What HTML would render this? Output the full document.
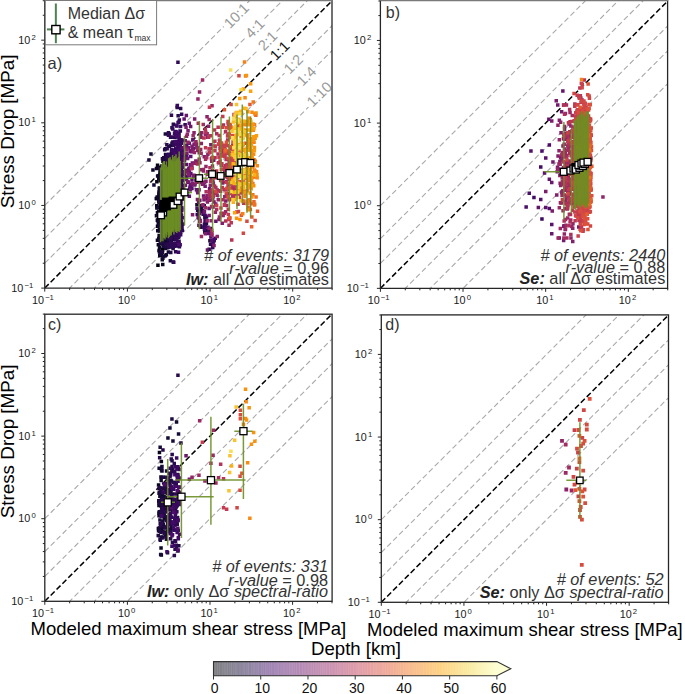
<!DOCTYPE html><html><head><meta charset="utf-8"><title>Stress drop vs modeled shear stress</title><style>html,body{margin:0;padding:0;background:#fff;overflow:hidden}svg{display:block}text{font-family:"Liberation Sans",sans-serif}</style></head><body>
<svg width="685" height="694" viewBox="0 0 685 694">
<rect width="685" height="694" fill="#fff"/>
<defs>
<clipPath id="clipa"><rect x="44.76" y="0.6" width="287.24" height="287.5"/></clipPath>
<clipPath id="clipb"><rect x="380.4" y="0.9" width="287.2" height="287.45"/></clipPath>
<clipPath id="clipc"><rect x="44.8" y="314.2" width="287.3" height="287.1"/></clipPath>
<clipPath id="clipd"><rect x="381.3" y="314.9" width="287.2" height="287.4"/></clipPath>
</defs>
<g clip-path="url(#clipa)">
<line x1="44.76" y1="205.45" x2="414.78" y2="-164.56" stroke="#a9a9a9" stroke-width="1.1" stroke-dasharray="5.4 3"/>
<line x1="44.76" y1="238.34" x2="414.78" y2="-131.67" stroke="#a9a9a9" stroke-width="1.1" stroke-dasharray="5.4 3"/>
<line x1="44.76" y1="263.22" x2="414.78" y2="-106.79" stroke="#a9a9a9" stroke-width="1.1" stroke-dasharray="5.4 3"/>
<line x1="44.76" y1="288.1" x2="414.78" y2="-81.92" stroke="#000" stroke-width="1.5" stroke-dasharray="5.6 2.7"/>
<line x1="44.76" y1="312.98" x2="414.78" y2="-57.04" stroke="#a9a9a9" stroke-width="1.1" stroke-dasharray="5.4 3"/>
<line x1="44.76" y1="337.86" x2="414.78" y2="-32.16" stroke="#a9a9a9" stroke-width="1.1" stroke-dasharray="5.4 3"/>
<line x1="44.76" y1="370.75" x2="414.78" y2="0.73" stroke="#a9a9a9" stroke-width="1.1" stroke-dasharray="5.4 3"/>
<path fill="#000004" d="M160.7 247.4h3.5v3.5h-3.5z"/>
<path fill="#04020f" d="M156.2 263.5h3.5v3.5h-3.5zM155.8 224.5h3.5v3.5h-3.5zM154.6 196.8h3.5v3.5h-3.5zM159.2 222.8h3.5v3.5h-3.5zM157.7 186.7h3.5v3.5h-3.5z"/>
<path fill="#090419" d="M158.5 251.2h3.5v3.5h-3.5zM158.0 254.1h3.5v3.5h-3.5zM157.1 200.2h3.5v3.5h-3.5zM163.0 223.0h3.5v3.5h-3.5zM161.4 232.7h3.5v3.5h-3.5zM158.8 215.8h3.5v3.5h-3.5zM160.3 239.5h3.5v3.5h-3.5zM155.8 163.4h3.5v3.5h-3.5zM160.0 224.5h3.5v3.5h-3.5zM160.8 169.4h3.5v3.5h-3.5zM159.4 174.8h3.5v3.5h-3.5zM159.9 240.0h3.5v3.5h-3.5zM155.0 204.0h3.5v3.5h-3.5zM171.4 205.9h3.5v3.5h-3.5zM161.1 228.4h3.5v3.5h-3.5zM159.0 218.7h3.5v3.5h-3.5zM165.5 185.2h3.5v3.5h-3.5zM159.4 198.5h3.5v3.5h-3.5zM156.9 218.2h3.5v3.5h-3.5zM157.9 214.0h3.5v3.5h-3.5zM155.1 180.0h3.5v3.5h-3.5zM156.3 218.0h3.5v3.5h-3.5zM154.9 196.8h3.5v3.5h-3.5zM159.0 201.0h3.5v3.5h-3.5zM156.6 243.0h3.5v3.5h-3.5zM163.7 230.7h3.5v3.5h-3.5zM159.4 241.1h3.5v3.5h-3.5zM162.4 222.8h3.5v3.5h-3.5zM160.2 216.1h3.5v3.5h-3.5zM208.2 239.0h3.5v3.5h-3.5z"/>
<path fill="#0d0724" d="M165.3 206.7h3.5v3.5h-3.5zM155.7 238.6h3.5v3.5h-3.5zM164.1 198.0h3.5v3.5h-3.5zM157.4 165.4h3.5v3.5h-3.5zM164.1 177.2h3.5v3.5h-3.5zM162.0 189.5h3.5v3.5h-3.5zM167.0 231.2h3.5v3.5h-3.5zM159.6 253.5h3.5v3.5h-3.5zM158.3 196.9h3.5v3.5h-3.5zM158.2 171.1h3.5v3.5h-3.5zM163.6 199.6h3.5v3.5h-3.5zM167.9 217.1h3.5v3.5h-3.5zM162.3 201.9h3.5v3.5h-3.5zM164.6 239.6h3.5v3.5h-3.5zM160.7 186.0h3.5v3.5h-3.5zM156.8 211.5h3.5v3.5h-3.5zM157.3 193.1h3.5v3.5h-3.5zM162.8 230.3h3.5v3.5h-3.5zM158.5 220.4h3.5v3.5h-3.5zM164.9 211.7h3.5v3.5h-3.5zM160.5 258.1h3.5v3.5h-3.5zM160.9 233.7h3.5v3.5h-3.5zM160.7 178.0h3.5v3.5h-3.5zM159.0 169.2h3.5v3.5h-3.5zM166.6 211.5h3.5v3.5h-3.5zM158.0 199.9h3.5v3.5h-3.5zM159.2 241.6h3.5v3.5h-3.5zM167.4 210.9h3.5v3.5h-3.5zM158.4 179.1h3.5v3.5h-3.5zM159.3 198.4h3.5v3.5h-3.5zM160.4 223.7h3.5v3.5h-3.5zM164.5 173.6h3.5v3.5h-3.5zM161.2 208.1h3.5v3.5h-3.5zM163.6 254.0h3.5v3.5h-3.5zM165.0 199.8h3.5v3.5h-3.5zM163.2 196.2h3.5v3.5h-3.5zM165.5 184.1h3.5v3.5h-3.5zM159.2 235.8h3.5v3.5h-3.5zM163.9 177.8h3.5v3.5h-3.5zM162.4 208.0h3.5v3.5h-3.5zM167.5 208.0h3.5v3.5h-3.5zM160.7 250.8h3.5v3.5h-3.5zM167.8 212.2h3.5v3.5h-3.5zM157.5 213.3h3.5v3.5h-3.5zM161.6 223.1h3.5v3.5h-3.5zM160.4 181.6h3.5v3.5h-3.5zM161.3 219.0h3.5v3.5h-3.5zM159.9 200.9h3.5v3.5h-3.5zM166.5 195.5h3.5v3.5h-3.5zM168.1 188.1h3.5v3.5h-3.5zM165.2 174.9h3.5v3.5h-3.5zM164.4 214.7h3.5v3.5h-3.5zM166.7 212.0h3.5v3.5h-3.5zM163.7 193.1h3.5v3.5h-3.5zM160.1 195.2h3.5v3.5h-3.5zM157.6 191.7h3.5v3.5h-3.5zM157.7 229.3h3.5v3.5h-3.5zM157.3 248.8h3.5v3.5h-3.5zM161.6 211.0h3.5v3.5h-3.5zM161.2 213.4h3.5v3.5h-3.5zM161.0 262.7h3.5v3.5h-3.5zM154.7 166.8h3.5v3.5h-3.5zM157.8 245.4h3.5v3.5h-3.5zM164.6 155.9h3.5v3.5h-3.5zM155.6 218.5h3.5v3.5h-3.5zM164.4 227.2h3.5v3.5h-3.5zM165.5 222.8h3.5v3.5h-3.5zM165.2 223.3h3.5v3.5h-3.5zM159.9 199.0h3.5v3.5h-3.5zM165.7 175.6h3.5v3.5h-3.5zM167.6 207.2h3.5v3.5h-3.5zM163.5 241.4h3.5v3.5h-3.5zM161.2 207.8h3.5v3.5h-3.5zM167.3 192.3h3.5v3.5h-3.5zM155.1 206.3h3.5v3.5h-3.5zM163.0 174.4h3.5v3.5h-3.5zM165.9 214.7h3.5v3.5h-3.5z"/>
<path fill="#12092e" d="M161.7 229.0h3.5v3.5h-3.5zM165.7 211.3h3.5v3.5h-3.5zM161.1 256.5h3.5v3.5h-3.5zM160.4 190.4h3.5v3.5h-3.5zM164.8 164.1h3.5v3.5h-3.5zM166.9 198.5h3.5v3.5h-3.5zM161.3 213.5h3.5v3.5h-3.5zM158.4 194.4h3.5v3.5h-3.5zM163.3 190.3h3.5v3.5h-3.5zM167.5 228.2h3.5v3.5h-3.5zM160.8 221.4h3.5v3.5h-3.5zM168.3 208.1h3.5v3.5h-3.5zM162.2 212.8h3.5v3.5h-3.5zM161.7 202.4h3.5v3.5h-3.5zM162.4 205.7h3.5v3.5h-3.5zM160.9 166.2h3.5v3.5h-3.5zM160.8 208.2h3.5v3.5h-3.5zM157.7 211.3h3.5v3.5h-3.5zM166.5 201.8h3.5v3.5h-3.5zM166.9 183.8h3.5v3.5h-3.5zM159.4 217.7h3.5v3.5h-3.5zM167.0 226.2h3.5v3.5h-3.5zM159.7 234.5h3.5v3.5h-3.5zM163.8 152.7h3.5v3.5h-3.5zM162.9 186.9h3.5v3.5h-3.5zM159.6 240.7h3.5v3.5h-3.5zM163.4 222.4h3.5v3.5h-3.5zM165.9 245.9h3.5v3.5h-3.5zM163.4 194.0h3.5v3.5h-3.5zM165.8 233.2h3.5v3.5h-3.5zM163.7 237.9h3.5v3.5h-3.5zM162.3 210.5h3.5v3.5h-3.5zM169.1 143.7h3.5v3.5h-3.5zM169.0 206.4h3.5v3.5h-3.5zM161.5 214.1h3.5v3.5h-3.5zM163.0 214.4h3.5v3.5h-3.5zM161.5 196.0h3.5v3.5h-3.5zM157.6 227.4h3.5v3.5h-3.5zM163.2 194.8h3.5v3.5h-3.5zM165.0 213.4h3.5v3.5h-3.5zM167.4 230.9h3.5v3.5h-3.5zM159.1 214.0h3.5v3.5h-3.5zM162.3 211.1h3.5v3.5h-3.5zM170.8 157.4h3.5v3.5h-3.5zM161.2 159.5h3.5v3.5h-3.5zM160.3 201.9h3.5v3.5h-3.5zM160.7 212.6h3.5v3.5h-3.5zM168.3 206.9h3.5v3.5h-3.5zM165.3 219.2h3.5v3.5h-3.5zM165.8 198.2h3.5v3.5h-3.5zM163.8 202.5h3.5v3.5h-3.5zM170.3 223.5h3.5v3.5h-3.5zM160.7 201.6h3.5v3.5h-3.5zM161.7 212.3h3.5v3.5h-3.5zM157.3 217.4h3.5v3.5h-3.5zM158.2 199.2h3.5v3.5h-3.5zM161.9 230.9h3.5v3.5h-3.5zM163.0 188.5h3.5v3.5h-3.5zM163.6 157.6h3.5v3.5h-3.5zM167.0 245.1h3.5v3.5h-3.5zM159.4 174.3h3.5v3.5h-3.5zM167.9 216.9h3.5v3.5h-3.5zM162.5 225.3h3.5v3.5h-3.5zM164.1 159.9h3.5v3.5h-3.5zM158.9 192.2h3.5v3.5h-3.5zM166.3 196.7h3.5v3.5h-3.5zM159.4 212.8h3.5v3.5h-3.5zM168.6 208.2h3.5v3.5h-3.5zM159.5 213.1h3.5v3.5h-3.5zM162.2 156.3h3.5v3.5h-3.5zM161.8 196.0h3.5v3.5h-3.5zM163.8 219.4h3.5v3.5h-3.5zM168.5 171.7h3.5v3.5h-3.5zM155.7 211.1h3.5v3.5h-3.5zM166.2 188.8h3.5v3.5h-3.5zM162.8 190.6h3.5v3.5h-3.5zM167.6 178.1h3.5v3.5h-3.5zM163.8 184.2h3.5v3.5h-3.5zM165.6 181.6h3.5v3.5h-3.5zM159.0 173.2h3.5v3.5h-3.5zM165.0 225.0h3.5v3.5h-3.5zM166.7 225.7h3.5v3.5h-3.5zM164.5 224.8h3.5v3.5h-3.5zM157.1 198.4h3.5v3.5h-3.5zM164.1 201.0h3.5v3.5h-3.5zM171.4 207.1h3.5v3.5h-3.5zM168.2 215.9h3.5v3.5h-3.5zM161.9 212.2h3.5v3.5h-3.5zM164.2 181.7h3.5v3.5h-3.5zM155.5 195.3h3.5v3.5h-3.5zM163.6 188.5h3.5v3.5h-3.5zM156.6 221.6h3.5v3.5h-3.5zM167.4 233.9h3.5v3.5h-3.5zM166.0 209.7h3.5v3.5h-3.5zM162.3 197.4h3.5v3.5h-3.5zM171.9 227.7h3.5v3.5h-3.5zM156.0 229.1h3.5v3.5h-3.5zM168.1 200.2h3.5v3.5h-3.5zM161.4 243.0h3.5v3.5h-3.5zM164.0 232.8h3.5v3.5h-3.5zM163.5 219.6h3.5v3.5h-3.5zM164.0 233.7h3.5v3.5h-3.5zM161.2 180.4h3.5v3.5h-3.5zM160.9 220.3h3.5v3.5h-3.5zM163.7 197.7h3.5v3.5h-3.5zM170.9 198.0h3.5v3.5h-3.5zM171.9 218.9h3.5v3.5h-3.5zM168.5 194.8h3.5v3.5h-3.5zM162.4 209.3h3.5v3.5h-3.5zM167.3 165.6h3.5v3.5h-3.5zM170.3 168.5h3.5v3.5h-3.5zM165.6 218.6h3.5v3.5h-3.5zM162.8 215.3h3.5v3.5h-3.5zM161.4 197.5h3.5v3.5h-3.5zM169.0 200.3h3.5v3.5h-3.5zM165.9 241.3h3.5v3.5h-3.5zM155.9 174.2h3.5v3.5h-3.5zM162.6 180.4h3.5v3.5h-3.5zM169.6 204.2h3.5v3.5h-3.5zM175.0 220.1h3.5v3.5h-3.5zM157.8 199.8h3.5v3.5h-3.5zM164.4 189.7h3.5v3.5h-3.5zM169.0 242.9h3.5v3.5h-3.5zM159.7 241.3h3.5v3.5h-3.5zM165.0 222.3h3.5v3.5h-3.5zM168.4 171.5h3.5v3.5h-3.5zM157.0 236.8h3.5v3.5h-3.5zM157.1 205.7h3.5v3.5h-3.5zM176.8 170.2h3.5v3.5h-3.5zM169.7 215.2h3.5v3.5h-3.5zM163.2 243.5h3.5v3.5h-3.5zM159.1 211.5h3.5v3.5h-3.5zM161.5 179.3h3.5v3.5h-3.5zM162.9 202.0h3.5v3.5h-3.5zM167.2 195.5h3.5v3.5h-3.5zM172.7 206.9h3.5v3.5h-3.5zM161.7 209.5h3.5v3.5h-3.5zM159.0 194.6h3.5v3.5h-3.5zM157.0 176.4h3.5v3.5h-3.5zM170.0 221.8h3.5v3.5h-3.5zM167.9 238.4h3.5v3.5h-3.5zM170.2 212.0h3.5v3.5h-3.5zM162.0 209.7h3.5v3.5h-3.5zM157.4 233.8h3.5v3.5h-3.5zM158.8 205.0h3.5v3.5h-3.5zM162.5 220.3h3.5v3.5h-3.5zM171.3 184.1h3.5v3.5h-3.5zM171.7 187.1h3.5v3.5h-3.5zM163.8 246.6h3.5v3.5h-3.5zM159.5 234.5h3.5v3.5h-3.5zM159.2 206.5h3.5v3.5h-3.5zM166.3 238.1h3.5v3.5h-3.5zM154.7 214.1h3.5v3.5h-3.5zM166.6 250.3h3.5v3.5h-3.5zM160.4 204.3h3.5v3.5h-3.5zM157.7 189.9h3.5v3.5h-3.5zM163.6 147.1h3.5v3.5h-3.5zM156.8 209.7h3.5v3.5h-3.5zM160.4 218.8h3.5v3.5h-3.5zM157.1 194.2h3.5v3.5h-3.5zM168.0 211.8h3.5v3.5h-3.5zM161.6 178.0h3.5v3.5h-3.5zM163.3 183.2h3.5v3.5h-3.5zM162.8 198.4h3.5v3.5h-3.5zM165.1 223.3h3.5v3.5h-3.5zM167.7 239.6h3.5v3.5h-3.5zM166.4 230.8h3.5v3.5h-3.5zM158.4 191.8h3.5v3.5h-3.5zM164.6 252.9h3.5v3.5h-3.5zM165.5 197.5h3.5v3.5h-3.5zM169.7 170.2h3.5v3.5h-3.5zM160.3 208.9h3.5v3.5h-3.5zM157.7 250.3h3.5v3.5h-3.5zM160.2 202.6h3.5v3.5h-3.5zM165.3 181.3h3.5v3.5h-3.5zM163.4 179.0h3.5v3.5h-3.5zM156.1 219.1h3.5v3.5h-3.5zM162.8 204.8h3.5v3.5h-3.5zM159.1 212.7h3.5v3.5h-3.5zM161.7 221.3h3.5v3.5h-3.5zM195.2 202.9h3.5v3.5h-3.5zM151.2 168.2h3.5v3.5h-3.5z"/>
<path fill="#160b39" d="M168.6 259.1h3.5v3.5h-3.5zM172.0 182.4h3.5v3.5h-3.5zM164.9 174.4h3.5v3.5h-3.5zM161.9 177.7h3.5v3.5h-3.5zM166.4 205.3h3.5v3.5h-3.5zM160.7 189.7h3.5v3.5h-3.5zM172.3 180.8h3.5v3.5h-3.5zM168.8 227.8h3.5v3.5h-3.5zM164.2 198.5h3.5v3.5h-3.5zM165.8 201.6h3.5v3.5h-3.5zM157.2 224.3h3.5v3.5h-3.5zM169.8 170.6h3.5v3.5h-3.5zM169.3 185.1h3.5v3.5h-3.5zM166.1 217.4h3.5v3.5h-3.5zM161.9 208.9h3.5v3.5h-3.5zM160.8 220.4h3.5v3.5h-3.5zM172.0 208.1h3.5v3.5h-3.5zM172.6 202.4h3.5v3.5h-3.5zM162.2 169.1h3.5v3.5h-3.5zM165.9 204.5h3.5v3.5h-3.5zM173.8 199.9h3.5v3.5h-3.5zM167.1 219.9h3.5v3.5h-3.5zM171.0 199.5h3.5v3.5h-3.5zM166.9 215.4h3.5v3.5h-3.5zM168.9 179.7h3.5v3.5h-3.5zM166.0 200.7h3.5v3.5h-3.5zM162.0 190.0h3.5v3.5h-3.5zM168.8 226.9h3.5v3.5h-3.5zM161.7 178.3h3.5v3.5h-3.5zM160.1 198.0h3.5v3.5h-3.5zM169.8 173.8h3.5v3.5h-3.5zM169.3 208.5h3.5v3.5h-3.5zM161.5 178.5h3.5v3.5h-3.5zM166.3 192.6h3.5v3.5h-3.5zM169.7 231.4h3.5v3.5h-3.5zM162.6 208.7h3.5v3.5h-3.5zM170.3 232.0h3.5v3.5h-3.5zM168.5 215.7h3.5v3.5h-3.5zM170.1 196.6h3.5v3.5h-3.5zM165.5 189.3h3.5v3.5h-3.5zM164.2 205.1h3.5v3.5h-3.5zM168.9 174.5h3.5v3.5h-3.5zM170.7 192.4h3.5v3.5h-3.5zM167.9 169.9h3.5v3.5h-3.5zM170.4 226.2h3.5v3.5h-3.5zM164.8 210.9h3.5v3.5h-3.5zM166.9 191.3h3.5v3.5h-3.5zM163.7 203.5h3.5v3.5h-3.5zM177.5 200.3h3.5v3.5h-3.5zM160.4 180.7h3.5v3.5h-3.5zM169.1 192.5h3.5v3.5h-3.5zM165.1 195.8h3.5v3.5h-3.5zM168.1 206.7h3.5v3.5h-3.5zM174.0 207.2h3.5v3.5h-3.5zM173.9 202.5h3.5v3.5h-3.5zM169.8 181.2h3.5v3.5h-3.5zM160.9 237.2h3.5v3.5h-3.5zM158.5 223.5h3.5v3.5h-3.5zM167.8 179.3h3.5v3.5h-3.5zM172.6 196.0h3.5v3.5h-3.5zM168.8 165.4h3.5v3.5h-3.5zM172.9 237.4h3.5v3.5h-3.5zM165.3 203.1h3.5v3.5h-3.5zM167.6 214.2h3.5v3.5h-3.5zM171.0 179.7h3.5v3.5h-3.5zM164.9 205.8h3.5v3.5h-3.5zM159.2 215.0h3.5v3.5h-3.5zM170.2 203.7h3.5v3.5h-3.5zM166.8 231.5h3.5v3.5h-3.5zM168.5 204.4h3.5v3.5h-3.5zM161.4 179.6h3.5v3.5h-3.5zM172.2 214.0h3.5v3.5h-3.5zM166.0 194.0h3.5v3.5h-3.5zM163.0 177.0h3.5v3.5h-3.5zM166.4 209.4h3.5v3.5h-3.5zM167.3 190.9h3.5v3.5h-3.5zM161.7 244.6h3.5v3.5h-3.5zM172.4 192.2h3.5v3.5h-3.5zM168.0 226.9h3.5v3.5h-3.5zM162.6 233.5h3.5v3.5h-3.5zM165.3 167.4h3.5v3.5h-3.5zM169.8 161.9h3.5v3.5h-3.5zM168.3 197.6h3.5v3.5h-3.5zM169.1 161.9h3.5v3.5h-3.5zM167.6 184.6h3.5v3.5h-3.5zM168.8 217.0h3.5v3.5h-3.5zM164.2 180.3h3.5v3.5h-3.5zM166.3 216.6h3.5v3.5h-3.5zM167.1 212.1h3.5v3.5h-3.5zM166.3 183.3h3.5v3.5h-3.5zM158.1 222.4h3.5v3.5h-3.5zM167.9 213.7h3.5v3.5h-3.5zM173.1 184.6h3.5v3.5h-3.5zM169.3 178.3h3.5v3.5h-3.5zM172.5 217.0h3.5v3.5h-3.5zM163.7 203.7h3.5v3.5h-3.5zM165.0 217.6h3.5v3.5h-3.5zM164.1 175.6h3.5v3.5h-3.5zM164.7 206.2h3.5v3.5h-3.5zM171.5 152.9h3.5v3.5h-3.5zM171.9 149.6h3.5v3.5h-3.5zM165.8 207.8h3.5v3.5h-3.5zM167.2 190.1h3.5v3.5h-3.5zM162.6 231.0h3.5v3.5h-3.5zM176.3 214.1h3.5v3.5h-3.5zM164.7 161.8h3.5v3.5h-3.5zM172.6 203.2h3.5v3.5h-3.5zM163.6 132.3h3.5v3.5h-3.5zM162.9 233.2h3.5v3.5h-3.5zM165.0 184.9h3.5v3.5h-3.5zM160.1 164.3h3.5v3.5h-3.5zM170.2 235.4h3.5v3.5h-3.5zM164.1 204.4h3.5v3.5h-3.5zM170.3 214.6h3.5v3.5h-3.5zM166.8 216.9h3.5v3.5h-3.5zM157.5 189.9h3.5v3.5h-3.5zM169.5 211.7h3.5v3.5h-3.5zM172.1 213.1h3.5v3.5h-3.5zM172.3 215.8h3.5v3.5h-3.5zM159.7 174.2h3.5v3.5h-3.5zM165.1 179.8h3.5v3.5h-3.5zM164.3 220.8h3.5v3.5h-3.5zM159.2 214.0h3.5v3.5h-3.5zM164.6 188.1h3.5v3.5h-3.5zM173.5 232.2h3.5v3.5h-3.5zM162.0 192.6h3.5v3.5h-3.5zM166.9 241.4h3.5v3.5h-3.5zM162.0 254.8h3.5v3.5h-3.5zM172.5 243.6h3.5v3.5h-3.5zM168.7 216.4h3.5v3.5h-3.5zM163.2 209.7h3.5v3.5h-3.5zM172.5 228.7h3.5v3.5h-3.5zM168.2 206.0h3.5v3.5h-3.5zM169.4 205.8h3.5v3.5h-3.5zM166.5 229.4h3.5v3.5h-3.5zM157.7 186.2h3.5v3.5h-3.5zM165.2 174.4h3.5v3.5h-3.5zM162.7 181.3h3.5v3.5h-3.5zM175.5 206.3h3.5v3.5h-3.5zM159.3 198.7h3.5v3.5h-3.5zM168.6 202.4h3.5v3.5h-3.5zM172.6 209.1h3.5v3.5h-3.5zM169.7 149.3h3.5v3.5h-3.5zM158.6 198.3h3.5v3.5h-3.5zM165.2 210.7h3.5v3.5h-3.5zM163.3 167.1h3.5v3.5h-3.5zM167.4 199.8h3.5v3.5h-3.5zM168.5 169.3h3.5v3.5h-3.5zM168.9 227.2h3.5v3.5h-3.5zM172.9 179.7h3.5v3.5h-3.5zM156.1 205.4h3.5v3.5h-3.5zM174.8 172.2h3.5v3.5h-3.5zM161.9 160.2h3.5v3.5h-3.5zM166.5 214.8h3.5v3.5h-3.5zM161.5 210.4h3.5v3.5h-3.5zM165.9 194.7h3.5v3.5h-3.5zM159.2 252.6h3.5v3.5h-3.5zM170.1 184.7h3.5v3.5h-3.5zM163.7 205.8h3.5v3.5h-3.5zM173.0 185.6h3.5v3.5h-3.5zM173.7 184.2h3.5v3.5h-3.5zM170.4 197.4h3.5v3.5h-3.5zM166.5 212.9h3.5v3.5h-3.5zM174.0 200.3h3.5v3.5h-3.5zM166.7 176.6h3.5v3.5h-3.5zM161.9 242.0h3.5v3.5h-3.5zM168.6 204.0h3.5v3.5h-3.5zM171.3 197.7h3.5v3.5h-3.5zM163.0 223.0h3.5v3.5h-3.5zM162.9 212.1h3.5v3.5h-3.5zM164.8 226.6h3.5v3.5h-3.5zM173.9 201.8h3.5v3.5h-3.5zM168.1 193.4h3.5v3.5h-3.5zM165.9 213.2h3.5v3.5h-3.5zM164.5 187.3h3.5v3.5h-3.5zM173.5 170.2h3.5v3.5h-3.5zM164.3 199.3h3.5v3.5h-3.5zM164.5 158.3h3.5v3.5h-3.5zM163.4 212.5h3.5v3.5h-3.5zM167.6 214.5h3.5v3.5h-3.5zM167.6 202.2h3.5v3.5h-3.5zM175.2 221.6h3.5v3.5h-3.5zM163.9 234.6h3.5v3.5h-3.5zM161.1 238.4h3.5v3.5h-3.5zM168.1 179.9h3.5v3.5h-3.5zM173.4 195.6h3.5v3.5h-3.5zM165.0 226.7h3.5v3.5h-3.5zM167.2 209.0h3.5v3.5h-3.5zM158.4 202.4h3.5v3.5h-3.5zM170.1 213.0h3.5v3.5h-3.5zM165.9 160.0h3.5v3.5h-3.5zM169.3 177.7h3.5v3.5h-3.5zM170.8 233.2h3.5v3.5h-3.5zM165.6 188.6h3.5v3.5h-3.5zM165.4 221.3h3.5v3.5h-3.5zM165.8 209.7h3.5v3.5h-3.5zM168.8 232.5h3.5v3.5h-3.5zM162.7 190.2h3.5v3.5h-3.5zM163.8 204.6h3.5v3.5h-3.5zM174.3 208.7h3.5v3.5h-3.5zM173.5 179.2h3.5v3.5h-3.5zM166.4 220.9h3.5v3.5h-3.5zM174.0 171.2h3.5v3.5h-3.5zM172.0 220.0h3.5v3.5h-3.5zM157.2 191.3h3.5v3.5h-3.5zM162.7 170.5h3.5v3.5h-3.5zM167.6 196.2h3.5v3.5h-3.5zM160.7 240.0h3.5v3.5h-3.5zM169.9 177.6h3.5v3.5h-3.5zM166.6 193.4h3.5v3.5h-3.5zM169.2 222.2h3.5v3.5h-3.5zM167.9 232.5h3.5v3.5h-3.5zM163.9 222.3h3.5v3.5h-3.5zM162.9 199.8h3.5v3.5h-3.5zM167.0 181.2h3.5v3.5h-3.5zM173.9 203.4h3.5v3.5h-3.5zM160.5 176.1h3.5v3.5h-3.5zM163.6 173.5h3.5v3.5h-3.5zM162.1 224.4h3.5v3.5h-3.5zM159.8 237.2h3.5v3.5h-3.5zM166.2 210.2h3.5v3.5h-3.5zM170.9 209.1h3.5v3.5h-3.5zM166.4 226.2h3.5v3.5h-3.5zM166.5 185.2h3.5v3.5h-3.5zM158.8 241.9h3.5v3.5h-3.5zM163.3 210.3h3.5v3.5h-3.5zM167.2 198.8h3.5v3.5h-3.5zM164.6 229.8h3.5v3.5h-3.5zM171.3 245.5h3.5v3.5h-3.5zM160.2 200.0h3.5v3.5h-3.5zM168.9 206.7h3.5v3.5h-3.5zM163.8 211.8h3.5v3.5h-3.5zM167.8 239.1h3.5v3.5h-3.5zM165.9 227.0h3.5v3.5h-3.5zM161.5 195.7h3.5v3.5h-3.5zM162.3 188.0h3.5v3.5h-3.5zM162.9 177.8h3.5v3.5h-3.5zM166.4 194.8h3.5v3.5h-3.5zM161.4 222.7h3.5v3.5h-3.5zM204.9 229.0h3.5v3.5h-3.5zM199.9 206.4h3.5v3.5h-3.5zM204.4 222.0h3.5v3.5h-3.5zM197.3 211.3h3.5v3.5h-3.5zM208.9 226.7h3.5v3.5h-3.5zM149.2 152.2h3.5v3.5h-3.5zM152.2 183.2h3.5v3.5h-3.5z"/>
<path fill="#1f0b42" d="M170.1 238.6h3.5v3.5h-3.5zM170.4 181.3h3.5v3.5h-3.5zM165.0 199.7h3.5v3.5h-3.5zM162.0 156.1h3.5v3.5h-3.5zM173.0 192.9h3.5v3.5h-3.5zM166.0 186.1h3.5v3.5h-3.5zM168.2 232.6h3.5v3.5h-3.5zM174.5 194.8h3.5v3.5h-3.5zM167.5 167.4h3.5v3.5h-3.5zM170.1 188.8h3.5v3.5h-3.5zM169.1 162.3h3.5v3.5h-3.5zM166.9 220.9h3.5v3.5h-3.5zM164.9 189.0h3.5v3.5h-3.5zM171.9 200.9h3.5v3.5h-3.5zM168.1 209.5h3.5v3.5h-3.5zM169.0 216.6h3.5v3.5h-3.5zM172.5 179.3h3.5v3.5h-3.5zM172.1 197.8h3.5v3.5h-3.5zM172.2 153.9h3.5v3.5h-3.5zM174.3 207.2h3.5v3.5h-3.5zM160.1 250.0h3.5v3.5h-3.5zM172.6 223.6h3.5v3.5h-3.5zM167.8 184.4h3.5v3.5h-3.5zM172.8 162.0h3.5v3.5h-3.5zM179.7 169.0h3.5v3.5h-3.5zM164.0 165.5h3.5v3.5h-3.5zM161.7 175.5h3.5v3.5h-3.5zM168.1 215.8h3.5v3.5h-3.5zM170.8 233.8h3.5v3.5h-3.5zM173.2 208.5h3.5v3.5h-3.5zM174.9 174.2h3.5v3.5h-3.5zM173.1 172.2h3.5v3.5h-3.5zM168.1 210.9h3.5v3.5h-3.5zM170.5 184.3h3.5v3.5h-3.5zM169.4 192.9h3.5v3.5h-3.5zM168.9 217.3h3.5v3.5h-3.5zM165.6 209.0h3.5v3.5h-3.5zM158.1 238.7h3.5v3.5h-3.5zM173.1 201.1h3.5v3.5h-3.5zM162.8 204.6h3.5v3.5h-3.5zM157.2 199.7h3.5v3.5h-3.5zM166.8 181.0h3.5v3.5h-3.5zM172.6 206.2h3.5v3.5h-3.5zM170.2 199.9h3.5v3.5h-3.5zM163.2 201.6h3.5v3.5h-3.5zM176.0 199.5h3.5v3.5h-3.5zM168.2 208.9h3.5v3.5h-3.5zM162.1 182.2h3.5v3.5h-3.5zM168.9 201.8h3.5v3.5h-3.5zM165.3 201.0h3.5v3.5h-3.5zM176.0 211.3h3.5v3.5h-3.5zM173.1 231.6h3.5v3.5h-3.5zM178.3 175.3h3.5v3.5h-3.5zM168.6 196.2h3.5v3.5h-3.5zM168.0 203.2h3.5v3.5h-3.5zM166.7 211.8h3.5v3.5h-3.5zM174.1 157.4h3.5v3.5h-3.5zM167.9 221.4h3.5v3.5h-3.5zM169.7 193.1h3.5v3.5h-3.5zM166.6 162.8h3.5v3.5h-3.5zM167.2 183.5h3.5v3.5h-3.5zM166.8 210.5h3.5v3.5h-3.5zM164.1 194.7h3.5v3.5h-3.5zM173.8 164.3h3.5v3.5h-3.5zM163.1 179.0h3.5v3.5h-3.5zM169.8 213.6h3.5v3.5h-3.5zM165.5 202.8h3.5v3.5h-3.5zM169.9 228.9h3.5v3.5h-3.5zM176.5 192.9h3.5v3.5h-3.5zM162.1 216.8h3.5v3.5h-3.5zM161.3 203.4h3.5v3.5h-3.5zM170.0 210.8h3.5v3.5h-3.5zM175.4 180.0h3.5v3.5h-3.5zM167.8 169.0h3.5v3.5h-3.5zM172.5 187.0h3.5v3.5h-3.5zM166.1 213.8h3.5v3.5h-3.5zM160.7 157.0h3.5v3.5h-3.5zM167.6 132.2h3.5v3.5h-3.5zM165.7 213.4h3.5v3.5h-3.5zM167.0 216.6h3.5v3.5h-3.5zM170.8 192.2h3.5v3.5h-3.5zM169.6 165.4h3.5v3.5h-3.5zM165.5 229.3h3.5v3.5h-3.5zM166.0 209.0h3.5v3.5h-3.5zM172.4 218.9h3.5v3.5h-3.5zM171.3 211.1h3.5v3.5h-3.5zM163.8 244.0h3.5v3.5h-3.5zM167.0 208.3h3.5v3.5h-3.5zM166.3 226.0h3.5v3.5h-3.5zM159.1 206.1h3.5v3.5h-3.5zM167.0 211.4h3.5v3.5h-3.5zM167.1 189.8h3.5v3.5h-3.5zM167.5 144.8h3.5v3.5h-3.5zM171.5 189.7h3.5v3.5h-3.5zM176.6 168.9h3.5v3.5h-3.5zM161.9 185.1h3.5v3.5h-3.5zM163.8 224.5h3.5v3.5h-3.5zM165.4 155.5h3.5v3.5h-3.5zM169.3 186.0h3.5v3.5h-3.5zM167.4 207.4h3.5v3.5h-3.5zM178.1 226.1h3.5v3.5h-3.5zM163.2 201.9h3.5v3.5h-3.5zM162.4 209.7h3.5v3.5h-3.5zM162.0 211.2h3.5v3.5h-3.5zM178.2 203.5h3.5v3.5h-3.5zM176.9 185.3h3.5v3.5h-3.5zM167.5 205.1h3.5v3.5h-3.5zM167.5 154.0h3.5v3.5h-3.5zM169.1 227.2h3.5v3.5h-3.5zM169.6 196.3h3.5v3.5h-3.5zM169.7 166.8h3.5v3.5h-3.5zM171.7 122.6h3.5v3.5h-3.5zM170.4 149.1h3.5v3.5h-3.5zM172.6 186.0h3.5v3.5h-3.5zM165.1 173.7h3.5v3.5h-3.5zM171.4 219.9h3.5v3.5h-3.5zM178.6 148.7h3.5v3.5h-3.5zM167.7 198.9h3.5v3.5h-3.5zM160.6 195.0h3.5v3.5h-3.5zM171.3 202.9h3.5v3.5h-3.5zM174.7 203.1h3.5v3.5h-3.5zM166.7 238.1h3.5v3.5h-3.5zM171.1 190.7h3.5v3.5h-3.5zM160.4 169.2h3.5v3.5h-3.5zM174.0 191.6h3.5v3.5h-3.5zM170.0 206.0h3.5v3.5h-3.5zM175.6 189.6h3.5v3.5h-3.5zM175.4 192.7h3.5v3.5h-3.5zM164.2 211.7h3.5v3.5h-3.5zM164.5 195.8h3.5v3.5h-3.5zM174.2 193.7h3.5v3.5h-3.5zM174.8 180.0h3.5v3.5h-3.5zM164.1 187.0h3.5v3.5h-3.5zM171.1 140.3h3.5v3.5h-3.5zM172.1 216.1h3.5v3.5h-3.5zM166.3 209.1h3.5v3.5h-3.5zM167.2 182.9h3.5v3.5h-3.5zM165.0 214.6h3.5v3.5h-3.5zM174.3 187.0h3.5v3.5h-3.5zM165.7 191.3h3.5v3.5h-3.5zM170.2 200.2h3.5v3.5h-3.5zM168.4 212.2h3.5v3.5h-3.5zM173.3 200.9h3.5v3.5h-3.5zM169.9 209.5h3.5v3.5h-3.5zM166.2 243.7h3.5v3.5h-3.5zM171.3 201.2h3.5v3.5h-3.5zM169.5 198.4h3.5v3.5h-3.5zM164.9 200.8h3.5v3.5h-3.5zM172.1 195.2h3.5v3.5h-3.5zM166.3 236.6h3.5v3.5h-3.5zM165.1 184.5h3.5v3.5h-3.5zM167.3 181.7h3.5v3.5h-3.5zM166.9 232.0h3.5v3.5h-3.5zM168.2 182.7h3.5v3.5h-3.5zM170.4 205.5h3.5v3.5h-3.5zM167.0 214.1h3.5v3.5h-3.5zM177.6 185.0h3.5v3.5h-3.5zM166.7 144.8h3.5v3.5h-3.5zM174.6 186.7h3.5v3.5h-3.5zM173.2 204.6h3.5v3.5h-3.5zM176.3 198.2h3.5v3.5h-3.5zM173.4 191.7h3.5v3.5h-3.5zM166.7 194.2h3.5v3.5h-3.5zM160.8 164.4h3.5v3.5h-3.5zM167.0 170.5h3.5v3.5h-3.5zM178.1 153.3h3.5v3.5h-3.5zM172.1 188.9h3.5v3.5h-3.5zM170.5 205.4h3.5v3.5h-3.5zM172.9 186.2h3.5v3.5h-3.5zM161.2 222.2h3.5v3.5h-3.5zM169.6 222.0h3.5v3.5h-3.5zM169.0 176.3h3.5v3.5h-3.5zM171.0 207.6h3.5v3.5h-3.5zM170.5 197.0h3.5v3.5h-3.5zM170.4 204.7h3.5v3.5h-3.5zM169.8 152.2h3.5v3.5h-3.5zM168.8 202.7h3.5v3.5h-3.5zM171.6 214.6h3.5v3.5h-3.5zM173.0 168.9h3.5v3.5h-3.5zM173.6 224.3h3.5v3.5h-3.5zM164.9 218.0h3.5v3.5h-3.5zM173.2 153.3h3.5v3.5h-3.5zM166.0 198.1h3.5v3.5h-3.5zM165.9 205.6h3.5v3.5h-3.5zM172.7 184.8h3.5v3.5h-3.5zM169.9 174.4h3.5v3.5h-3.5zM165.0 216.8h3.5v3.5h-3.5zM172.0 260.4h3.5v3.5h-3.5zM170.1 222.6h3.5v3.5h-3.5zM168.0 191.5h3.5v3.5h-3.5zM167.3 200.0h3.5v3.5h-3.5zM170.0 195.7h3.5v3.5h-3.5zM169.4 167.8h3.5v3.5h-3.5zM170.3 225.2h3.5v3.5h-3.5zM160.8 240.7h3.5v3.5h-3.5zM174.4 213.6h3.5v3.5h-3.5zM171.8 177.5h3.5v3.5h-3.5zM166.7 199.9h3.5v3.5h-3.5zM171.5 242.6h3.5v3.5h-3.5zM160.0 198.5h3.5v3.5h-3.5zM164.2 207.6h3.5v3.5h-3.5zM171.3 246.7h3.5v3.5h-3.5zM177.7 193.7h3.5v3.5h-3.5zM166.9 163.0h3.5v3.5h-3.5zM173.6 149.3h3.5v3.5h-3.5zM163.3 233.2h3.5v3.5h-3.5zM171.3 154.3h3.5v3.5h-3.5zM169.1 205.9h3.5v3.5h-3.5zM171.1 214.8h3.5v3.5h-3.5zM168.9 189.5h3.5v3.5h-3.5zM172.9 175.0h3.5v3.5h-3.5zM166.1 182.0h3.5v3.5h-3.5zM168.1 187.0h3.5v3.5h-3.5zM171.4 220.5h3.5v3.5h-3.5zM167.7 162.9h3.5v3.5h-3.5zM175.2 202.4h3.5v3.5h-3.5zM176.3 172.3h3.5v3.5h-3.5zM171.7 171.3h3.5v3.5h-3.5zM170.7 234.1h3.5v3.5h-3.5zM179.0 208.0h3.5v3.5h-3.5zM172.1 228.1h3.5v3.5h-3.5zM170.2 173.4h3.5v3.5h-3.5zM180.2 157.1h3.5v3.5h-3.5zM158.0 167.3h3.5v3.5h-3.5zM176.9 210.0h3.5v3.5h-3.5zM167.9 209.7h3.5v3.5h-3.5zM166.2 197.5h3.5v3.5h-3.5zM170.3 190.7h3.5v3.5h-3.5zM172.0 209.9h3.5v3.5h-3.5zM170.5 176.0h3.5v3.5h-3.5zM166.9 165.4h3.5v3.5h-3.5zM168.8 159.5h3.5v3.5h-3.5zM173.6 172.3h3.5v3.5h-3.5zM158.9 240.3h3.5v3.5h-3.5zM175.9 205.4h3.5v3.5h-3.5zM176.0 195.7h3.5v3.5h-3.5zM177.7 218.2h3.5v3.5h-3.5zM166.3 170.3h3.5v3.5h-3.5zM168.5 193.4h3.5v3.5h-3.5zM166.8 225.8h3.5v3.5h-3.5zM179.0 223.1h3.5v3.5h-3.5zM168.2 187.7h3.5v3.5h-3.5zM170.4 175.6h3.5v3.5h-3.5zM163.5 190.1h3.5v3.5h-3.5zM168.1 187.3h3.5v3.5h-3.5zM168.4 178.2h3.5v3.5h-3.5zM167.5 201.8h3.5v3.5h-3.5zM172.9 224.7h3.5v3.5h-3.5zM163.8 217.0h3.5v3.5h-3.5zM169.3 239.2h3.5v3.5h-3.5zM167.2 213.3h3.5v3.5h-3.5zM167.7 233.5h3.5v3.5h-3.5zM175.6 205.8h3.5v3.5h-3.5zM170.3 200.2h3.5v3.5h-3.5zM166.6 193.8h3.5v3.5h-3.5zM165.2 216.4h3.5v3.5h-3.5zM167.8 184.8h3.5v3.5h-3.5zM172.5 205.6h3.5v3.5h-3.5zM173.6 181.5h3.5v3.5h-3.5zM171.2 159.6h3.5v3.5h-3.5zM172.5 180.0h3.5v3.5h-3.5zM166.7 205.0h3.5v3.5h-3.5zM174.3 181.0h3.5v3.5h-3.5zM172.7 175.4h3.5v3.5h-3.5zM161.9 201.8h3.5v3.5h-3.5zM162.7 172.7h3.5v3.5h-3.5zM173.6 184.5h3.5v3.5h-3.5zM172.6 224.2h3.5v3.5h-3.5zM166.6 206.1h3.5v3.5h-3.5zM177.3 198.9h3.5v3.5h-3.5zM174.2 190.7h3.5v3.5h-3.5zM164.9 201.1h3.5v3.5h-3.5zM171.8 171.9h3.5v3.5h-3.5zM166.0 226.1h3.5v3.5h-3.5zM173.1 194.2h3.5v3.5h-3.5zM168.8 160.9h3.5v3.5h-3.5zM167.5 218.4h3.5v3.5h-3.5zM164.6 213.0h3.5v3.5h-3.5zM171.9 200.7h3.5v3.5h-3.5zM171.7 206.2h3.5v3.5h-3.5zM166.0 228.7h3.5v3.5h-3.5zM170.8 183.4h3.5v3.5h-3.5zM175.4 202.9h3.5v3.5h-3.5zM166.8 202.8h3.5v3.5h-3.5zM164.6 244.2h3.5v3.5h-3.5zM168.4 196.7h3.5v3.5h-3.5zM167.8 224.2h3.5v3.5h-3.5zM175.4 202.1h3.5v3.5h-3.5zM164.8 191.3h3.5v3.5h-3.5zM166.9 207.4h3.5v3.5h-3.5zM169.0 250.8h3.5v3.5h-3.5zM162.9 148.1h3.5v3.5h-3.5zM176.6 155.6h3.5v3.5h-3.5zM169.7 201.6h3.5v3.5h-3.5zM172.4 186.3h3.5v3.5h-3.5zM165.2 211.6h3.5v3.5h-3.5zM169.4 219.8h3.5v3.5h-3.5zM170.4 212.3h3.5v3.5h-3.5zM170.5 197.8h3.5v3.5h-3.5zM173.3 200.1h3.5v3.5h-3.5zM172.5 173.6h3.5v3.5h-3.5zM159.2 217.4h3.5v3.5h-3.5zM161.2 206.8h3.5v3.5h-3.5zM176.5 210.3h3.5v3.5h-3.5zM172.9 153.6h3.5v3.5h-3.5zM169.8 224.6h3.5v3.5h-3.5zM169.1 172.9h3.5v3.5h-3.5zM175.8 201.9h3.5v3.5h-3.5zM177.6 187.1h3.5v3.5h-3.5zM168.2 201.6h3.5v3.5h-3.5zM168.4 187.1h3.5v3.5h-3.5zM165.4 205.5h3.5v3.5h-3.5zM157.8 215.8h3.5v3.5h-3.5zM168.2 167.0h3.5v3.5h-3.5zM176.5 235.4h3.5v3.5h-3.5zM165.2 201.8h3.5v3.5h-3.5zM171.5 188.5h3.5v3.5h-3.5zM168.7 195.9h3.5v3.5h-3.5zM166.0 180.6h3.5v3.5h-3.5zM175.5 221.9h3.5v3.5h-3.5zM165.7 236.6h3.5v3.5h-3.5zM165.3 182.0h3.5v3.5h-3.5zM168.0 211.5h3.5v3.5h-3.5zM175.0 160.8h3.5v3.5h-3.5zM168.2 193.6h3.5v3.5h-3.5zM165.8 215.9h3.5v3.5h-3.5zM169.2 230.2h3.5v3.5h-3.5zM173.3 229.7h3.5v3.5h-3.5zM172.2 161.1h3.5v3.5h-3.5zM166.8 178.7h3.5v3.5h-3.5zM163.3 191.9h3.5v3.5h-3.5zM166.4 220.3h3.5v3.5h-3.5zM174.8 205.9h3.5v3.5h-3.5zM171.0 195.7h3.5v3.5h-3.5zM163.7 177.2h3.5v3.5h-3.5zM174.1 230.0h3.5v3.5h-3.5zM171.6 197.5h3.5v3.5h-3.5zM168.7 191.9h3.5v3.5h-3.5zM172.6 206.8h3.5v3.5h-3.5zM171.5 203.7h3.5v3.5h-3.5zM173.1 197.7h3.5v3.5h-3.5zM166.9 230.5h3.5v3.5h-3.5zM170.7 222.4h3.5v3.5h-3.5zM168.5 194.3h3.5v3.5h-3.5zM160.7 173.4h3.5v3.5h-3.5zM173.0 173.0h3.5v3.5h-3.5zM178.7 191.0h3.5v3.5h-3.5zM176.5 169.4h3.5v3.5h-3.5zM168.6 153.7h3.5v3.5h-3.5zM173.1 212.7h3.5v3.5h-3.5zM168.5 209.5h3.5v3.5h-3.5zM172.5 153.0h3.5v3.5h-3.5zM163.7 183.7h3.5v3.5h-3.5zM170.5 199.6h3.5v3.5h-3.5zM160.6 218.1h3.5v3.5h-3.5zM168.3 198.0h3.5v3.5h-3.5zM175.1 160.3h3.5v3.5h-3.5zM168.2 175.8h3.5v3.5h-3.5zM165.4 227.2h3.5v3.5h-3.5zM169.5 202.1h3.5v3.5h-3.5zM167.5 205.7h3.5v3.5h-3.5zM174.1 235.4h3.5v3.5h-3.5zM170.8 174.2h3.5v3.5h-3.5zM169.3 214.3h3.5v3.5h-3.5zM178.4 158.5h3.5v3.5h-3.5zM171.9 216.5h3.5v3.5h-3.5zM207.6 229.2h3.5v3.5h-3.5zM202.9 225.5h3.5v3.5h-3.5zM203.0 230.3h3.5v3.5h-3.5zM204.7 221.5h3.5v3.5h-3.5zM207.3 230.0h3.5v3.5h-3.5zM195.9 208.4h3.5v3.5h-3.5zM202.1 209.8h3.5v3.5h-3.5zM198.9 224.2h3.5v3.5h-3.5zM147.2 158.2h3.5v3.5h-3.5z"/>
<path fill="#280b4c" d="M167.7 187.7h3.5v3.5h-3.5zM175.5 244.2h3.5v3.5h-3.5zM177.3 191.9h3.5v3.5h-3.5zM176.1 194.3h3.5v3.5h-3.5zM172.6 206.6h3.5v3.5h-3.5zM176.1 213.3h3.5v3.5h-3.5zM168.4 185.6h3.5v3.5h-3.5zM178.3 171.5h3.5v3.5h-3.5zM170.3 208.2h3.5v3.5h-3.5zM163.7 212.1h3.5v3.5h-3.5zM171.1 214.9h3.5v3.5h-3.5zM161.9 230.2h3.5v3.5h-3.5zM167.9 202.0h3.5v3.5h-3.5zM171.6 210.5h3.5v3.5h-3.5zM180.6 228.6h3.5v3.5h-3.5zM165.9 172.7h3.5v3.5h-3.5zM174.3 155.7h3.5v3.5h-3.5zM170.2 210.3h3.5v3.5h-3.5zM175.2 213.6h3.5v3.5h-3.5zM165.5 169.2h3.5v3.5h-3.5zM176.4 114.1h3.5v3.5h-3.5zM171.7 156.1h3.5v3.5h-3.5zM175.3 200.5h3.5v3.5h-3.5zM168.0 176.0h3.5v3.5h-3.5zM174.2 213.3h3.5v3.5h-3.5zM171.6 205.3h3.5v3.5h-3.5zM179.1 172.4h3.5v3.5h-3.5zM172.5 181.2h3.5v3.5h-3.5zM173.3 209.9h3.5v3.5h-3.5zM169.8 200.9h3.5v3.5h-3.5zM179.1 182.3h3.5v3.5h-3.5zM176.3 171.5h3.5v3.5h-3.5zM166.9 184.2h3.5v3.5h-3.5zM168.8 195.6h3.5v3.5h-3.5zM168.9 225.2h3.5v3.5h-3.5zM171.3 242.8h3.5v3.5h-3.5zM167.0 184.2h3.5v3.5h-3.5zM169.4 200.1h3.5v3.5h-3.5zM176.4 179.6h3.5v3.5h-3.5zM163.9 207.6h3.5v3.5h-3.5zM176.7 211.3h3.5v3.5h-3.5zM172.2 154.4h3.5v3.5h-3.5zM170.3 161.1h3.5v3.5h-3.5zM173.7 216.7h3.5v3.5h-3.5zM168.6 181.4h3.5v3.5h-3.5zM175.0 200.9h3.5v3.5h-3.5zM166.4 227.4h3.5v3.5h-3.5zM177.7 196.3h3.5v3.5h-3.5zM176.3 217.8h3.5v3.5h-3.5zM165.1 153.3h3.5v3.5h-3.5zM172.4 224.2h3.5v3.5h-3.5zM168.7 210.5h3.5v3.5h-3.5zM159.7 210.5h3.5v3.5h-3.5zM175.1 124.3h3.5v3.5h-3.5zM167.3 154.9h3.5v3.5h-3.5zM165.4 210.0h3.5v3.5h-3.5zM166.4 208.1h3.5v3.5h-3.5zM176.4 202.8h3.5v3.5h-3.5zM172.2 190.0h3.5v3.5h-3.5zM169.0 160.8h3.5v3.5h-3.5zM177.3 195.7h3.5v3.5h-3.5zM167.8 201.3h3.5v3.5h-3.5zM175.3 231.5h3.5v3.5h-3.5zM175.4 135.3h3.5v3.5h-3.5zM177.5 187.6h3.5v3.5h-3.5zM161.3 192.5h3.5v3.5h-3.5zM167.6 204.0h3.5v3.5h-3.5zM171.0 210.7h3.5v3.5h-3.5zM173.6 205.4h3.5v3.5h-3.5zM173.9 186.0h3.5v3.5h-3.5zM172.2 207.3h3.5v3.5h-3.5zM177.9 171.2h3.5v3.5h-3.5zM173.1 173.5h3.5v3.5h-3.5zM171.9 156.7h3.5v3.5h-3.5zM169.1 191.1h3.5v3.5h-3.5zM172.4 223.2h3.5v3.5h-3.5zM177.0 230.2h3.5v3.5h-3.5zM175.3 163.6h3.5v3.5h-3.5zM165.1 143.1h3.5v3.5h-3.5zM170.2 141.4h3.5v3.5h-3.5zM176.3 192.9h3.5v3.5h-3.5zM172.0 195.1h3.5v3.5h-3.5zM177.2 242.2h3.5v3.5h-3.5zM169.5 174.7h3.5v3.5h-3.5zM171.9 204.8h3.5v3.5h-3.5zM175.8 201.0h3.5v3.5h-3.5zM170.6 175.6h3.5v3.5h-3.5zM166.8 180.7h3.5v3.5h-3.5zM167.1 202.5h3.5v3.5h-3.5zM165.4 147.0h3.5v3.5h-3.5zM176.1 234.4h3.5v3.5h-3.5zM171.3 188.0h3.5v3.5h-3.5zM174.5 162.8h3.5v3.5h-3.5zM171.4 163.3h3.5v3.5h-3.5zM176.8 178.2h3.5v3.5h-3.5zM170.6 224.6h3.5v3.5h-3.5zM175.4 216.3h3.5v3.5h-3.5zM169.7 200.4h3.5v3.5h-3.5zM172.8 195.6h3.5v3.5h-3.5zM174.2 223.9h3.5v3.5h-3.5zM167.3 174.2h3.5v3.5h-3.5zM168.2 165.8h3.5v3.5h-3.5zM167.8 214.4h3.5v3.5h-3.5zM169.8 190.3h3.5v3.5h-3.5zM173.0 135.6h3.5v3.5h-3.5zM176.2 188.1h3.5v3.5h-3.5zM172.0 187.4h3.5v3.5h-3.5zM175.7 189.7h3.5v3.5h-3.5zM167.7 199.3h3.5v3.5h-3.5zM169.1 214.7h3.5v3.5h-3.5zM163.8 191.7h3.5v3.5h-3.5zM174.4 219.8h3.5v3.5h-3.5zM171.0 183.4h3.5v3.5h-3.5zM168.4 218.9h3.5v3.5h-3.5zM169.7 188.4h3.5v3.5h-3.5zM178.4 167.1h3.5v3.5h-3.5zM173.7 153.7h3.5v3.5h-3.5zM174.4 180.8h3.5v3.5h-3.5zM171.9 209.3h3.5v3.5h-3.5zM177.3 201.0h3.5v3.5h-3.5zM177.6 191.5h3.5v3.5h-3.5zM167.2 245.5h3.5v3.5h-3.5zM173.0 208.6h3.5v3.5h-3.5zM174.6 172.0h3.5v3.5h-3.5zM176.2 195.0h3.5v3.5h-3.5zM173.8 221.5h3.5v3.5h-3.5zM173.0 190.8h3.5v3.5h-3.5zM169.1 222.4h3.5v3.5h-3.5zM174.6 207.6h3.5v3.5h-3.5zM170.7 212.8h3.5v3.5h-3.5zM167.8 201.5h3.5v3.5h-3.5zM177.6 219.1h3.5v3.5h-3.5zM171.8 194.3h3.5v3.5h-3.5zM176.6 167.2h3.5v3.5h-3.5zM177.3 203.2h3.5v3.5h-3.5zM178.5 168.9h3.5v3.5h-3.5zM165.3 216.8h3.5v3.5h-3.5zM177.3 151.3h3.5v3.5h-3.5zM167.3 174.7h3.5v3.5h-3.5zM176.0 226.2h3.5v3.5h-3.5zM168.8 238.1h3.5v3.5h-3.5zM165.8 153.1h3.5v3.5h-3.5zM176.0 192.4h3.5v3.5h-3.5zM166.8 170.8h3.5v3.5h-3.5zM173.2 202.3h3.5v3.5h-3.5zM174.6 184.8h3.5v3.5h-3.5zM165.3 182.1h3.5v3.5h-3.5zM174.0 202.8h3.5v3.5h-3.5zM172.3 192.4h3.5v3.5h-3.5zM175.0 229.9h3.5v3.5h-3.5zM172.9 199.9h3.5v3.5h-3.5zM173.8 219.1h3.5v3.5h-3.5zM171.2 222.5h3.5v3.5h-3.5zM166.7 179.1h3.5v3.5h-3.5zM177.8 173.4h3.5v3.5h-3.5zM178.3 188.9h3.5v3.5h-3.5zM176.8 146.2h3.5v3.5h-3.5zM167.4 202.7h3.5v3.5h-3.5zM172.4 169.1h3.5v3.5h-3.5zM167.2 157.0h3.5v3.5h-3.5zM175.1 186.9h3.5v3.5h-3.5zM167.1 187.1h3.5v3.5h-3.5zM167.4 201.4h3.5v3.5h-3.5zM179.0 224.3h3.5v3.5h-3.5zM171.7 174.7h3.5v3.5h-3.5zM167.7 185.7h3.5v3.5h-3.5zM176.9 188.8h3.5v3.5h-3.5zM173.9 193.3h3.5v3.5h-3.5zM174.9 201.4h3.5v3.5h-3.5zM169.8 175.4h3.5v3.5h-3.5zM165.4 196.2h3.5v3.5h-3.5zM171.2 217.0h3.5v3.5h-3.5zM168.1 195.9h3.5v3.5h-3.5zM174.8 236.3h3.5v3.5h-3.5zM173.5 217.0h3.5v3.5h-3.5zM169.5 180.7h3.5v3.5h-3.5zM178.9 190.8h3.5v3.5h-3.5zM171.3 173.3h3.5v3.5h-3.5zM173.6 186.9h3.5v3.5h-3.5zM177.3 209.5h3.5v3.5h-3.5zM172.1 197.2h3.5v3.5h-3.5zM178.2 192.2h3.5v3.5h-3.5zM174.5 177.4h3.5v3.5h-3.5zM178.4 202.9h3.5v3.5h-3.5zM161.4 219.4h3.5v3.5h-3.5zM175.3 150.0h3.5v3.5h-3.5zM177.3 171.4h3.5v3.5h-3.5zM171.5 204.8h3.5v3.5h-3.5zM173.9 250.0h3.5v3.5h-3.5zM177.9 161.0h3.5v3.5h-3.5zM166.7 130.9h3.5v3.5h-3.5zM167.4 210.0h3.5v3.5h-3.5zM178.7 223.8h3.5v3.5h-3.5zM176.6 140.8h3.5v3.5h-3.5zM171.0 205.4h3.5v3.5h-3.5zM176.6 198.3h3.5v3.5h-3.5zM169.7 185.3h3.5v3.5h-3.5zM169.1 205.8h3.5v3.5h-3.5zM172.1 153.6h3.5v3.5h-3.5zM176.1 179.5h3.5v3.5h-3.5zM168.7 167.5h3.5v3.5h-3.5zM176.7 210.5h3.5v3.5h-3.5zM176.0 226.4h3.5v3.5h-3.5zM169.7 213.7h3.5v3.5h-3.5zM177.2 202.1h3.5v3.5h-3.5zM167.7 211.9h3.5v3.5h-3.5zM174.8 203.7h3.5v3.5h-3.5zM170.0 175.4h3.5v3.5h-3.5zM165.6 200.9h3.5v3.5h-3.5zM171.7 207.3h3.5v3.5h-3.5zM173.2 200.0h3.5v3.5h-3.5zM172.8 231.7h3.5v3.5h-3.5zM174.0 236.4h3.5v3.5h-3.5zM174.9 151.3h3.5v3.5h-3.5zM176.4 195.6h3.5v3.5h-3.5zM171.4 171.2h3.5v3.5h-3.5zM175.4 236.2h3.5v3.5h-3.5zM171.9 173.4h3.5v3.5h-3.5zM170.9 200.0h3.5v3.5h-3.5zM171.3 195.9h3.5v3.5h-3.5zM176.9 179.8h3.5v3.5h-3.5zM176.7 195.1h3.5v3.5h-3.5zM176.0 173.8h3.5v3.5h-3.5zM177.7 245.1h3.5v3.5h-3.5zM170.3 187.8h3.5v3.5h-3.5zM175.0 168.2h3.5v3.5h-3.5zM169.9 175.2h3.5v3.5h-3.5zM170.5 196.8h3.5v3.5h-3.5zM172.5 212.9h3.5v3.5h-3.5zM165.3 220.1h3.5v3.5h-3.5zM179.1 192.1h3.5v3.5h-3.5zM169.7 216.0h3.5v3.5h-3.5zM176.5 198.4h3.5v3.5h-3.5zM167.2 194.0h3.5v3.5h-3.5zM172.3 178.0h3.5v3.5h-3.5zM176.6 159.1h3.5v3.5h-3.5zM175.1 205.9h3.5v3.5h-3.5zM171.6 152.5h3.5v3.5h-3.5zM178.9 106.7h3.5v3.5h-3.5zM174.6 201.7h3.5v3.5h-3.5zM174.8 188.4h3.5v3.5h-3.5zM168.6 210.9h3.5v3.5h-3.5zM170.2 203.8h3.5v3.5h-3.5zM173.3 210.3h3.5v3.5h-3.5zM172.7 226.1h3.5v3.5h-3.5zM173.2 214.6h3.5v3.5h-3.5zM175.1 201.5h3.5v3.5h-3.5zM170.9 190.9h3.5v3.5h-3.5zM169.3 177.9h3.5v3.5h-3.5zM177.5 183.3h3.5v3.5h-3.5zM177.3 132.1h3.5v3.5h-3.5zM175.3 197.8h3.5v3.5h-3.5zM174.8 191.0h3.5v3.5h-3.5zM168.8 135.4h3.5v3.5h-3.5zM174.7 224.1h3.5v3.5h-3.5zM175.5 185.7h3.5v3.5h-3.5zM177.2 146.3h3.5v3.5h-3.5zM173.0 189.5h3.5v3.5h-3.5zM171.0 190.6h3.5v3.5h-3.5zM165.7 181.5h3.5v3.5h-3.5zM171.8 175.0h3.5v3.5h-3.5zM177.1 179.1h3.5v3.5h-3.5zM180.3 189.4h3.5v3.5h-3.5zM165.2 242.5h3.5v3.5h-3.5zM176.7 207.5h3.5v3.5h-3.5zM172.9 170.8h3.5v3.5h-3.5zM174.8 215.6h3.5v3.5h-3.5zM172.9 209.6h3.5v3.5h-3.5zM178.4 163.7h3.5v3.5h-3.5zM170.0 210.8h3.5v3.5h-3.5zM171.4 188.0h3.5v3.5h-3.5zM168.8 213.3h3.5v3.5h-3.5zM174.9 167.9h3.5v3.5h-3.5zM171.8 208.6h3.5v3.5h-3.5zM176.1 221.4h3.5v3.5h-3.5zM166.3 189.5h3.5v3.5h-3.5zM166.4 176.5h3.5v3.5h-3.5zM175.2 213.8h3.5v3.5h-3.5zM174.7 230.7h3.5v3.5h-3.5zM178.3 164.3h3.5v3.5h-3.5zM168.0 205.2h3.5v3.5h-3.5zM170.7 204.7h3.5v3.5h-3.5zM179.0 216.3h3.5v3.5h-3.5zM174.4 195.1h3.5v3.5h-3.5zM164.5 211.6h3.5v3.5h-3.5zM171.0 195.8h3.5v3.5h-3.5zM171.9 213.2h3.5v3.5h-3.5zM169.2 231.0h3.5v3.5h-3.5zM174.8 185.9h3.5v3.5h-3.5zM172.4 194.2h3.5v3.5h-3.5zM171.7 148.9h3.5v3.5h-3.5zM176.4 206.2h3.5v3.5h-3.5zM166.9 185.9h3.5v3.5h-3.5zM172.7 207.8h3.5v3.5h-3.5zM170.6 154.4h3.5v3.5h-3.5zM173.0 151.4h3.5v3.5h-3.5zM175.5 205.7h3.5v3.5h-3.5zM174.2 156.9h3.5v3.5h-3.5zM178.0 174.4h3.5v3.5h-3.5zM172.8 163.8h3.5v3.5h-3.5zM169.9 172.1h3.5v3.5h-3.5zM169.9 209.0h3.5v3.5h-3.5zM174.7 212.8h3.5v3.5h-3.5zM172.5 208.7h3.5v3.5h-3.5zM173.7 202.3h3.5v3.5h-3.5zM164.7 224.8h3.5v3.5h-3.5zM169.1 191.4h3.5v3.5h-3.5zM177.9 168.0h3.5v3.5h-3.5zM173.8 150.1h3.5v3.5h-3.5zM173.0 159.0h3.5v3.5h-3.5zM169.6 195.0h3.5v3.5h-3.5zM164.9 204.9h3.5v3.5h-3.5zM170.0 236.3h3.5v3.5h-3.5zM175.7 174.1h3.5v3.5h-3.5zM162.5 183.5h3.5v3.5h-3.5zM168.6 220.8h3.5v3.5h-3.5zM172.5 234.6h3.5v3.5h-3.5zM169.0 183.2h3.5v3.5h-3.5zM177.1 164.0h3.5v3.5h-3.5zM174.5 157.6h3.5v3.5h-3.5zM176.5 193.7h3.5v3.5h-3.5zM172.3 161.9h3.5v3.5h-3.5zM170.0 184.8h3.5v3.5h-3.5zM164.9 165.3h3.5v3.5h-3.5zM167.9 214.0h3.5v3.5h-3.5zM177.1 233.3h3.5v3.5h-3.5zM179.0 221.3h3.5v3.5h-3.5zM171.8 123.1h3.5v3.5h-3.5zM173.1 206.9h3.5v3.5h-3.5zM178.7 166.9h3.5v3.5h-3.5zM166.2 210.5h3.5v3.5h-3.5zM168.8 193.2h3.5v3.5h-3.5zM177.1 148.3h3.5v3.5h-3.5zM176.8 134.1h3.5v3.5h-3.5zM169.8 158.5h3.5v3.5h-3.5zM174.7 202.5h3.5v3.5h-3.5zM173.8 193.0h3.5v3.5h-3.5zM163.1 202.7h3.5v3.5h-3.5zM167.0 202.5h3.5v3.5h-3.5zM166.5 159.2h3.5v3.5h-3.5zM176.2 230.9h3.5v3.5h-3.5zM169.4 154.8h3.5v3.5h-3.5zM173.9 193.6h3.5v3.5h-3.5zM168.5 222.9h3.5v3.5h-3.5zM176.0 198.8h3.5v3.5h-3.5zM177.3 180.5h3.5v3.5h-3.5zM173.5 169.5h3.5v3.5h-3.5zM177.4 216.3h3.5v3.5h-3.5zM173.6 150.0h3.5v3.5h-3.5zM164.0 181.9h3.5v3.5h-3.5zM169.8 195.0h3.5v3.5h-3.5zM173.5 215.1h3.5v3.5h-3.5zM176.9 202.8h3.5v3.5h-3.5zM167.5 221.4h3.5v3.5h-3.5zM171.5 177.9h3.5v3.5h-3.5zM171.5 169.8h3.5v3.5h-3.5zM177.3 173.5h3.5v3.5h-3.5zM172.8 159.0h3.5v3.5h-3.5zM176.6 228.2h3.5v3.5h-3.5zM176.6 158.2h3.5v3.5h-3.5zM173.2 155.4h3.5v3.5h-3.5zM176.5 185.9h3.5v3.5h-3.5zM176.9 176.7h3.5v3.5h-3.5zM175.8 242.6h3.5v3.5h-3.5zM177.1 157.8h3.5v3.5h-3.5zM172.5 165.4h3.5v3.5h-3.5zM171.2 210.1h3.5v3.5h-3.5zM178.1 172.1h3.5v3.5h-3.5zM176.3 194.1h3.5v3.5h-3.5zM175.0 216.7h3.5v3.5h-3.5zM173.1 190.5h3.5v3.5h-3.5zM166.3 220.1h3.5v3.5h-3.5zM175.4 105.8h3.5v3.5h-3.5zM175.9 195.2h3.5v3.5h-3.5zM173.6 205.4h3.5v3.5h-3.5zM177.0 120.4h3.5v3.5h-3.5zM173.9 213.8h3.5v3.5h-3.5zM174.4 201.2h3.5v3.5h-3.5zM173.8 229.1h3.5v3.5h-3.5zM173.3 206.3h3.5v3.5h-3.5zM167.0 172.3h3.5v3.5h-3.5zM174.2 222.8h3.5v3.5h-3.5zM173.3 204.2h3.5v3.5h-3.5zM207.4 227.2h3.5v3.5h-3.5zM203.1 215.9h3.5v3.5h-3.5zM212.4 238.9h3.5v3.5h-3.5zM202.7 222.4h3.5v3.5h-3.5zM207.4 231.8h3.5v3.5h-3.5zM204.2 218.9h3.5v3.5h-3.5zM198.5 224.3h3.5v3.5h-3.5zM199.4 225.5h3.5v3.5h-3.5zM208.8 242.5h3.5v3.5h-3.5zM195.5 212.7h3.5v3.5h-3.5zM207.4 247.6h3.5v3.5h-3.5zM200.8 208.9h3.5v3.5h-3.5zM198.5 209.8h3.5v3.5h-3.5zM204.8 215.2h3.5v3.5h-3.5zM201.4 212.6h3.5v3.5h-3.5zM206.9 227.7h3.5v3.5h-3.5zM202.5 204.0h3.5v3.5h-3.5z"/>
<path fill="#300a55" d="M172.8 200.8h3.5v3.5h-3.5zM171.7 216.9h3.5v3.5h-3.5zM180.2 193.3h3.5v3.5h-3.5zM174.5 172.0h3.5v3.5h-3.5zM173.6 197.5h3.5v3.5h-3.5zM173.8 213.1h3.5v3.5h-3.5zM175.0 228.1h3.5v3.5h-3.5zM176.9 207.0h3.5v3.5h-3.5zM176.0 205.2h3.5v3.5h-3.5zM176.5 188.1h3.5v3.5h-3.5zM175.8 178.4h3.5v3.5h-3.5zM177.2 199.2h3.5v3.5h-3.5zM169.2 164.3h3.5v3.5h-3.5zM173.8 149.3h3.5v3.5h-3.5zM172.7 194.9h3.5v3.5h-3.5zM173.5 186.2h3.5v3.5h-3.5zM175.6 194.0h3.5v3.5h-3.5zM169.6 183.3h3.5v3.5h-3.5zM173.3 169.3h3.5v3.5h-3.5zM169.7 222.6h3.5v3.5h-3.5zM177.9 192.9h3.5v3.5h-3.5zM171.8 143.5h3.5v3.5h-3.5zM176.0 197.1h3.5v3.5h-3.5zM179.0 207.1h3.5v3.5h-3.5zM176.4 194.9h3.5v3.5h-3.5zM171.5 225.1h3.5v3.5h-3.5zM175.4 231.6h3.5v3.5h-3.5zM174.9 166.0h3.5v3.5h-3.5zM178.3 178.2h3.5v3.5h-3.5zM173.9 173.4h3.5v3.5h-3.5zM173.5 163.3h3.5v3.5h-3.5zM174.0 204.9h3.5v3.5h-3.5zM170.0 189.7h3.5v3.5h-3.5zM173.4 170.1h3.5v3.5h-3.5zM170.0 187.1h3.5v3.5h-3.5zM172.9 197.2h3.5v3.5h-3.5zM179.0 225.1h3.5v3.5h-3.5zM177.0 180.3h3.5v3.5h-3.5zM178.8 141.6h3.5v3.5h-3.5zM171.0 127.2h3.5v3.5h-3.5zM179.0 208.3h3.5v3.5h-3.5zM179.8 208.1h3.5v3.5h-3.5zM170.7 212.4h3.5v3.5h-3.5zM180.3 225.3h3.5v3.5h-3.5zM175.8 190.3h3.5v3.5h-3.5zM171.4 174.3h3.5v3.5h-3.5zM164.2 186.0h3.5v3.5h-3.5zM178.4 201.2h3.5v3.5h-3.5zM174.8 177.7h3.5v3.5h-3.5zM175.0 192.3h3.5v3.5h-3.5zM167.9 210.5h3.5v3.5h-3.5zM177.1 144.8h3.5v3.5h-3.5zM176.7 210.9h3.5v3.5h-3.5zM175.6 208.4h3.5v3.5h-3.5zM172.2 181.5h3.5v3.5h-3.5zM174.1 156.0h3.5v3.5h-3.5zM169.5 200.3h3.5v3.5h-3.5zM170.1 135.6h3.5v3.5h-3.5zM174.0 146.9h3.5v3.5h-3.5zM175.6 213.9h3.5v3.5h-3.5zM163.1 178.5h3.5v3.5h-3.5zM172.4 158.3h3.5v3.5h-3.5zM169.6 181.2h3.5v3.5h-3.5zM176.8 212.0h3.5v3.5h-3.5zM177.0 214.4h3.5v3.5h-3.5zM171.6 148.6h3.5v3.5h-3.5zM175.5 183.8h3.5v3.5h-3.5zM174.1 192.0h3.5v3.5h-3.5zM172.6 192.4h3.5v3.5h-3.5zM176.5 183.3h3.5v3.5h-3.5zM175.6 189.3h3.5v3.5h-3.5zM172.3 194.7h3.5v3.5h-3.5zM173.2 195.4h3.5v3.5h-3.5zM165.5 157.5h3.5v3.5h-3.5zM175.6 202.0h3.5v3.5h-3.5zM171.6 206.3h3.5v3.5h-3.5zM168.8 236.3h3.5v3.5h-3.5zM174.5 207.0h3.5v3.5h-3.5zM170.2 126.0h3.5v3.5h-3.5zM172.7 175.2h3.5v3.5h-3.5zM166.2 188.8h3.5v3.5h-3.5zM181.1 222.3h3.5v3.5h-3.5zM167.3 210.1h3.5v3.5h-3.5zM177.5 200.5h3.5v3.5h-3.5zM168.4 206.1h3.5v3.5h-3.5zM177.3 171.8h3.5v3.5h-3.5zM168.0 218.6h3.5v3.5h-3.5zM180.2 178.6h3.5v3.5h-3.5zM173.2 232.2h3.5v3.5h-3.5zM176.7 166.8h3.5v3.5h-3.5zM171.6 217.5h3.5v3.5h-3.5zM181.1 195.0h3.5v3.5h-3.5zM169.1 206.3h3.5v3.5h-3.5zM175.0 196.5h3.5v3.5h-3.5zM172.9 231.6h3.5v3.5h-3.5zM179.5 153.0h3.5v3.5h-3.5zM177.2 244.1h3.5v3.5h-3.5zM166.7 215.2h3.5v3.5h-3.5zM167.8 229.8h3.5v3.5h-3.5zM176.4 203.7h3.5v3.5h-3.5zM179.3 161.6h3.5v3.5h-3.5zM177.7 205.4h3.5v3.5h-3.5zM172.7 172.8h3.5v3.5h-3.5zM174.7 215.6h3.5v3.5h-3.5zM177.6 118.2h3.5v3.5h-3.5zM171.0 181.6h3.5v3.5h-3.5zM172.1 154.7h3.5v3.5h-3.5zM169.6 179.3h3.5v3.5h-3.5zM172.3 182.5h3.5v3.5h-3.5zM179.4 191.5h3.5v3.5h-3.5zM176.1 240.5h3.5v3.5h-3.5zM172.8 131.6h3.5v3.5h-3.5zM171.4 260.3h3.5v3.5h-3.5zM176.1 214.0h3.5v3.5h-3.5zM174.3 205.4h3.5v3.5h-3.5zM181.0 196.9h3.5v3.5h-3.5zM179.1 189.0h3.5v3.5h-3.5zM174.9 221.0h3.5v3.5h-3.5zM171.7 196.6h3.5v3.5h-3.5zM172.7 165.8h3.5v3.5h-3.5zM178.0 173.3h3.5v3.5h-3.5zM175.5 174.6h3.5v3.5h-3.5zM177.9 207.0h3.5v3.5h-3.5zM174.4 190.9h3.5v3.5h-3.5zM173.0 191.1h3.5v3.5h-3.5zM174.3 237.6h3.5v3.5h-3.5zM167.1 152.4h3.5v3.5h-3.5zM170.6 162.4h3.5v3.5h-3.5zM173.9 196.7h3.5v3.5h-3.5zM173.8 177.9h3.5v3.5h-3.5zM178.7 193.8h3.5v3.5h-3.5zM175.2 204.6h3.5v3.5h-3.5zM170.6 167.4h3.5v3.5h-3.5zM170.0 229.5h3.5v3.5h-3.5zM175.2 207.0h3.5v3.5h-3.5zM171.6 185.4h3.5v3.5h-3.5zM174.0 212.9h3.5v3.5h-3.5zM171.6 195.4h3.5v3.5h-3.5zM172.7 168.2h3.5v3.5h-3.5zM171.6 158.2h3.5v3.5h-3.5zM160.4 192.6h3.5v3.5h-3.5zM174.3 188.8h3.5v3.5h-3.5zM179.3 137.9h3.5v3.5h-3.5zM172.9 178.1h3.5v3.5h-3.5zM172.5 212.2h3.5v3.5h-3.5zM178.4 211.7h3.5v3.5h-3.5zM176.3 175.2h3.5v3.5h-3.5zM171.4 164.8h3.5v3.5h-3.5zM179.9 112.5h3.5v3.5h-3.5zM166.7 133.6h3.5v3.5h-3.5zM174.0 193.0h3.5v3.5h-3.5zM180.6 157.9h3.5v3.5h-3.5zM176.2 149.0h3.5v3.5h-3.5zM174.8 198.6h3.5v3.5h-3.5zM176.9 194.2h3.5v3.5h-3.5zM171.1 194.4h3.5v3.5h-3.5zM172.9 189.5h3.5v3.5h-3.5zM175.2 195.0h3.5v3.5h-3.5zM178.2 169.5h3.5v3.5h-3.5zM175.6 182.2h3.5v3.5h-3.5zM170.4 158.5h3.5v3.5h-3.5zM166.4 214.6h3.5v3.5h-3.5zM178.7 199.3h3.5v3.5h-3.5zM178.0 188.2h3.5v3.5h-3.5zM172.5 175.9h3.5v3.5h-3.5zM170.1 155.7h3.5v3.5h-3.5zM170.2 176.5h3.5v3.5h-3.5zM169.9 210.7h3.5v3.5h-3.5zM174.8 206.7h3.5v3.5h-3.5zM176.6 218.0h3.5v3.5h-3.5zM175.5 187.4h3.5v3.5h-3.5zM177.2 176.8h3.5v3.5h-3.5zM174.9 208.8h3.5v3.5h-3.5zM169.6 177.5h3.5v3.5h-3.5zM167.4 214.8h3.5v3.5h-3.5zM171.6 188.7h3.5v3.5h-3.5zM179.6 182.1h3.5v3.5h-3.5zM178.8 162.9h3.5v3.5h-3.5zM176.5 231.9h3.5v3.5h-3.5zM174.8 213.0h3.5v3.5h-3.5zM175.1 223.5h3.5v3.5h-3.5zM172.0 214.6h3.5v3.5h-3.5zM172.4 222.2h3.5v3.5h-3.5zM170.6 187.3h3.5v3.5h-3.5zM175.9 175.9h3.5v3.5h-3.5zM171.8 173.7h3.5v3.5h-3.5zM177.4 209.0h3.5v3.5h-3.5zM177.4 157.3h3.5v3.5h-3.5zM174.5 204.0h3.5v3.5h-3.5zM174.1 203.3h3.5v3.5h-3.5zM174.8 214.5h3.5v3.5h-3.5zM174.0 180.5h3.5v3.5h-3.5zM176.7 210.3h3.5v3.5h-3.5zM172.1 214.5h3.5v3.5h-3.5zM176.1 178.6h3.5v3.5h-3.5zM178.5 155.9h3.5v3.5h-3.5zM177.3 239.4h3.5v3.5h-3.5zM169.8 156.4h3.5v3.5h-3.5zM179.2 214.5h3.5v3.5h-3.5zM163.4 200.3h3.5v3.5h-3.5zM172.5 198.2h3.5v3.5h-3.5zM175.4 197.2h3.5v3.5h-3.5zM174.8 195.9h3.5v3.5h-3.5zM175.5 205.4h3.5v3.5h-3.5zM175.8 182.1h3.5v3.5h-3.5zM178.6 217.8h3.5v3.5h-3.5zM172.2 158.3h3.5v3.5h-3.5zM165.3 227.8h3.5v3.5h-3.5zM176.0 214.3h3.5v3.5h-3.5zM173.6 140.3h3.5v3.5h-3.5zM174.3 195.1h3.5v3.5h-3.5zM176.6 200.1h3.5v3.5h-3.5zM173.8 162.5h3.5v3.5h-3.5zM175.4 198.7h3.5v3.5h-3.5zM177.3 164.1h3.5v3.5h-3.5zM170.2 189.5h3.5v3.5h-3.5zM177.1 192.4h3.5v3.5h-3.5zM172.0 191.6h3.5v3.5h-3.5zM178.4 188.1h3.5v3.5h-3.5zM178.6 129.3h3.5v3.5h-3.5zM169.4 244.8h3.5v3.5h-3.5zM174.8 175.1h3.5v3.5h-3.5zM172.5 216.8h3.5v3.5h-3.5zM175.7 202.0h3.5v3.5h-3.5zM175.0 219.7h3.5v3.5h-3.5zM178.2 209.3h3.5v3.5h-3.5zM173.0 220.9h3.5v3.5h-3.5zM176.0 206.4h3.5v3.5h-3.5zM164.6 218.6h3.5v3.5h-3.5zM174.4 164.9h3.5v3.5h-3.5zM180.7 154.7h3.5v3.5h-3.5zM172.2 152.2h3.5v3.5h-3.5zM176.3 225.9h3.5v3.5h-3.5zM172.8 185.6h3.5v3.5h-3.5zM177.1 201.0h3.5v3.5h-3.5zM179.2 156.7h3.5v3.5h-3.5zM177.1 214.1h3.5v3.5h-3.5zM178.3 201.5h3.5v3.5h-3.5zM175.3 211.5h3.5v3.5h-3.5zM175.8 185.8h3.5v3.5h-3.5zM174.3 223.8h3.5v3.5h-3.5zM170.7 202.4h3.5v3.5h-3.5zM171.0 167.9h3.5v3.5h-3.5zM177.1 179.4h3.5v3.5h-3.5zM177.8 201.4h3.5v3.5h-3.5zM176.3 192.0h3.5v3.5h-3.5zM174.6 183.5h3.5v3.5h-3.5zM177.9 193.8h3.5v3.5h-3.5zM179.0 174.5h3.5v3.5h-3.5zM175.2 189.5h3.5v3.5h-3.5zM169.6 157.7h3.5v3.5h-3.5zM172.3 166.1h3.5v3.5h-3.5zM176.5 165.0h3.5v3.5h-3.5zM172.5 173.1h3.5v3.5h-3.5zM169.8 157.3h3.5v3.5h-3.5zM177.7 193.3h3.5v3.5h-3.5zM181.2 177.0h3.5v3.5h-3.5zM171.9 178.1h3.5v3.5h-3.5zM178.2 175.8h3.5v3.5h-3.5zM174.2 195.9h3.5v3.5h-3.5zM172.8 186.4h3.5v3.5h-3.5zM179.8 207.8h3.5v3.5h-3.5zM177.7 191.3h3.5v3.5h-3.5zM173.6 163.1h3.5v3.5h-3.5zM172.4 192.1h3.5v3.5h-3.5zM172.1 150.5h3.5v3.5h-3.5zM175.9 168.2h3.5v3.5h-3.5zM177.1 193.4h3.5v3.5h-3.5zM174.6 221.9h3.5v3.5h-3.5zM174.3 142.5h3.5v3.5h-3.5zM169.3 215.2h3.5v3.5h-3.5zM169.5 210.6h3.5v3.5h-3.5zM164.6 218.1h3.5v3.5h-3.5zM176.7 218.9h3.5v3.5h-3.5zM177.2 234.9h3.5v3.5h-3.5zM173.2 213.4h3.5v3.5h-3.5zM172.8 189.4h3.5v3.5h-3.5zM177.6 197.3h3.5v3.5h-3.5zM176.7 226.3h3.5v3.5h-3.5zM171.7 222.1h3.5v3.5h-3.5zM175.4 198.5h3.5v3.5h-3.5zM167.7 206.4h3.5v3.5h-3.5zM178.3 180.0h3.5v3.5h-3.5zM178.7 197.4h3.5v3.5h-3.5zM174.6 201.9h3.5v3.5h-3.5zM171.5 200.7h3.5v3.5h-3.5zM170.3 183.4h3.5v3.5h-3.5zM175.5 190.1h3.5v3.5h-3.5zM172.0 196.8h3.5v3.5h-3.5zM178.7 191.0h3.5v3.5h-3.5zM174.7 218.2h3.5v3.5h-3.5zM174.0 184.5h3.5v3.5h-3.5zM176.8 227.7h3.5v3.5h-3.5zM177.3 152.0h3.5v3.5h-3.5zM180.0 141.5h3.5v3.5h-3.5zM178.2 185.0h3.5v3.5h-3.5zM165.7 202.9h3.5v3.5h-3.5zM177.1 213.1h3.5v3.5h-3.5zM173.6 209.7h3.5v3.5h-3.5zM172.9 242.0h3.5v3.5h-3.5zM175.2 178.0h3.5v3.5h-3.5zM168.7 241.3h3.5v3.5h-3.5zM174.5 227.1h3.5v3.5h-3.5zM173.7 225.2h3.5v3.5h-3.5zM178.1 189.4h3.5v3.5h-3.5zM169.8 158.7h3.5v3.5h-3.5zM179.7 219.5h3.5v3.5h-3.5zM175.5 169.0h3.5v3.5h-3.5zM175.5 200.0h3.5v3.5h-3.5zM179.4 222.1h3.5v3.5h-3.5zM178.8 184.2h3.5v3.5h-3.5zM175.9 194.7h3.5v3.5h-3.5zM180.7 183.6h3.5v3.5h-3.5zM174.5 163.9h3.5v3.5h-3.5zM179.6 189.6h3.5v3.5h-3.5zM177.1 228.8h3.5v3.5h-3.5zM174.4 195.2h3.5v3.5h-3.5zM167.7 229.7h3.5v3.5h-3.5zM172.5 183.7h3.5v3.5h-3.5zM179.5 226.1h3.5v3.5h-3.5zM178.2 174.0h3.5v3.5h-3.5zM176.4 191.9h3.5v3.5h-3.5zM177.2 223.8h3.5v3.5h-3.5zM177.5 202.9h3.5v3.5h-3.5zM165.5 188.5h3.5v3.5h-3.5zM167.8 178.9h3.5v3.5h-3.5zM175.4 204.6h3.5v3.5h-3.5zM176.7 191.3h3.5v3.5h-3.5zM175.5 204.4h3.5v3.5h-3.5zM177.0 199.6h3.5v3.5h-3.5zM174.0 241.3h3.5v3.5h-3.5zM169.5 205.3h3.5v3.5h-3.5zM168.0 214.4h3.5v3.5h-3.5zM175.0 210.8h3.5v3.5h-3.5zM174.3 183.4h3.5v3.5h-3.5zM169.0 203.6h3.5v3.5h-3.5zM172.7 207.6h3.5v3.5h-3.5zM172.7 244.6h3.5v3.5h-3.5zM174.3 179.5h3.5v3.5h-3.5zM179.4 184.9h3.5v3.5h-3.5zM174.3 229.6h3.5v3.5h-3.5zM171.8 199.2h3.5v3.5h-3.5zM170.4 192.5h3.5v3.5h-3.5zM178.2 168.1h3.5v3.5h-3.5zM180.3 186.3h3.5v3.5h-3.5zM168.8 174.9h3.5v3.5h-3.5zM179.2 222.7h3.5v3.5h-3.5zM177.4 184.6h3.5v3.5h-3.5zM171.7 192.2h3.5v3.5h-3.5zM179.2 193.0h3.5v3.5h-3.5zM178.2 156.3h3.5v3.5h-3.5zM172.9 198.9h3.5v3.5h-3.5zM173.8 207.4h3.5v3.5h-3.5zM172.1 170.1h3.5v3.5h-3.5zM175.6 132.6h3.5v3.5h-3.5zM169.7 113.4h3.5v3.5h-3.5zM176.0 168.5h3.5v3.5h-3.5zM174.5 225.9h3.5v3.5h-3.5zM177.3 185.2h3.5v3.5h-3.5zM175.3 182.9h3.5v3.5h-3.5zM171.9 201.0h3.5v3.5h-3.5zM166.2 199.9h3.5v3.5h-3.5zM177.5 168.5h3.5v3.5h-3.5zM177.1 168.8h3.5v3.5h-3.5zM174.2 168.8h3.5v3.5h-3.5zM175.3 202.3h3.5v3.5h-3.5zM176.6 161.1h3.5v3.5h-3.5zM176.5 141.1h3.5v3.5h-3.5zM175.4 197.2h3.5v3.5h-3.5zM174.5 188.0h3.5v3.5h-3.5zM171.1 208.8h3.5v3.5h-3.5zM165.2 166.0h3.5v3.5h-3.5zM177.6 192.1h3.5v3.5h-3.5zM174.9 230.4h3.5v3.5h-3.5zM174.9 204.2h3.5v3.5h-3.5zM169.8 206.2h3.5v3.5h-3.5zM176.6 231.3h3.5v3.5h-3.5zM176.4 208.2h3.5v3.5h-3.5zM173.5 195.8h3.5v3.5h-3.5zM170.0 147.7h3.5v3.5h-3.5zM171.9 182.0h3.5v3.5h-3.5zM174.1 184.3h3.5v3.5h-3.5zM171.8 205.3h3.5v3.5h-3.5zM173.8 162.7h3.5v3.5h-3.5zM176.4 197.4h3.5v3.5h-3.5zM171.8 178.7h3.5v3.5h-3.5zM171.9 223.6h3.5v3.5h-3.5zM176.4 180.2h3.5v3.5h-3.5zM178.1 167.7h3.5v3.5h-3.5zM169.8 201.6h3.5v3.5h-3.5zM175.4 190.2h3.5v3.5h-3.5zM165.5 159.1h3.5v3.5h-3.5zM178.7 159.2h3.5v3.5h-3.5zM178.3 201.2h3.5v3.5h-3.5zM174.0 185.6h3.5v3.5h-3.5zM178.4 184.4h3.5v3.5h-3.5zM177.0 157.9h3.5v3.5h-3.5zM179.6 188.0h3.5v3.5h-3.5zM172.5 200.5h3.5v3.5h-3.5zM178.0 167.1h3.5v3.5h-3.5zM170.0 171.9h3.5v3.5h-3.5zM173.0 188.0h3.5v3.5h-3.5zM174.1 198.3h3.5v3.5h-3.5zM188.4 185.5h3.5v3.5h-3.5zM183.4 122.9h3.5v3.5h-3.5zM211.0 245.8h3.5v3.5h-3.5zM210.3 242.8h3.5v3.5h-3.5zM199.1 203.9h3.5v3.5h-3.5zM176.2 60.6h3.5v3.5h-3.5z"/>
<path fill="#390a5f" d="M179.2 200.8h3.5v3.5h-3.5zM173.5 133.4h3.5v3.5h-3.5zM179.5 189.4h3.5v3.5h-3.5zM177.7 178.4h3.5v3.5h-3.5zM176.2 189.4h3.5v3.5h-3.5zM174.6 168.0h3.5v3.5h-3.5zM178.6 218.1h3.5v3.5h-3.5zM177.1 212.9h3.5v3.5h-3.5zM176.3 211.2h3.5v3.5h-3.5zM166.9 206.5h3.5v3.5h-3.5zM174.7 202.0h3.5v3.5h-3.5zM176.0 184.5h3.5v3.5h-3.5zM175.4 196.0h3.5v3.5h-3.5zM178.9 182.6h3.5v3.5h-3.5zM176.3 141.9h3.5v3.5h-3.5zM174.0 188.8h3.5v3.5h-3.5zM169.1 173.8h3.5v3.5h-3.5zM179.2 163.9h3.5v3.5h-3.5zM174.3 185.0h3.5v3.5h-3.5zM174.5 197.8h3.5v3.5h-3.5zM178.5 142.9h3.5v3.5h-3.5zM172.6 216.2h3.5v3.5h-3.5zM177.3 136.3h3.5v3.5h-3.5zM170.7 195.9h3.5v3.5h-3.5zM174.8 186.4h3.5v3.5h-3.5zM179.7 146.0h3.5v3.5h-3.5zM176.5 186.5h3.5v3.5h-3.5zM169.0 187.4h3.5v3.5h-3.5zM174.5 181.1h3.5v3.5h-3.5zM178.5 161.0h3.5v3.5h-3.5zM174.8 217.6h3.5v3.5h-3.5zM174.7 201.0h3.5v3.5h-3.5zM175.6 209.0h3.5v3.5h-3.5zM176.8 189.2h3.5v3.5h-3.5zM178.6 217.9h3.5v3.5h-3.5zM172.0 222.5h3.5v3.5h-3.5zM174.3 170.8h3.5v3.5h-3.5zM178.8 139.8h3.5v3.5h-3.5zM175.1 220.0h3.5v3.5h-3.5zM178.2 194.9h3.5v3.5h-3.5zM170.1 148.4h3.5v3.5h-3.5zM172.7 172.6h3.5v3.5h-3.5zM175.6 146.2h3.5v3.5h-3.5zM178.9 233.0h3.5v3.5h-3.5zM179.9 208.5h3.5v3.5h-3.5zM175.3 156.8h3.5v3.5h-3.5zM179.0 189.0h3.5v3.5h-3.5zM177.3 165.5h3.5v3.5h-3.5zM174.4 186.8h3.5v3.5h-3.5zM175.5 103.8h3.5v3.5h-3.5zM172.5 175.9h3.5v3.5h-3.5zM168.1 212.9h3.5v3.5h-3.5zM179.0 205.7h3.5v3.5h-3.5zM175.7 203.8h3.5v3.5h-3.5zM174.7 180.5h3.5v3.5h-3.5zM167.6 160.6h3.5v3.5h-3.5zM180.5 150.2h3.5v3.5h-3.5zM176.4 241.3h3.5v3.5h-3.5zM179.3 147.7h3.5v3.5h-3.5zM175.5 171.1h3.5v3.5h-3.5zM175.9 180.3h3.5v3.5h-3.5zM178.9 191.8h3.5v3.5h-3.5zM175.6 218.3h3.5v3.5h-3.5zM177.4 222.4h3.5v3.5h-3.5zM176.2 212.5h3.5v3.5h-3.5zM173.2 157.4h3.5v3.5h-3.5zM178.9 198.2h3.5v3.5h-3.5zM173.2 189.0h3.5v3.5h-3.5zM179.7 206.0h3.5v3.5h-3.5zM180.6 177.1h3.5v3.5h-3.5zM172.9 161.7h3.5v3.5h-3.5zM170.7 149.2h3.5v3.5h-3.5zM176.3 199.7h3.5v3.5h-3.5zM171.7 191.5h3.5v3.5h-3.5zM177.1 179.5h3.5v3.5h-3.5zM176.3 131.7h3.5v3.5h-3.5zM179.0 186.9h3.5v3.5h-3.5zM177.9 191.5h3.5v3.5h-3.5zM173.0 194.8h3.5v3.5h-3.5zM169.7 172.1h3.5v3.5h-3.5zM171.3 194.8h3.5v3.5h-3.5zM177.6 187.7h3.5v3.5h-3.5zM171.6 164.5h3.5v3.5h-3.5zM171.7 227.5h3.5v3.5h-3.5zM180.9 178.9h3.5v3.5h-3.5zM175.0 158.7h3.5v3.5h-3.5zM174.0 177.3h3.5v3.5h-3.5zM175.3 139.8h3.5v3.5h-3.5zM176.9 202.7h3.5v3.5h-3.5zM174.9 167.4h3.5v3.5h-3.5zM181.6 172.9h3.5v3.5h-3.5zM174.8 184.7h3.5v3.5h-3.5zM176.9 182.7h3.5v3.5h-3.5zM169.7 201.8h3.5v3.5h-3.5zM176.1 192.6h3.5v3.5h-3.5zM174.8 217.3h3.5v3.5h-3.5zM174.8 185.8h3.5v3.5h-3.5zM177.4 206.6h3.5v3.5h-3.5zM178.8 124.7h3.5v3.5h-3.5zM166.7 165.9h3.5v3.5h-3.5zM176.3 166.1h3.5v3.5h-3.5zM177.6 175.8h3.5v3.5h-3.5zM178.5 189.8h3.5v3.5h-3.5zM171.4 164.3h3.5v3.5h-3.5zM172.1 160.0h3.5v3.5h-3.5zM172.8 198.3h3.5v3.5h-3.5zM174.0 163.2h3.5v3.5h-3.5zM177.7 158.2h3.5v3.5h-3.5zM174.2 210.8h3.5v3.5h-3.5zM174.5 197.9h3.5v3.5h-3.5zM178.1 143.0h3.5v3.5h-3.5zM177.3 187.2h3.5v3.5h-3.5zM180.7 216.1h3.5v3.5h-3.5zM175.0 173.1h3.5v3.5h-3.5zM174.3 170.3h3.5v3.5h-3.5zM176.4 196.5h3.5v3.5h-3.5zM169.7 228.2h3.5v3.5h-3.5zM170.8 212.2h3.5v3.5h-3.5zM179.7 214.0h3.5v3.5h-3.5zM175.4 151.5h3.5v3.5h-3.5zM174.6 213.6h3.5v3.5h-3.5zM173.5 129.8h3.5v3.5h-3.5zM176.7 171.1h3.5v3.5h-3.5zM178.2 161.0h3.5v3.5h-3.5zM176.6 213.1h3.5v3.5h-3.5zM180.9 147.5h3.5v3.5h-3.5zM175.6 207.8h3.5v3.5h-3.5zM175.6 160.3h3.5v3.5h-3.5zM172.5 171.3h3.5v3.5h-3.5zM177.4 208.4h3.5v3.5h-3.5zM174.8 197.9h3.5v3.5h-3.5zM175.8 201.1h3.5v3.5h-3.5zM175.4 229.2h3.5v3.5h-3.5zM176.6 157.2h3.5v3.5h-3.5zM175.9 205.8h3.5v3.5h-3.5zM178.7 169.4h3.5v3.5h-3.5zM178.2 176.1h3.5v3.5h-3.5zM176.2 185.7h3.5v3.5h-3.5zM172.1 175.8h3.5v3.5h-3.5zM170.0 186.4h3.5v3.5h-3.5zM178.6 194.9h3.5v3.5h-3.5zM173.7 214.6h3.5v3.5h-3.5zM176.7 219.0h3.5v3.5h-3.5zM178.1 145.4h3.5v3.5h-3.5zM176.3 120.7h3.5v3.5h-3.5zM178.9 203.3h3.5v3.5h-3.5zM178.3 151.6h3.5v3.5h-3.5zM175.2 147.5h3.5v3.5h-3.5zM174.7 210.6h3.5v3.5h-3.5zM179.6 163.2h3.5v3.5h-3.5zM175.4 204.3h3.5v3.5h-3.5zM179.9 176.2h3.5v3.5h-3.5zM180.1 206.3h3.5v3.5h-3.5zM180.8 148.7h3.5v3.5h-3.5zM178.7 177.9h3.5v3.5h-3.5zM175.2 176.0h3.5v3.5h-3.5zM178.2 166.5h3.5v3.5h-3.5zM176.3 204.7h3.5v3.5h-3.5zM172.4 178.6h3.5v3.5h-3.5zM168.8 195.1h3.5v3.5h-3.5zM180.6 138.5h3.5v3.5h-3.5zM176.2 146.0h3.5v3.5h-3.5zM174.5 212.0h3.5v3.5h-3.5zM177.3 206.5h3.5v3.5h-3.5zM178.1 162.3h3.5v3.5h-3.5zM178.9 163.7h3.5v3.5h-3.5zM175.7 200.7h3.5v3.5h-3.5zM174.9 146.6h3.5v3.5h-3.5zM179.9 197.0h3.5v3.5h-3.5zM174.9 213.7h3.5v3.5h-3.5zM175.6 198.0h3.5v3.5h-3.5zM177.9 218.4h3.5v3.5h-3.5zM170.3 172.7h3.5v3.5h-3.5zM176.1 218.6h3.5v3.5h-3.5zM171.3 217.4h3.5v3.5h-3.5zM175.1 181.3h3.5v3.5h-3.5zM176.5 199.1h3.5v3.5h-3.5zM174.9 171.6h3.5v3.5h-3.5zM176.6 192.7h3.5v3.5h-3.5zM176.9 195.6h3.5v3.5h-3.5zM178.6 224.1h3.5v3.5h-3.5zM177.4 162.3h3.5v3.5h-3.5zM180.3 190.0h3.5v3.5h-3.5zM178.4 242.9h3.5v3.5h-3.5zM178.6 198.0h3.5v3.5h-3.5zM174.5 179.3h3.5v3.5h-3.5zM173.2 202.3h3.5v3.5h-3.5zM178.6 184.5h3.5v3.5h-3.5zM170.7 174.4h3.5v3.5h-3.5zM176.9 210.1h3.5v3.5h-3.5zM172.9 176.0h3.5v3.5h-3.5zM177.7 154.9h3.5v3.5h-3.5zM173.8 150.1h3.5v3.5h-3.5zM176.2 193.9h3.5v3.5h-3.5zM177.2 192.5h3.5v3.5h-3.5zM179.0 167.9h3.5v3.5h-3.5zM171.9 220.6h3.5v3.5h-3.5zM176.6 156.4h3.5v3.5h-3.5zM178.9 154.6h3.5v3.5h-3.5zM173.2 206.1h3.5v3.5h-3.5zM173.0 188.0h3.5v3.5h-3.5zM173.4 155.3h3.5v3.5h-3.5zM172.2 177.7h3.5v3.5h-3.5zM178.9 230.0h3.5v3.5h-3.5zM175.8 211.7h3.5v3.5h-3.5zM176.8 180.0h3.5v3.5h-3.5zM174.7 142.4h3.5v3.5h-3.5zM174.9 211.8h3.5v3.5h-3.5zM203.4 213.8h3.5v3.5h-3.5zM213.5 236.4h3.5v3.5h-3.5zM203.5 224.6h3.5v3.5h-3.5zM203.3 219.4h3.5v3.5h-3.5z"/>
<path fill="#420a68" d="M172.5 151.9h3.5v3.5h-3.5zM176.3 196.1h3.5v3.5h-3.5zM176.2 191.0h3.5v3.5h-3.5zM176.3 204.1h3.5v3.5h-3.5zM176.9 169.8h3.5v3.5h-3.5zM175.0 200.2h3.5v3.5h-3.5zM179.5 162.6h3.5v3.5h-3.5zM175.7 164.4h3.5v3.5h-3.5zM175.8 203.0h3.5v3.5h-3.5zM177.6 207.2h3.5v3.5h-3.5zM175.3 130.2h3.5v3.5h-3.5zM176.2 206.3h3.5v3.5h-3.5zM175.6 180.1h3.5v3.5h-3.5zM178.4 184.6h3.5v3.5h-3.5zM174.3 210.9h3.5v3.5h-3.5zM176.7 202.9h3.5v3.5h-3.5zM176.9 148.5h3.5v3.5h-3.5zM177.9 177.2h3.5v3.5h-3.5zM175.1 133.9h3.5v3.5h-3.5zM174.8 172.5h3.5v3.5h-3.5zM180.7 165.8h3.5v3.5h-3.5zM175.0 227.8h3.5v3.5h-3.5zM174.8 198.2h3.5v3.5h-3.5zM176.5 195.0h3.5v3.5h-3.5zM177.7 203.6h3.5v3.5h-3.5zM174.8 173.3h3.5v3.5h-3.5zM177.9 210.9h3.5v3.5h-3.5zM176.4 175.7h3.5v3.5h-3.5zM176.8 250.5h3.5v3.5h-3.5zM178.3 148.5h3.5v3.5h-3.5zM174.7 157.9h3.5v3.5h-3.5zM175.5 217.0h3.5v3.5h-3.5zM175.3 228.1h3.5v3.5h-3.5zM175.5 163.4h3.5v3.5h-3.5zM177.6 171.4h3.5v3.5h-3.5zM175.9 201.2h3.5v3.5h-3.5zM178.3 198.9h3.5v3.5h-3.5zM176.3 182.6h3.5v3.5h-3.5zM175.5 162.0h3.5v3.5h-3.5zM177.6 183.7h3.5v3.5h-3.5zM176.1 156.4h3.5v3.5h-3.5zM177.3 158.4h3.5v3.5h-3.5zM179.8 162.8h3.5v3.5h-3.5zM174.9 172.2h3.5v3.5h-3.5zM175.0 123.8h3.5v3.5h-3.5zM176.5 173.3h3.5v3.5h-3.5zM178.9 206.1h3.5v3.5h-3.5zM179.7 161.1h3.5v3.5h-3.5zM178.2 226.6h3.5v3.5h-3.5zM175.6 204.9h3.5v3.5h-3.5zM177.0 134.5h3.5v3.5h-3.5zM177.3 211.7h3.5v3.5h-3.5zM176.5 161.0h3.5v3.5h-3.5zM179.2 147.0h3.5v3.5h-3.5zM178.3 230.1h3.5v3.5h-3.5zM177.2 210.4h3.5v3.5h-3.5zM175.9 205.0h3.5v3.5h-3.5zM176.2 154.1h3.5v3.5h-3.5zM173.8 199.8h3.5v3.5h-3.5zM176.4 190.9h3.5v3.5h-3.5zM180.5 188.3h3.5v3.5h-3.5zM177.8 158.3h3.5v3.5h-3.5zM178.8 202.3h3.5v3.5h-3.5zM173.4 139.8h3.5v3.5h-3.5zM177.9 172.2h3.5v3.5h-3.5zM177.4 203.4h3.5v3.5h-3.5zM178.8 158.8h3.5v3.5h-3.5zM177.9 178.3h3.5v3.5h-3.5zM179.4 212.2h3.5v3.5h-3.5zM175.0 195.7h3.5v3.5h-3.5zM178.0 174.7h3.5v3.5h-3.5zM181.0 194.8h3.5v3.5h-3.5zM172.9 158.2h3.5v3.5h-3.5zM175.4 166.8h3.5v3.5h-3.5zM177.9 192.4h3.5v3.5h-3.5zM177.7 184.8h3.5v3.5h-3.5zM177.0 196.0h3.5v3.5h-3.5zM174.1 200.3h3.5v3.5h-3.5zM181.1 187.9h3.5v3.5h-3.5zM176.8 155.2h3.5v3.5h-3.5zM177.5 203.7h3.5v3.5h-3.5zM176.5 198.7h3.5v3.5h-3.5zM181.5 190.3h3.5v3.5h-3.5zM176.2 195.4h3.5v3.5h-3.5zM175.6 198.1h3.5v3.5h-3.5zM176.8 196.8h3.5v3.5h-3.5zM171.6 211.1h3.5v3.5h-3.5zM184.6 174.6h3.5v3.5h-3.5zM182.3 170.0h3.5v3.5h-3.5zM198.4 218.7h3.5v3.5h-3.5zM202.7 227.6h3.5v3.5h-3.5zM212.3 237.4h3.5v3.5h-3.5zM211.4 240.9h3.5v3.5h-3.5z"/>
<path fill="#4a0d69" d="M173.1 198.2h3.5v3.5h-3.5zM176.2 197.3h3.5v3.5h-3.5zM177.7 164.4h3.5v3.5h-3.5zM175.6 176.5h3.5v3.5h-3.5zM179.7 170.5h3.5v3.5h-3.5zM176.8 180.0h3.5v3.5h-3.5zM176.9 178.8h3.5v3.5h-3.5zM179.2 164.8h3.5v3.5h-3.5zM177.1 199.1h3.5v3.5h-3.5zM181.7 186.8h3.5v3.5h-3.5zM176.1 164.3h3.5v3.5h-3.5zM179.7 190.4h3.5v3.5h-3.5zM180.1 197.3h3.5v3.5h-3.5zM181.1 151.9h3.5v3.5h-3.5zM175.7 218.0h3.5v3.5h-3.5zM177.2 160.4h3.5v3.5h-3.5zM177.3 242.7h3.5v3.5h-3.5zM177.7 186.3h3.5v3.5h-3.5zM179.6 191.3h3.5v3.5h-3.5zM186.4 180.5h3.5v3.5h-3.5zM195.3 206.4h3.5v3.5h-3.5zM182.5 171.9h3.5v3.5h-3.5z"/>
<path fill="#520f6a" d="M180.1 146.6h3.5v3.5h-3.5zM178.2 176.6h3.5v3.5h-3.5zM180.5 190.6h3.5v3.5h-3.5zM190.1 186.8h3.5v3.5h-3.5zM187.4 167.6h3.5v3.5h-3.5zM184.6 162.8h3.5v3.5h-3.5zM190.0 182.7h3.5v3.5h-3.5zM182.4 156.6h3.5v3.5h-3.5zM187.2 169.6h3.5v3.5h-3.5zM195.2 180.6h3.5v3.5h-3.5zM189.1 171.7h3.5v3.5h-3.5zM185.0 153.7h3.5v3.5h-3.5zM189.0 184.5h3.5v3.5h-3.5zM206.2 225.4h3.5v3.5h-3.5zM209.6 238.6h3.5v3.5h-3.5z"/>
<path fill="#5a126c" d="M187.7 174.1h3.5v3.5h-3.5zM197.3 216.6h3.5v3.5h-3.5zM190.2 178.2h3.5v3.5h-3.5zM185.3 170.1h3.5v3.5h-3.5zM197.6 211.5h3.5v3.5h-3.5zM206.5 231.4h3.5v3.5h-3.5zM187.6 194.4h3.5v3.5h-3.5zM188.1 186.6h3.5v3.5h-3.5zM184.8 177.7h3.5v3.5h-3.5zM202.3 211.1h3.5v3.5h-3.5zM189.0 154.7h3.5v3.5h-3.5zM184.4 143.5h3.5v3.5h-3.5zM187.7 166.2h3.5v3.5h-3.5zM209.1 235.3h3.5v3.5h-3.5z"/>
<path fill="#62146d" d="M189.9 149.0h3.5v3.5h-3.5zM189.5 150.1h3.5v3.5h-3.5zM194.7 188.0h3.5v3.5h-3.5zM196.8 200.5h3.5v3.5h-3.5zM191.6 146.5h3.5v3.5h-3.5zM183.6 155.9h3.5v3.5h-3.5zM182.4 117.3h3.5v3.5h-3.5zM182.3 162.5h3.5v3.5h-3.5zM201.8 194.3h3.5v3.5h-3.5zM184.0 168.5h3.5v3.5h-3.5zM197.3 187.9h3.5v3.5h-3.5zM194.1 178.3h3.5v3.5h-3.5zM214.1 219.6h3.5v3.5h-3.5zM187.5 171.1h3.5v3.5h-3.5zM191.1 138.1h3.5v3.5h-3.5zM188.6 183.2h3.5v3.5h-3.5z"/>
<path fill="#6a176e" d="M198.1 198.4h3.5v3.5h-3.5zM186.9 167.3h3.5v3.5h-3.5zM205.7 248.2h3.5v3.5h-3.5zM207.8 187.1h3.5v3.5h-3.5zM187.2 173.5h3.5v3.5h-3.5zM187.6 168.0h3.5v3.5h-3.5zM195.6 189.0h3.5v3.5h-3.5zM197.1 223.6h3.5v3.5h-3.5zM182.8 158.4h3.5v3.5h-3.5zM188.6 163.0h3.5v3.5h-3.5zM187.5 169.1h3.5v3.5h-3.5zM207.4 206.7h3.5v3.5h-3.5zM185.9 156.8h3.5v3.5h-3.5zM212.0 158.6h3.5v3.5h-3.5zM188.9 124.7h3.5v3.5h-3.5zM183.7 183.4h3.5v3.5h-3.5zM191.5 174.7h3.5v3.5h-3.5zM198.9 179.0h3.5v3.5h-3.5zM188.6 188.0h3.5v3.5h-3.5zM187.5 121.5h3.5v3.5h-3.5zM187.6 141.4h3.5v3.5h-3.5zM183.5 139.1h3.5v3.5h-3.5zM184.6 113.8h3.5v3.5h-3.5z"/>
<path fill="#721a6d" d="M197.7 219.4h3.5v3.5h-3.5zM190.6 161.2h3.5v3.5h-3.5zM195.1 145.9h3.5v3.5h-3.5zM186.1 146.3h3.5v3.5h-3.5zM188.5 149.5h3.5v3.5h-3.5zM202.7 210.0h3.5v3.5h-3.5zM196.0 190.9h3.5v3.5h-3.5zM211.3 205.2h3.5v3.5h-3.5zM196.4 215.6h3.5v3.5h-3.5zM199.1 180.8h3.5v3.5h-3.5zM195.5 179.1h3.5v3.5h-3.5zM192.4 183.2h3.5v3.5h-3.5zM189.6 166.4h3.5v3.5h-3.5zM201.7 181.8h3.5v3.5h-3.5zM204.2 179.5h3.5v3.5h-3.5zM207.4 213.7h3.5v3.5h-3.5zM198.1 179.2h3.5v3.5h-3.5zM205.4 197.0h3.5v3.5h-3.5zM203.4 184.6h3.5v3.5h-3.5zM186.9 146.1h3.5v3.5h-3.5z"/>
<path fill="#7a1d6b" d="M185.1 151.5h3.5v3.5h-3.5zM192.9 117.3h3.5v3.5h-3.5zM193.4 182.3h3.5v3.5h-3.5zM209.1 143.0h3.5v3.5h-3.5zM190.4 182.0h3.5v3.5h-3.5zM186.1 180.1h3.5v3.5h-3.5zM203.6 232.1h3.5v3.5h-3.5zM190.3 144.5h3.5v3.5h-3.5zM211.1 179.5h3.5v3.5h-3.5zM194.1 159.2h3.5v3.5h-3.5zM185.4 170.0h3.5v3.5h-3.5zM212.3 200.3h3.5v3.5h-3.5zM190.8 147.2h3.5v3.5h-3.5zM202.3 198.0h3.5v3.5h-3.5zM191.9 173.6h3.5v3.5h-3.5zM192.2 173.5h3.5v3.5h-3.5zM184.3 125.6h3.5v3.5h-3.5zM192.3 142.5h3.5v3.5h-3.5zM198.7 132.5h3.5v3.5h-3.5zM186.3 128.9h3.5v3.5h-3.5zM224.0 199.3h3.5v3.5h-3.5z"/>
<path fill="#83206a" d="M210.8 190.4h3.5v3.5h-3.5zM182.9 145.2h3.5v3.5h-3.5zM196.0 148.7h3.5v3.5h-3.5zM200.7 182.4h3.5v3.5h-3.5zM197.5 151.1h3.5v3.5h-3.5zM190.8 213.1h3.5v3.5h-3.5zM214.0 202.2h3.5v3.5h-3.5zM186.6 172.5h3.5v3.5h-3.5zM206.0 172.2h3.5v3.5h-3.5zM205.7 200.3h3.5v3.5h-3.5zM195.7 197.7h3.5v3.5h-3.5zM202.5 155.1h3.5v3.5h-3.5zM212.3 243.8h3.5v3.5h-3.5zM207.8 198.6h3.5v3.5h-3.5zM196.1 146.0h3.5v3.5h-3.5zM191.1 149.0h3.5v3.5h-3.5zM194.7 160.3h3.5v3.5h-3.5zM221.0 181.2h3.5v3.5h-3.5zM224.5 180.0h3.5v3.5h-3.5zM220.5 221.6h3.5v3.5h-3.5zM224.8 193.8h3.5v3.5h-3.5zM217.2 217.8h3.5v3.5h-3.5z"/>
<path fill="#8b2368" d="M202.9 180.4h3.5v3.5h-3.5zM207.4 226.7h3.5v3.5h-3.5zM210.7 164.3h3.5v3.5h-3.5zM211.6 181.4h3.5v3.5h-3.5zM210.8 169.0h3.5v3.5h-3.5zM192.5 161.4h3.5v3.5h-3.5zM184.8 134.6h3.5v3.5h-3.5zM208.6 183.5h3.5v3.5h-3.5zM209.4 219.0h3.5v3.5h-3.5zM205.3 194.0h3.5v3.5h-3.5zM200.1 130.9h3.5v3.5h-3.5zM193.7 141.5h3.5v3.5h-3.5zM206.1 152.4h3.5v3.5h-3.5zM206.0 170.0h3.5v3.5h-3.5zM199.6 141.7h3.5v3.5h-3.5zM205.3 115.0h3.5v3.5h-3.5zM205.5 135.4h3.5v3.5h-3.5zM199.7 168.1h3.5v3.5h-3.5zM206.8 124.4h3.5v3.5h-3.5zM190.2 166.6h3.5v3.5h-3.5zM199.8 135.4h3.5v3.5h-3.5zM194.7 142.4h3.5v3.5h-3.5zM192.3 130.9h3.5v3.5h-3.5z"/>
<path fill="#932667" d="M198.2 161.1h3.5v3.5h-3.5zM210.3 233.6h3.5v3.5h-3.5zM186.3 140.4h3.5v3.5h-3.5zM213.6 210.4h3.5v3.5h-3.5zM185.6 132.4h3.5v3.5h-3.5zM202.5 195.8h3.5v3.5h-3.5zM201.2 203.1h3.5v3.5h-3.5zM201.6 167.8h3.5v3.5h-3.5zM205.4 218.9h3.5v3.5h-3.5zM190.0 166.6h3.5v3.5h-3.5zM203.8 132.4h3.5v3.5h-3.5zM210.5 156.1h3.5v3.5h-3.5zM204.2 164.8h3.5v3.5h-3.5zM190.2 163.1h3.5v3.5h-3.5zM210.4 189.8h3.5v3.5h-3.5zM201.8 169.2h3.5v3.5h-3.5zM213.9 191.5h3.5v3.5h-3.5zM198.6 219.8h3.5v3.5h-3.5zM209.4 176.8h3.5v3.5h-3.5zM210.0 159.6h3.5v3.5h-3.5zM185.1 148.1h3.5v3.5h-3.5zM205.4 132.0h3.5v3.5h-3.5zM197.4 157.6h3.5v3.5h-3.5zM192.6 150.8h3.5v3.5h-3.5zM198.9 147.7h3.5v3.5h-3.5zM194.2 139.9h3.5v3.5h-3.5zM215.5 234.7h3.5v3.5h-3.5zM217.4 142.6h3.5v3.5h-3.5zM217.7 215.3h3.5v3.5h-3.5zM223.9 209.9h3.5v3.5h-3.5zM224.3 151.2h3.5v3.5h-3.5zM221.4 213.8h3.5v3.5h-3.5zM220.7 172.2h3.5v3.5h-3.5zM215.4 193.6h3.5v3.5h-3.5zM223.0 195.1h3.5v3.5h-3.5zM216.5 198.0h3.5v3.5h-3.5zM197.8 90.2h3.5v3.5h-3.5zM196.2 97.2h3.5v3.5h-3.5z"/>
<path fill="#9b2963" d="M211.0 197.9h3.5v3.5h-3.5zM205.9 171.7h3.5v3.5h-3.5zM205.6 172.6h3.5v3.5h-3.5zM194.7 180.3h3.5v3.5h-3.5zM203.8 206.1h3.5v3.5h-3.5zM199.7 234.7h3.5v3.5h-3.5zM195.9 146.6h3.5v3.5h-3.5zM210.0 228.5h3.5v3.5h-3.5zM199.4 151.4h3.5v3.5h-3.5zM210.3 104.1h3.5v3.5h-3.5zM207.2 197.6h3.5v3.5h-3.5zM191.4 134.1h3.5v3.5h-3.5zM207.4 117.8h3.5v3.5h-3.5zM232.7 195.0h3.5v3.5h-3.5zM224.8 175.0h3.5v3.5h-3.5zM227.6 160.7h3.5v3.5h-3.5zM218.7 189.6h3.5v3.5h-3.5zM222.8 168.6h3.5v3.5h-3.5zM233.1 160.9h3.5v3.5h-3.5zM219.9 153.1h3.5v3.5h-3.5zM215.5 188.3h3.5v3.5h-3.5zM224.9 203.8h3.5v3.5h-3.5zM219.6 212.1h3.5v3.5h-3.5zM219.9 146.9h3.5v3.5h-3.5zM219.8 142.3h3.5v3.5h-3.5zM220.8 179.3h3.5v3.5h-3.5zM227.3 191.6h3.5v3.5h-3.5zM226.5 187.3h3.5v3.5h-3.5zM200.8 78.2h3.5v3.5h-3.5z"/>
<path fill="#a32d5f" d="M210.2 230.9h3.5v3.5h-3.5zM205.0 155.9h3.5v3.5h-3.5zM195.6 162.3h3.5v3.5h-3.5zM203.8 157.4h3.5v3.5h-3.5zM208.2 190.8h3.5v3.5h-3.5zM209.8 204.7h3.5v3.5h-3.5zM196.5 121.4h3.5v3.5h-3.5zM210.7 174.8h3.5v3.5h-3.5zM208.0 189.7h3.5v3.5h-3.5zM208.3 194.8h3.5v3.5h-3.5zM208.7 147.1h3.5v3.5h-3.5zM209.6 157.0h3.5v3.5h-3.5zM201.5 122.7h3.5v3.5h-3.5zM231.6 187.4h3.5v3.5h-3.5zM226.4 169.0h3.5v3.5h-3.5zM228.2 168.6h3.5v3.5h-3.5zM233.9 185.3h3.5v3.5h-3.5zM219.8 163.4h3.5v3.5h-3.5zM230.2 168.3h3.5v3.5h-3.5zM222.7 211.5h3.5v3.5h-3.5zM223.9 173.5h3.5v3.5h-3.5zM220.8 150.0h3.5v3.5h-3.5zM223.0 154.2h3.5v3.5h-3.5zM229.0 146.8h3.5v3.5h-3.5zM227.3 223.5h3.5v3.5h-3.5zM233.3 145.4h3.5v3.5h-3.5zM222.4 146.4h3.5v3.5h-3.5z"/>
<path fill="#ac305c" d="M208.2 165.9h3.5v3.5h-3.5zM207.7 192.3h3.5v3.5h-3.5zM212.8 184.2h3.5v3.5h-3.5zM214.1 185.7h3.5v3.5h-3.5zM204.4 190.1h3.5v3.5h-3.5zM213.3 156.1h3.5v3.5h-3.5zM213.3 144.2h3.5v3.5h-3.5zM207.6 150.7h3.5v3.5h-3.5zM233.5 187.1h3.5v3.5h-3.5zM227.4 198.1h3.5v3.5h-3.5zM215.0 131.9h3.5v3.5h-3.5zM230.8 185.5h3.5v3.5h-3.5zM214.3 175.5h3.5v3.5h-3.5zM226.4 132.5h3.5v3.5h-3.5zM219.1 143.9h3.5v3.5h-3.5zM227.7 158.8h3.5v3.5h-3.5zM214.9 207.7h3.5v3.5h-3.5zM223.5 164.1h3.5v3.5h-3.5zM221.7 123.2h3.5v3.5h-3.5zM216.6 160.9h3.5v3.5h-3.5zM231.9 184.6h3.5v3.5h-3.5zM225.9 138.3h3.5v3.5h-3.5zM215.1 175.7h3.5v3.5h-3.5zM222.9 203.5h3.5v3.5h-3.5zM237.8 168.8h3.5v3.5h-3.5zM224.5 157.7h3.5v3.5h-3.5zM233.5 156.8h3.5v3.5h-3.5zM226.3 182.7h3.5v3.5h-3.5zM226.3 185.6h3.5v3.5h-3.5zM230.9 194.2h3.5v3.5h-3.5zM218.0 189.0h3.5v3.5h-3.5zM221.2 198.0h3.5v3.5h-3.5zM219.6 172.6h3.5v3.5h-3.5zM227.6 170.3h3.5v3.5h-3.5zM219.5 211.5h3.5v3.5h-3.5zM222.3 187.7h3.5v3.5h-3.5zM227.2 151.6h3.5v3.5h-3.5zM216.3 152.2h3.5v3.5h-3.5zM223.4 148.0h3.5v3.5h-3.5z"/>
<path fill="#b43458" d="M203.6 127.5h3.5v3.5h-3.5zM213.1 139.5h3.5v3.5h-3.5zM204.1 130.4h3.5v3.5h-3.5zM206.9 135.4h3.5v3.5h-3.5zM208.6 134.1h3.5v3.5h-3.5zM211.2 193.2h3.5v3.5h-3.5zM218.9 178.8h3.5v3.5h-3.5zM228.4 172.4h3.5v3.5h-3.5zM223.8 130.1h3.5v3.5h-3.5zM224.8 157.4h3.5v3.5h-3.5zM225.6 164.7h3.5v3.5h-3.5zM242.0 201.6h3.5v3.5h-3.5zM227.1 123.6h3.5v3.5h-3.5zM224.8 168.0h3.5v3.5h-3.5zM222.6 166.8h3.5v3.5h-3.5zM228.4 146.7h3.5v3.5h-3.5zM219.5 163.2h3.5v3.5h-3.5zM232.3 112.7h3.5v3.5h-3.5zM216.4 125.6h3.5v3.5h-3.5zM224.0 219.2h3.5v3.5h-3.5zM230.2 174.7h3.5v3.5h-3.5zM210.3 188.1h3.5v3.5h-3.5zM218.8 175.9h3.5v3.5h-3.5zM230.0 238.2h3.5v3.5h-3.5zM229.7 156.6h3.5v3.5h-3.5zM228.0 124.2h3.5v3.5h-3.5zM227.4 197.3h3.5v3.5h-3.5zM231.0 143.4h3.5v3.5h-3.5zM227.9 216.9h3.5v3.5h-3.5zM212.8 128.2h3.5v3.5h-3.5zM231.9 184.0h3.5v3.5h-3.5zM229.0 189.1h3.5v3.5h-3.5zM229.5 175.7h3.5v3.5h-3.5zM238.8 156.9h3.5v3.5h-3.5zM218.3 146.6h3.5v3.5h-3.5zM222.8 172.7h3.5v3.5h-3.5zM234.8 111.7h3.5v3.5h-3.5zM223.3 147.9h3.5v3.5h-3.5z"/>
<path fill="#bc3754" d="M207.5 147.0h3.5v3.5h-3.5zM212.0 176.3h3.5v3.5h-3.5zM208.9 179.5h3.5v3.5h-3.5zM211.5 194.7h3.5v3.5h-3.5zM211.2 194.9h3.5v3.5h-3.5zM213.2 149.0h3.5v3.5h-3.5zM208.3 150.7h3.5v3.5h-3.5zM189.7 167.0h3.5v3.5h-3.5zM202.2 136.2h3.5v3.5h-3.5zM203.8 146.1h3.5v3.5h-3.5zM223.2 151.5h3.5v3.5h-3.5zM231.3 134.4h3.5v3.5h-3.5zM238.1 159.0h3.5v3.5h-3.5zM233.7 193.6h3.5v3.5h-3.5zM218.3 159.3h3.5v3.5h-3.5zM229.0 182.3h3.5v3.5h-3.5zM236.5 124.0h3.5v3.5h-3.5zM227.3 178.1h3.5v3.5h-3.5zM229.3 197.2h3.5v3.5h-3.5zM237.7 186.5h3.5v3.5h-3.5zM231.2 189.4h3.5v3.5h-3.5zM218.8 141.7h3.5v3.5h-3.5zM241.8 178.2h3.5v3.5h-3.5zM229.5 221.1h3.5v3.5h-3.5zM232.6 158.0h3.5v3.5h-3.5zM222.8 166.2h3.5v3.5h-3.5zM214.8 191.1h3.5v3.5h-3.5zM225.2 162.7h3.5v3.5h-3.5zM233.9 159.7h3.5v3.5h-3.5zM228.2 135.7h3.5v3.5h-3.5zM230.6 152.6h3.5v3.5h-3.5zM220.1 162.1h3.5v3.5h-3.5zM227.9 164.8h3.5v3.5h-3.5zM215.7 174.6h3.5v3.5h-3.5zM228.5 165.3h3.5v3.5h-3.5zM227.9 158.8h3.5v3.5h-3.5zM226.5 207.6h3.5v3.5h-3.5zM235.1 194.2h3.5v3.5h-3.5zM226.7 165.9h3.5v3.5h-3.5zM223.7 187.7h3.5v3.5h-3.5zM228.8 172.4h3.5v3.5h-3.5zM234.5 176.2h3.5v3.5h-3.5zM227.3 173.0h3.5v3.5h-3.5zM217.5 133.7h3.5v3.5h-3.5zM229.2 155.6h3.5v3.5h-3.5zM222.6 202.8h3.5v3.5h-3.5zM218.7 144.5h3.5v3.5h-3.5zM236.2 189.7h3.5v3.5h-3.5zM236.2 159.2h3.5v3.5h-3.5zM231.4 156.7h3.5v3.5h-3.5zM222.8 149.0h3.5v3.5h-3.5zM220.5 185.7h3.5v3.5h-3.5zM227.0 217.8h3.5v3.5h-3.5z"/>
<path fill="#c33c4f" d="M207.7 105.4h3.5v3.5h-3.5zM213.6 145.1h3.5v3.5h-3.5zM213.4 170.1h3.5v3.5h-3.5zM230.8 159.6h3.5v3.5h-3.5zM231.3 140.2h3.5v3.5h-3.5zM217.2 155.6h3.5v3.5h-3.5zM226.0 151.7h3.5v3.5h-3.5zM219.2 206.3h3.5v3.5h-3.5zM215.1 173.5h3.5v3.5h-3.5zM233.5 157.5h3.5v3.5h-3.5zM224.7 180.4h3.5v3.5h-3.5zM222.9 154.6h3.5v3.5h-3.5zM230.6 168.4h3.5v3.5h-3.5zM221.0 114.8h3.5v3.5h-3.5zM226.4 122.1h3.5v3.5h-3.5zM232.4 155.5h3.5v3.5h-3.5zM236.2 164.2h3.5v3.5h-3.5zM226.5 170.6h3.5v3.5h-3.5zM229.6 157.0h3.5v3.5h-3.5zM227.8 152.2h3.5v3.5h-3.5zM237.1 168.7h3.5v3.5h-3.5zM230.7 179.4h3.5v3.5h-3.5zM222.9 145.7h3.5v3.5h-3.5zM231.9 127.6h3.5v3.5h-3.5zM229.9 180.9h3.5v3.5h-3.5zM221.7 153.0h3.5v3.5h-3.5zM226.0 176.1h3.5v3.5h-3.5zM230.4 168.1h3.5v3.5h-3.5zM225.8 195.1h3.5v3.5h-3.5zM228.0 187.4h3.5v3.5h-3.5zM214.8 169.3h3.5v3.5h-3.5zM218.0 138.6h3.5v3.5h-3.5zM230.3 192.0h3.5v3.5h-3.5zM238.8 191.3h3.5v3.5h-3.5zM237.7 195.5h3.5v3.5h-3.5zM219.4 154.2h3.5v3.5h-3.5zM227.8 164.6h3.5v3.5h-3.5zM225.8 134.3h3.5v3.5h-3.5zM226.6 212.7h3.5v3.5h-3.5z"/>
<path fill="#c9414a" d="M210.7 155.5h3.5v3.5h-3.5zM227.1 217.3h3.5v3.5h-3.5zM232.9 164.2h3.5v3.5h-3.5zM225.6 144.0h3.5v3.5h-3.5zM229.4 190.4h3.5v3.5h-3.5zM231.2 178.6h3.5v3.5h-3.5zM223.0 144.1h3.5v3.5h-3.5zM241.3 130.5h3.5v3.5h-3.5zM236.5 144.8h3.5v3.5h-3.5zM234.9 210.2h3.5v3.5h-3.5zM238.1 180.6h3.5v3.5h-3.5zM230.5 168.4h3.5v3.5h-3.5zM239.5 158.3h3.5v3.5h-3.5zM225.9 166.2h3.5v3.5h-3.5zM236.5 193.6h3.5v3.5h-3.5zM229.8 160.0h3.5v3.5h-3.5zM219.6 167.6h3.5v3.5h-3.5zM236.0 176.1h3.5v3.5h-3.5zM220.8 125.6h3.5v3.5h-3.5zM236.3 202.4h3.5v3.5h-3.5zM239.9 174.1h3.5v3.5h-3.5zM236.9 162.9h3.5v3.5h-3.5zM223.1 143.4h3.5v3.5h-3.5zM229.8 160.1h3.5v3.5h-3.5zM238.9 157.1h3.5v3.5h-3.5zM231.4 179.3h3.5v3.5h-3.5zM229.6 173.2h3.5v3.5h-3.5zM214.9 203.8h3.5v3.5h-3.5zM236.8 169.7h3.5v3.5h-3.5zM234.4 146.5h3.5v3.5h-3.5zM227.0 182.3h3.5v3.5h-3.5zM229.1 163.5h3.5v3.5h-3.5zM220.9 146.1h3.5v3.5h-3.5zM216.8 142.3h3.5v3.5h-3.5zM228.5 165.1h3.5v3.5h-3.5z"/>
<path fill="#d04744" d="M213.9 189.4h3.5v3.5h-3.5zM227.2 150.1h3.5v3.5h-3.5zM234.2 173.6h3.5v3.5h-3.5zM232.8 161.7h3.5v3.5h-3.5zM235.7 166.8h3.5v3.5h-3.5zM239.2 153.9h3.5v3.5h-3.5zM227.5 131.7h3.5v3.5h-3.5zM226.3 119.7h3.5v3.5h-3.5zM229.3 102.7h3.5v3.5h-3.5zM232.0 159.2h3.5v3.5h-3.5zM236.7 209.7h3.5v3.5h-3.5zM241.6 231.6h3.5v3.5h-3.5zM233.4 143.3h3.5v3.5h-3.5zM224.5 191.2h3.5v3.5h-3.5zM238.9 171.0h3.5v3.5h-3.5zM218.5 148.9h3.5v3.5h-3.5zM232.9 165.5h3.5v3.5h-3.5zM226.3 156.4h3.5v3.5h-3.5zM240.7 189.2h3.5v3.5h-3.5zM234.7 166.0h3.5v3.5h-3.5zM236.4 189.2h3.5v3.5h-3.5zM228.7 160.8h3.5v3.5h-3.5zM229.0 177.3h3.5v3.5h-3.5zM233.9 176.4h3.5v3.5h-3.5zM225.2 149.3h3.5v3.5h-3.5zM253.4 218.7h3.5v3.5h-3.5zM237.2 74.0h3.5v3.5h-3.5z"/>
<path fill="#d64c3f" d="M235.4 185.6h3.5v3.5h-3.5zM234.6 138.9h3.5v3.5h-3.5zM225.1 186.4h3.5v3.5h-3.5zM228.4 122.8h3.5v3.5h-3.5zM230.4 133.7h3.5v3.5h-3.5zM224.5 126.1h3.5v3.5h-3.5zM231.5 133.8h3.5v3.5h-3.5zM232.6 176.2h3.5v3.5h-3.5zM236.6 167.7h3.5v3.5h-3.5zM226.5 195.1h3.5v3.5h-3.5zM237.8 180.1h3.5v3.5h-3.5zM235.5 132.2h3.5v3.5h-3.5zM219.7 141.2h3.5v3.5h-3.5zM231.2 147.4h3.5v3.5h-3.5zM244.1 141.6h3.5v3.5h-3.5zM227.5 126.7h3.5v3.5h-3.5zM240.7 143.4h3.5v3.5h-3.5zM228.2 163.5h3.5v3.5h-3.5zM232.7 162.8h3.5v3.5h-3.5zM245.2 219.6h3.5v3.5h-3.5z"/>
<path fill="#dd513a" d="M238.5 147.7h3.5v3.5h-3.5zM230.0 164.3h3.5v3.5h-3.5zM238.7 151.6h3.5v3.5h-3.5zM243.2 168.5h3.5v3.5h-3.5zM224.7 140.6h3.5v3.5h-3.5zM234.1 151.9h3.5v3.5h-3.5zM227.8 186.3h3.5v3.5h-3.5zM237.5 162.2h3.5v3.5h-3.5zM234.6 153.4h3.5v3.5h-3.5zM231.2 155.2h3.5v3.5h-3.5zM236.5 151.3h3.5v3.5h-3.5zM229.8 145.0h3.5v3.5h-3.5zM233.7 155.2h3.5v3.5h-3.5zM239.7 145.7h3.5v3.5h-3.5zM243.5 191.7h3.5v3.5h-3.5z"/>
<path fill="#e15933" d="M222.7 108.0h3.5v3.5h-3.5zM229.3 126.0h3.5v3.5h-3.5zM243.6 159.6h3.5v3.5h-3.5zM232.5 114.9h3.5v3.5h-3.5zM233.8 143.1h3.5v3.5h-3.5zM223.2 150.0h3.5v3.5h-3.5zM228.1 215.9h3.5v3.5h-3.5zM248.2 102.8h3.5v3.5h-3.5zM239.6 213.6h3.5v3.5h-3.5zM250.1 215.3h3.5v3.5h-3.5zM248.6 207.8h3.5v3.5h-3.5zM255.8 209.6h3.5v3.5h-3.5zM249.4 202.1h3.5v3.5h-3.5z"/>
<path fill="#e6612d" d="M235.7 120.1h3.5v3.5h-3.5zM242.8 175.1h3.5v3.5h-3.5zM249.9 225.0h3.5v3.5h-3.5zM246.7 198.4h3.5v3.5h-3.5z"/>
<path fill="#ea6826" d="M223.7 148.3h3.5v3.5h-3.5zM232.5 147.9h3.5v3.5h-3.5zM247.4 156.9h3.5v3.5h-3.5zM240.4 198.8h3.5v3.5h-3.5zM240.3 168.5h3.5v3.5h-3.5zM248.4 140.5h3.5v3.5h-3.5zM254.1 113.6h3.5v3.5h-3.5zM252.2 200.0h3.5v3.5h-3.5zM246.4 205.7h3.5v3.5h-3.5z"/>
<path fill="#ef7020" d="M245.4 188.9h3.5v3.5h-3.5zM252.8 203.2h3.5v3.5h-3.5zM245.5 164.7h3.5v3.5h-3.5zM245.5 160.0h3.5v3.5h-3.5zM251.1 181.7h3.5v3.5h-3.5zM243.4 190.8h3.5v3.5h-3.5zM248.3 141.5h3.5v3.5h-3.5zM254.3 195.2h3.5v3.5h-3.5zM248.2 199.3h3.5v3.5h-3.5zM246.4 162.5h3.5v3.5h-3.5zM253.6 159.7h3.5v3.5h-3.5zM242.2 199.2h3.5v3.5h-3.5zM253.0 202.4h3.5v3.5h-3.5zM247.8 198.2h3.5v3.5h-3.5zM237.9 119.6h3.5v3.5h-3.5zM241.4 142.6h3.5v3.5h-3.5zM252.6 175.2h3.5v3.5h-3.5zM251.0 161.2h3.5v3.5h-3.5z"/>
<path fill="#f37819" d="M251.1 193.1h3.5v3.5h-3.5zM245.5 202.1h3.5v3.5h-3.5zM253.2 112.3h3.5v3.5h-3.5zM247.7 122.4h3.5v3.5h-3.5zM252.3 157.9h3.5v3.5h-3.5zM246.5 157.7h3.5v3.5h-3.5zM243.3 120.0h3.5v3.5h-3.5zM244.1 176.7h3.5v3.5h-3.5zM251.2 164.6h3.5v3.5h-3.5zM249.5 140.8h3.5v3.5h-3.5zM246.7 178.4h3.5v3.5h-3.5zM243.8 173.7h3.5v3.5h-3.5zM248.2 147.9h3.5v3.5h-3.5zM244.1 128.6h3.5v3.5h-3.5zM247.5 144.3h3.5v3.5h-3.5zM250.1 176.0h3.5v3.5h-3.5zM245.7 166.5h3.5v3.5h-3.5zM242.4 148.8h3.5v3.5h-3.5zM242.4 189.5h3.5v3.5h-3.5zM248.4 118.1h3.5v3.5h-3.5zM249.9 125.1h3.5v3.5h-3.5zM252.9 160.5h3.5v3.5h-3.5zM252.8 123.1h3.5v3.5h-3.5zM247.4 148.3h3.5v3.5h-3.5zM240.6 185.7h3.5v3.5h-3.5zM251.5 100.2h3.5v3.5h-3.5z"/>
<path fill="#f58116" d="M246.1 133.3h3.5v3.5h-3.5zM241.0 212.1h3.5v3.5h-3.5zM239.8 111.6h3.5v3.5h-3.5zM251.4 161.5h3.5v3.5h-3.5zM252.3 140.6h3.5v3.5h-3.5zM241.1 178.3h3.5v3.5h-3.5zM239.3 135.5h3.5v3.5h-3.5zM249.9 183.2h3.5v3.5h-3.5zM250.4 164.8h3.5v3.5h-3.5zM247.1 120.0h3.5v3.5h-3.5zM239.9 174.1h3.5v3.5h-3.5zM236.1 180.6h3.5v3.5h-3.5zM248.3 137.9h3.5v3.5h-3.5zM243.2 194.8h3.5v3.5h-3.5zM238.6 124.2h3.5v3.5h-3.5zM246.1 199.8h3.5v3.5h-3.5zM249.2 183.5h3.5v3.5h-3.5zM251.5 128.6h3.5v3.5h-3.5zM247.6 172.9h3.5v3.5h-3.5zM248.4 174.6h3.5v3.5h-3.5zM247.1 178.5h3.5v3.5h-3.5zM252.7 168.3h3.5v3.5h-3.5zM236.3 187.5h3.5v3.5h-3.5zM240.5 141.9h3.5v3.5h-3.5zM243.0 122.9h3.5v3.5h-3.5zM246.5 142.4h3.5v3.5h-3.5zM242.8 60.2h3.5v3.5h-3.5zM243.8 74.2h3.5v3.5h-3.5z"/>
<path fill="#f78a13" d="M255.5 164.0h3.5v3.5h-3.5zM255.4 176.1h3.5v3.5h-3.5zM249.0 155.9h3.5v3.5h-3.5zM255.2 172.7h3.5v3.5h-3.5zM249.7 180.1h3.5v3.5h-3.5zM251.3 162.4h3.5v3.5h-3.5zM250.1 151.4h3.5v3.5h-3.5zM253.2 161.1h3.5v3.5h-3.5zM247.1 162.0h3.5v3.5h-3.5zM244.5 152.2h3.5v3.5h-3.5zM249.4 187.0h3.5v3.5h-3.5zM249.0 177.4h3.5v3.5h-3.5zM245.1 156.3h3.5v3.5h-3.5zM253.1 168.9h3.5v3.5h-3.5zM247.0 140.9h3.5v3.5h-3.5zM243.3 95.9h3.5v3.5h-3.5zM248.5 169.5h3.5v3.5h-3.5zM239.5 182.5h3.5v3.5h-3.5zM248.7 168.2h3.5v3.5h-3.5zM244.5 162.3h3.5v3.5h-3.5zM249.6 149.0h3.5v3.5h-3.5zM246.2 143.7h3.5v3.5h-3.5zM246.4 137.6h3.5v3.5h-3.5zM241.9 128.3h3.5v3.5h-3.5zM249.6 136.9h3.5v3.5h-3.5zM253.1 169.5h3.5v3.5h-3.5zM247.3 116.4h3.5v3.5h-3.5zM252.7 136.2h3.5v3.5h-3.5zM251.9 152.5h3.5v3.5h-3.5zM250.3 110.4h3.5v3.5h-3.5zM236.1 121.3h3.5v3.5h-3.5zM237.6 156.9h3.5v3.5h-3.5zM249.5 170.7h3.5v3.5h-3.5zM249.1 162.2h3.5v3.5h-3.5zM245.8 134.6h3.5v3.5h-3.5zM246.4 207.9h3.5v3.5h-3.5zM245.8 123.1h3.5v3.5h-3.5zM244.9 170.3h3.5v3.5h-3.5zM254.8 169.9h3.5v3.5h-3.5zM250.1 164.9h3.5v3.5h-3.5z"/>
<path fill="#f89310" d="M234.8 216.5h3.5v3.5h-3.5zM238.3 217.8h3.5v3.5h-3.5zM254.3 111.2h3.5v3.5h-3.5zM247.2 156.5h3.5v3.5h-3.5zM250.7 162.8h3.5v3.5h-3.5zM237.0 142.8h3.5v3.5h-3.5zM248.7 146.2h3.5v3.5h-3.5zM249.3 122.8h3.5v3.5h-3.5zM244.7 73.7h3.5v3.5h-3.5zM237.1 164.5h3.5v3.5h-3.5zM243.5 130.2h3.5v3.5h-3.5zM252.7 145.8h3.5v3.5h-3.5zM249.7 143.1h3.5v3.5h-3.5zM239.7 147.4h3.5v3.5h-3.5zM248.7 176.1h3.5v3.5h-3.5zM244.5 181.4h3.5v3.5h-3.5zM246.4 185.4h3.5v3.5h-3.5zM245.9 182.3h3.5v3.5h-3.5zM253.4 136.5h3.5v3.5h-3.5zM243.2 191.0h3.5v3.5h-3.5zM248.9 82.0h3.5v3.5h-3.5zM237.1 120.3h3.5v3.5h-3.5zM244.8 167.3h3.5v3.5h-3.5zM245.7 156.2h3.5v3.5h-3.5zM241.7 147.4h3.5v3.5h-3.5zM251.8 138.4h3.5v3.5h-3.5zM243.5 133.2h3.5v3.5h-3.5zM246.1 110.1h3.5v3.5h-3.5zM241.1 141.7h3.5v3.5h-3.5zM246.6 147.5h3.5v3.5h-3.5zM250.4 154.7h3.5v3.5h-3.5zM254.3 173.3h3.5v3.5h-3.5zM250.2 137.6h3.5v3.5h-3.5zM245.4 146.3h3.5v3.5h-3.5zM238.0 188.8h3.5v3.5h-3.5zM252.0 183.9h3.5v3.5h-3.5zM247.8 176.9h3.5v3.5h-3.5zM248.4 191.3h3.5v3.5h-3.5zM251.4 122.3h3.5v3.5h-3.5zM249.8 177.0h3.5v3.5h-3.5zM250.1 195.2h3.5v3.5h-3.5zM244.0 147.9h3.5v3.5h-3.5z"/>
<path fill="#fa9c0d" d="M232.8 197.8h3.5v3.5h-3.5zM238.0 96.8h3.5v3.5h-3.5zM252.6 149.0h3.5v3.5h-3.5zM250.0 183.8h3.5v3.5h-3.5zM251.7 134.9h3.5v3.5h-3.5zM243.3 153.9h3.5v3.5h-3.5zM240.8 182.6h3.5v3.5h-3.5zM248.9 144.5h3.5v3.5h-3.5zM244.0 119.7h3.5v3.5h-3.5zM248.5 138.9h3.5v3.5h-3.5zM249.1 160.1h3.5v3.5h-3.5zM238.1 170.7h3.5v3.5h-3.5zM248.2 171.4h3.5v3.5h-3.5zM241.4 148.5h3.5v3.5h-3.5zM242.3 132.8h3.5v3.5h-3.5zM246.5 168.0h3.5v3.5h-3.5zM246.3 156.4h3.5v3.5h-3.5zM245.6 148.5h3.5v3.5h-3.5zM249.8 125.1h3.5v3.5h-3.5zM244.1 151.4h3.5v3.5h-3.5zM245.1 158.2h3.5v3.5h-3.5zM254.7 134.0h3.5v3.5h-3.5zM247.8 157.5h3.5v3.5h-3.5zM249.1 128.7h3.5v3.5h-3.5z"/>
<path fill="#fca50a" d="M231.5 151.0h3.5v3.5h-3.5zM234.1 136.1h3.5v3.5h-3.5zM232.0 128.0h3.5v3.5h-3.5zM231.0 178.4h3.5v3.5h-3.5zM238.4 132.4h3.5v3.5h-3.5zM241.7 87.2h3.5v3.5h-3.5zM232.9 211.0h3.5v3.5h-3.5zM233.2 137.6h3.5v3.5h-3.5zM240.9 143.2h3.5v3.5h-3.5zM247.1 128.2h3.5v3.5h-3.5zM252.2 126.9h3.5v3.5h-3.5zM248.2 170.9h3.5v3.5h-3.5zM248.9 89.4h3.5v3.5h-3.5zM241.3 184.5h3.5v3.5h-3.5z"/>
<path fill="#fbaf16" d="M234.1 134.0h3.5v3.5h-3.5zM233.8 114.4h3.5v3.5h-3.5zM233.5 190.5h3.5v3.5h-3.5zM239.6 123.2h3.5v3.5h-3.5zM241.9 119.5h3.5v3.5h-3.5zM242.5 181.9h3.5v3.5h-3.5zM236.3 158.6h3.5v3.5h-3.5zM231.6 200.6h3.5v3.5h-3.5zM240.4 127.7h3.5v3.5h-3.5zM232.0 190.5h3.5v3.5h-3.5zM242.6 159.9h3.5v3.5h-3.5zM238.5 147.3h3.5v3.5h-3.5zM242.1 186.2h3.5v3.5h-3.5zM232.5 181.8h3.5v3.5h-3.5zM244.7 149.0h3.5v3.5h-3.5zM237.5 110.8h3.5v3.5h-3.5zM231.5 162.0h3.5v3.5h-3.5zM234.9 133.5h3.5v3.5h-3.5zM238.9 127.6h3.5v3.5h-3.5zM233.6 142.2h3.5v3.5h-3.5zM249.1 119.4h3.5v3.5h-3.5zM245.1 153.6h3.5v3.5h-3.5zM252.6 173.3h3.5v3.5h-3.5zM243.0 106.6h3.5v3.5h-3.5z"/>
<path fill="#fab922" d="M230.4 152.9h3.5v3.5h-3.5zM231.6 120.3h3.5v3.5h-3.5zM238.9 109.5h3.5v3.5h-3.5zM237.3 117.6h3.5v3.5h-3.5zM232.2 153.5h3.5v3.5h-3.5zM234.7 190.6h3.5v3.5h-3.5zM234.1 140.2h3.5v3.5h-3.5zM244.3 107.1h3.5v3.5h-3.5zM236.9 181.7h3.5v3.5h-3.5zM233.3 176.5h3.5v3.5h-3.5zM240.0 161.1h3.5v3.5h-3.5zM242.3 158.2h3.5v3.5h-3.5zM232.5 177.7h3.5v3.5h-3.5zM237.0 151.7h3.5v3.5h-3.5zM233.7 145.0h3.5v3.5h-3.5zM242.9 175.1h3.5v3.5h-3.5zM239.6 139.9h3.5v3.5h-3.5zM236.8 127.1h3.5v3.5h-3.5zM234.5 110.8h3.5v3.5h-3.5zM241.9 155.6h3.5v3.5h-3.5zM231.7 137.1h3.5v3.5h-3.5zM240.0 154.4h3.5v3.5h-3.5zM235.0 153.9h3.5v3.5h-3.5z"/>
<path fill="#f8c32e" d="M233.9 141.8h3.5v3.5h-3.5zM242.9 130.1h3.5v3.5h-3.5zM234.2 150.2h3.5v3.5h-3.5zM240.9 127.3h3.5v3.5h-3.5zM239.2 159.1h3.5v3.5h-3.5zM238.2 182.6h3.5v3.5h-3.5zM232.7 126.1h3.5v3.5h-3.5zM234.0 177.7h3.5v3.5h-3.5zM229.3 180.8h3.5v3.5h-3.5zM233.2 164.6h3.5v3.5h-3.5zM232.8 170.4h3.5v3.5h-3.5zM242.7 153.2h3.5v3.5h-3.5zM242.8 160.7h3.5v3.5h-3.5zM239.0 182.4h3.5v3.5h-3.5zM233.5 170.4h3.5v3.5h-3.5zM235.3 111.8h3.5v3.5h-3.5zM232.2 153.2h3.5v3.5h-3.5zM238.4 159.5h3.5v3.5h-3.5zM233.3 142.4h3.5v3.5h-3.5zM230.4 129.4h3.5v3.5h-3.5zM237.0 185.8h3.5v3.5h-3.5zM239.2 198.9h3.5v3.5h-3.5zM241.0 176.2h3.5v3.5h-3.5zM241.6 170.3h3.5v3.5h-3.5zM234.3 119.3h3.5v3.5h-3.5zM231.0 170.5h3.5v3.5h-3.5zM239.3 168.5h3.5v3.5h-3.5zM234.8 102.8h3.5v3.5h-3.5zM240.0 142.2h3.5v3.5h-3.5zM237.3 165.3h3.5v3.5h-3.5z"/>
<path fill="#f7cd3a" d="M233.4 124.3h3.5v3.5h-3.5zM233.3 113.3h3.5v3.5h-3.5zM240.1 152.8h3.5v3.5h-3.5zM242.1 168.8h3.5v3.5h-3.5zM235.5 195.8h3.5v3.5h-3.5zM231.8 168.6h3.5v3.5h-3.5zM234.8 138.8h3.5v3.5h-3.5zM235.5 173.0h3.5v3.5h-3.5zM236.1 190.3h3.5v3.5h-3.5zM235.8 160.6h3.5v3.5h-3.5zM234.4 148.8h3.5v3.5h-3.5zM233.3 142.5h3.5v3.5h-3.5zM236.0 128.0h3.5v3.5h-3.5zM235.8 155.3h3.5v3.5h-3.5zM232.7 139.8h3.5v3.5h-3.5zM236.9 120.3h3.5v3.5h-3.5zM231.2 198.1h3.5v3.5h-3.5zM237.0 129.8h3.5v3.5h-3.5zM238.8 174.1h3.5v3.5h-3.5zM241.4 136.8h3.5v3.5h-3.5zM234.4 157.4h3.5v3.5h-3.5zM235.6 162.5h3.5v3.5h-3.5zM233.1 155.2h3.5v3.5h-3.5zM241.4 134.1h3.5v3.5h-3.5z"/>
<path fill="#f6d746" d="M240.0 156.5h3.5v3.5h-3.5zM238.4 112.1h3.5v3.5h-3.5zM228.4 170.0h3.5v3.5h-3.5zM235.6 172.4h3.5v3.5h-3.5zM234.5 150.0h3.5v3.5h-3.5zM238.1 143.7h3.5v3.5h-3.5zM239.3 88.1h3.5v3.5h-3.5zM241.3 156.9h3.5v3.5h-3.5zM238.5 132.5h3.5v3.5h-3.5zM229.2 189.8h3.5v3.5h-3.5z"/>
<path fill="#f7df59" d="M235.8 118.8h3.5v3.5h-3.5zM230.7 136.1h3.5v3.5h-3.5zM236.4 157.1h3.5v3.5h-3.5zM237.4 145.9h3.5v3.5h-3.5zM237.3 174.8h3.5v3.5h-3.5zM231.7 116.8h3.5v3.5h-3.5zM228.9 68.2h3.5v3.5h-3.5zM239.0 138.1h3.5v3.5h-3.5zM233.6 171.2h3.5v3.5h-3.5zM232.0 146.1h3.5v3.5h-3.5z"/>
<path fill="#f8e76c" d="M233.7 129.9h3.5v3.5h-3.5z"/>
<g stroke="#6b8e23" stroke-width="1.5" stroke-opacity="0.9" fill="none"><path d="M160.6 167.5V242.3"/><path d="M161.0 169.8V240.6"/><path d="M161.9 164.1V235.5"/><path d="M161.9 166.2V235.7"/><path d="M162.9 169.8V241.2"/><path d="M163.1 162.2V238.1"/><path d="M163.8 161.2V237.8"/><path d="M164.3 160.9V238.0"/><path d="M165.0 169.1V239.6"/><path d="M165.7 164.8V234.3"/><path d="M166.4 161.5V237.6"/><path d="M166.8 168.2V235.1"/><path d="M167.8 166.9V231.9"/><path d="M168.4 165.4V238.2"/><path d="M168.7 158.2V233.7"/><path d="M169.2 158.3V237.0"/><path d="M170.1 157.1V235.8"/><path d="M170.2 159.5V234.6"/><path d="M171.2 159.4V235.4"/><path d="M171.4 160.7V233.3"/><path d="M172.4 162.8V231.3"/><path d="M172.6 155.1V231.8"/><path d="M173.2 157.3V231.3"/><path d="M173.9 161.3V234.5"/><path d="M174.8 156.1V229.5"/><path d="M175.5 160.9V231.9"/><path d="M176.0 154.2V229.7"/><path d="M176.4 160.2V231.2"/><path d="M176.8 159.0V232.9"/><path d="M177.6 157.7V231.1"/><path d="M178.4 160.3V231.3"/><path d="M178.8 156.8V227.0"/><path d="M179.2 151.6V231.9"/><path d="M180.2 160.8V230.3"/><path d="M184.5 136.0V225.3"/><path d="M199.4 121.0V229.3"/><path d="M212.6 119.0V232.0"/><path d="M221.0 117.0V222.0"/><path d="M229.4 116.4V211.5"/><path d="M237.0 114.5V209.0"/><path d="M242.3 104.6V203.7"/><path d="M247.0 109.9V212.8"/><path d="M250.6 116.4V217.5"/><path d="M168.4 203.7H174.4"/><path d="M166.0 204.5H172.0"/><path d="M162.4 206.2H168.4"/><path d="M171.3 201.8H177.3"/><path d="M159.8 210.3H165.8"/><path d="M160.9 207.6H166.9"/><path d="M165.2 204.5H171.2"/><path d="M164.7 204.1H170.7"/><path d="M166.9 205.4H172.9"/><path d="M170.9 203.8H176.9"/><path d="M170.8 202.4H176.8"/><path d="M160.4 209.1H166.4"/><path d="M163.0 206.1H169.0"/><path d="M165.2 205.3H171.2"/><path d="M170.4 202.4H176.4"/><path d="M169.3 203.2H175.3"/><path d="M167.6 203.5H173.6"/><path d="M162.6 208.1H168.6"/><path d="M170.1 203.4H176.1"/><path d="M170.8 200.9H176.8"/><path d="M171.6 202.2H177.6"/><path d="M164.5 206.4H170.5"/><path d="M164.7 206.0H170.7"/><path d="M167.9 202.1H173.9"/><path d="M163.1 207.7H169.1"/><path d="M168.3 202.8H174.3"/><path d="M164.7 205.5H170.7"/><path d="M167.1 204.7H173.1"/><path d="M172.3 200.5H178.3"/><path d="M170.3 202.7H176.3"/><path d="M178.0 192.5H192.0"/><path d="M180.0 178.2H208.0"/><path d="M204.0 174.2H219.0"/><path d="M214.0 175.9H227.0"/><path d="M223.0 172.9H235.0"/><path d="M231.0 169.6H242.0"/><path d="M237.0 162.4H247.0"/><path d="M241.0 162.0H252.0"/><path d="M245.0 162.8H256.0"/></g>
<path stroke="#5a6b3c" stroke-width="1.6" fill="none" d="M161.8 170.0V241.0"/>
<rect x="159.8" y="209.2" width="6.7" height="6.7" fill="#fff" stroke="#000" stroke-width="1.3"/>
<rect x="160.2" y="203.5" width="6.7" height="6.7" fill="#000" stroke="#000" stroke-width="1.3"/>
<rect x="160.2" y="200.5" width="6.7" height="6.7" fill="#000" stroke="#000" stroke-width="1.3"/>
<rect x="163.7" y="199.7" width="6.7" height="6.7" fill="#000" stroke="#000" stroke-width="1.3"/>
<rect x="163.7" y="203.0" width="6.7" height="6.7" fill="#000" stroke="#000" stroke-width="1.3"/>
<rect x="167.2" y="198.7" width="6.7" height="6.7" fill="#000" stroke="#000" stroke-width="1.3"/>
<rect x="167.2" y="201.7" width="6.7" height="6.7" fill="#000" stroke="#000" stroke-width="1.3"/>
<rect x="170.1" y="197.7" width="6.7" height="6.7" fill="#000" stroke="#000" stroke-width="1.3"/>
<rect x="162.7" y="198.2" width="6.7" height="6.7" fill="#000" stroke="#000" stroke-width="1.3"/>
<rect x="159.7" y="204.7" width="6.7" height="6.7" fill="#000" stroke="#000" stroke-width="1.3"/>
<rect x="169.2" y="197.2" width="6.7" height="6.7" fill="#000" stroke="#000" stroke-width="1.3"/>
<rect x="157.7" y="212.0" width="6.7" height="6.7" fill="#fff" stroke="#000" stroke-width="1.3"/>
<rect x="170.1" y="201.5" width="6.7" height="6.7" fill="#fff" stroke="#000" stroke-width="1.3"/>
<rect x="174.2" y="197.8" width="6.7" height="6.7" fill="#fff" stroke="#000" stroke-width="1.3"/>
<rect x="176.2" y="193.2" width="6.7" height="6.7" fill="#fff" stroke="#000" stroke-width="1.3"/>
<rect x="181.2" y="189.1" width="6.7" height="6.7" fill="#fff" stroke="#000" stroke-width="1.3"/>
<rect x="195.8" y="174.8" width="6.7" height="6.7" fill="#fff" stroke="#000" stroke-width="1.3"/>
<rect x="208.8" y="170.8" width="6.7" height="6.7" fill="#fff" stroke="#000" stroke-width="1.3"/>
<rect x="217.3" y="172.6" width="6.7" height="6.7" fill="#fff" stroke="#000" stroke-width="1.3"/>
<rect x="226.0" y="169.6" width="6.7" height="6.7" fill="#fff" stroke="#000" stroke-width="1.3"/>
<rect x="233.6" y="166.2" width="6.7" height="6.7" fill="#fff" stroke="#000" stroke-width="1.3"/>
<rect x="237.8" y="159.1" width="6.7" height="6.7" fill="#fff" stroke="#000" stroke-width="1.3"/>
<rect x="241.7" y="158.7" width="6.7" height="6.7" fill="#fff" stroke="#000" stroke-width="1.3"/>
<rect x="247.0" y="159.5" width="6.7" height="6.7" fill="#fff" stroke="#000" stroke-width="1.3"/>
<g transform="translate(240.1 13.6) rotate(-45)">
<rect x="-20.76" y="-9.78" width="33.41" height="16.79" fill="#fff"/>
<text x="-18.26" y="3.8" font-size="14.6" fill="#999">10:1</text>
</g>
<g transform="translate(255.7 29.3) rotate(-45)">
<rect x="-12.65" y="-9.78" width="25.29" height="16.79" fill="#fff"/>
<text x="-10.15" y="3.8" font-size="14.6" fill="#999">4:1</text>
</g>
<g transform="translate(268.4 41.6) rotate(-45)">
<rect x="-12.65" y="-9.78" width="25.29" height="16.79" fill="#fff"/>
<text x="-10.15" y="3.8" font-size="14.6" fill="#999">2:1</text>
</g>
<g transform="translate(280.5 51.5) rotate(-45)">
<rect x="-12.65" y="-9.78" width="25.29" height="16.79" fill="#fff"/>
<text x="-10.15" y="3.8" font-size="14.6" fill="#111">1:1</text>
</g>
<g transform="translate(294.2 65) rotate(-45)">
<rect x="-12.65" y="-9.78" width="25.29" height="16.79" fill="#fff"/>
<text x="-10.15" y="3.8" font-size="14.6" fill="#999">1:2</text>
</g>
<g transform="translate(307.3 77) rotate(-45)">
<rect x="-12.65" y="-9.78" width="25.29" height="16.79" fill="#fff"/>
<text x="-10.15" y="3.8" font-size="14.6" fill="#999">1:4</text>
</g>
<g transform="translate(317.3 98) rotate(-45)">
<rect x="-12.65" y="-9.78" width="33.41" height="16.79" fill="#fff"/>
<text x="-10.15" y="3.8" font-size="14.6" fill="#999">1:10</text>
</g>
</g>
<path d="M44.76 -2V288.1H332V-2" fill="none" stroke="#262626" stroke-width="1.3"/>
<path d="M44.11 0.55H332.65" stroke="#7a7a7a" stroke-width="1.5"/>
<path d="M44.76 288.1v3.5M44.76 288.1h-3.5M69.64 288.1v2.0M44.76 263.22h-2.0M84.19 288.1v2.0M44.76 248.67h-2.0M94.52 288.1v2.0M44.76 238.34h-2.0M102.53 288.1v2.0M44.76 230.33h-2.0M109.07 288.1v2.0M44.76 223.79h-2.0M114.6 288.1v2.0M44.76 218.26h-2.0M119.4 288.1v2.0M44.76 213.46h-2.0M123.62 288.1v2.0M44.76 209.24h-2.0M127.41 288.1v3.5M44.76 205.45h-3.5M152.28 288.1v2.0M44.76 180.58h-2.0M166.84 288.1v2.0M44.76 166.02h-2.0M177.16 288.1v2.0M44.76 155.7h-2.0M185.17 288.1v2.0M44.76 147.69h-2.0M191.72 288.1v2.0M44.76 141.14h-2.0M197.25 288.1v2.0M44.76 135.61h-2.0M202.04 288.1v2.0M44.76 130.82h-2.0M206.27 288.1v2.0M44.76 126.59h-2.0M210.05 288.1v3.5M44.76 122.81h-3.5M234.93 288.1v2.0M44.76 97.93h-2.0M249.48 288.1v2.0M44.76 83.38h-2.0M259.81 288.1v2.0M44.76 73.05h-2.0M267.82 288.1v2.0M44.76 65.04h-2.0M274.36 288.1v2.0M44.76 58.5h-2.0M279.9 288.1v2.0M44.76 52.96h-2.0M284.69 288.1v2.0M44.76 48.17h-2.0M288.92 288.1v2.0M44.76 43.94h-2.0M292.7 288.1v3.5M44.76 40.16h-3.5M317.58 288.1v2.0M44.76 15.28h-2.0M332.13 288.1v2.0M44.76 0.73h-2.0" stroke="#262626" stroke-width="1" fill="none"/>
<text x="42.96" y="303.7" font-size="10.8" text-anchor="middle" fill="#1a1a1a">10<tspan font-size="7.7" dx="1.1" dy="-3.9">−1</tspan></text>
<text x="33.26" y="291.7" font-size="10.8" text-anchor="end" fill="#1a1a1a">10<tspan font-size="7.7" dx="1.3" dy="-4.1">−1</tspan></text>
<text x="126.61" y="303.7" font-size="10.8" text-anchor="middle" fill="#1a1a1a">10<tspan font-size="7.7" dx="1.1" dy="-3.9">0</tspan></text>
<text x="35.76" y="209.05" font-size="10.8" text-anchor="end" fill="#1a1a1a">10<tspan font-size="7.7" dx="1.3" dy="-4.1">0</tspan></text>
<text x="209.25" y="303.7" font-size="10.8" text-anchor="middle" fill="#1a1a1a">10<tspan font-size="7.7" dx="1.1" dy="-3.9">1</tspan></text>
<text x="35.76" y="126.41" font-size="10.8" text-anchor="end" fill="#1a1a1a">10<tspan font-size="7.7" dx="1.3" dy="-4.1">1</tspan></text>
<text x="291.9" y="303.7" font-size="10.8" text-anchor="middle" fill="#1a1a1a">10<tspan font-size="7.7" dx="1.1" dy="-3.9">2</tspan></text>
<text x="35.76" y="43.76" font-size="10.8" text-anchor="end" fill="#1a1a1a">10<tspan font-size="7.7" dx="1.3" dy="-4.1">2</tspan></text>
<g clip-path="url(#clipb)">
<line x1="380.4" y1="205.72" x2="750.36" y2="-164.24" stroke="#a9a9a9" stroke-width="1.1" stroke-dasharray="5.4 3"/>
<line x1="380.4" y1="238.6" x2="750.36" y2="-131.36" stroke="#a9a9a9" stroke-width="1.1" stroke-dasharray="5.4 3"/>
<line x1="380.4" y1="263.47" x2="750.36" y2="-106.48" stroke="#a9a9a9" stroke-width="1.1" stroke-dasharray="5.4 3"/>
<line x1="380.4" y1="288.35" x2="750.36" y2="-81.61" stroke="#000" stroke-width="1.5" stroke-dasharray="5.6 2.7"/>
<line x1="380.4" y1="313.23" x2="750.36" y2="-56.73" stroke="#a9a9a9" stroke-width="1.1" stroke-dasharray="5.4 3"/>
<line x1="380.4" y1="338.1" x2="750.36" y2="-31.86" stroke="#a9a9a9" stroke-width="1.1" stroke-dasharray="5.4 3"/>
<line x1="380.4" y1="370.98" x2="750.36" y2="1.02" stroke="#a9a9a9" stroke-width="1.1" stroke-dasharray="5.4 3"/>
<path fill="#390a5f" d="M540.2 217.3h3.5v3.5h-3.5z"/>
<path fill="#420a68" d="M539.0 165.2h3.5v3.5h-3.5zM532.2 195.8h3.5v3.5h-3.5z"/>
<path fill="#4a0d69" d="M540.2 149.2h3.5v3.5h-3.5zM547.6 143.2h3.5v3.5h-3.5zM527.5 191.4h3.5v3.5h-3.5zM524.4 205.2h3.5v3.5h-3.5z"/>
<path fill="#520f6a" d="M529.2 149.2h3.5v3.5h-3.5zM539.0 197.8h3.5v3.5h-3.5zM547.6 206.8h3.5v3.5h-3.5z"/>
<path fill="#5a126c" d="M544.0 156.2h3.5v3.5h-3.5zM542.8 171.3h3.5v3.5h-3.5zM544.0 205.7h3.5v3.5h-3.5zM550.0 222.8h3.5v3.5h-3.5z"/>
<path fill="#62146d" d="M561.1 89.2h3.5v3.5h-3.5zM547.1 117.5h3.5v3.5h-3.5zM547.6 177.4h3.5v3.5h-3.5zM536.6 205.7h3.5v3.5h-3.5z"/>
<path fill="#6a176e" d="M550.0 180.7h3.5v3.5h-3.5zM550.0 232.1h3.5v3.5h-3.5z"/>
<path fill="#721a6d" d="M562.2 173.8h3.5v3.5h-3.5zM566.3 171.6h3.5v3.5h-3.5zM555.8 165.4h3.5v3.5h-3.5zM560.3 152.9h3.5v3.5h-3.5zM556.0 103.2h3.5v3.5h-3.5zM563.7 172.2h3.5v3.5h-3.5zM559.9 110.0h3.5v3.5h-3.5zM551.2 160.2h3.5v3.5h-3.5zM557.5 236.2h3.5v3.5h-3.5zM561.9 238.7h3.5v3.5h-3.5zM577.0 225.2h3.5v3.5h-3.5z"/>
<path fill="#7a1d6b" d="M563.8 131.4h3.5v3.5h-3.5zM560.2 167.4h3.5v3.5h-3.5zM555.5 170.0h3.5v3.5h-3.5zM558.9 155.8h3.5v3.5h-3.5zM562.8 127.5h3.5v3.5h-3.5zM562.0 224.6h3.5v3.5h-3.5zM554.5 99.0h3.5v3.5h-3.5zM550.0 119.3h3.5v3.5h-3.5zM544.0 189.7h3.5v3.5h-3.5zM550.5 209.2h3.5v3.5h-3.5zM562.4 223.9h3.5v3.5h-3.5zM563.5 227.7h3.5v3.5h-3.5z"/>
<path fill="#83206a" d="M558.1 160.0h3.5v3.5h-3.5zM563.8 136.2h3.5v3.5h-3.5zM562.4 142.5h3.5v3.5h-3.5zM571.4 167.6h3.5v3.5h-3.5zM561.7 136.7h3.5v3.5h-3.5zM556.3 154.2h3.5v3.5h-3.5zM557.6 118.5h3.5v3.5h-3.5zM556.4 167.2h3.5v3.5h-3.5zM563.0 154.5h3.5v3.5h-3.5zM559.2 173.3h3.5v3.5h-3.5zM565.7 204.3h3.5v3.5h-3.5zM559.3 131.0h3.5v3.5h-3.5zM555.0 193.3h3.5v3.5h-3.5zM571.0 239.8h3.5v3.5h-3.5z"/>
<path fill="#8b2368" d="M562.5 137.6h3.5v3.5h-3.5zM560.2 190.6h3.5v3.5h-3.5zM568.6 164.7h3.5v3.5h-3.5zM562.8 124.7h3.5v3.5h-3.5zM561.4 174.5h3.5v3.5h-3.5zM561.8 170.2h3.5v3.5h-3.5zM558.4 181.5h3.5v3.5h-3.5zM557.3 149.0h3.5v3.5h-3.5zM559.6 158.2h3.5v3.5h-3.5zM567.0 144.3h3.5v3.5h-3.5zM567.9 190.2h3.5v3.5h-3.5zM565.8 136.2h3.5v3.5h-3.5zM569.5 160.4h3.5v3.5h-3.5zM565.4 170.2h3.5v3.5h-3.5zM558.9 183.8h3.5v3.5h-3.5zM562.3 177.4h3.5v3.5h-3.5zM559.8 169.9h3.5v3.5h-3.5zM558.9 120.4h3.5v3.5h-3.5zM558.1 173.7h3.5v3.5h-3.5zM566.5 141.2h3.5v3.5h-3.5zM571.0 226.4h3.5v3.5h-3.5z"/>
<path fill="#932667" d="M571.2 222.1h3.5v3.5h-3.5zM558.7 201.1h3.5v3.5h-3.5zM566.6 175.2h3.5v3.5h-3.5zM563.2 206.9h3.5v3.5h-3.5zM560.8 155.7h3.5v3.5h-3.5zM569.2 236.2h3.5v3.5h-3.5zM555.8 168.1h3.5v3.5h-3.5zM565.1 185.8h3.5v3.5h-3.5zM560.2 190.8h3.5v3.5h-3.5zM563.7 111.8h3.5v3.5h-3.5zM562.6 232.3h3.5v3.5h-3.5zM557.6 138.1h3.5v3.5h-3.5zM558.4 162.5h3.5v3.5h-3.5zM564.5 188.4h3.5v3.5h-3.5zM565.8 174.8h3.5v3.5h-3.5zM561.7 165.8h3.5v3.5h-3.5zM565.2 153.7h3.5v3.5h-3.5zM564.4 182.1h3.5v3.5h-3.5zM563.9 200.0h3.5v3.5h-3.5zM568.7 179.8h3.5v3.5h-3.5zM570.0 224.8h3.5v3.5h-3.5zM563.0 187.4h3.5v3.5h-3.5zM561.2 144.2h3.5v3.5h-3.5zM561.1 189.1h3.5v3.5h-3.5zM563.8 154.9h3.5v3.5h-3.5zM566.6 175.3h3.5v3.5h-3.5zM567.4 122.2h3.5v3.5h-3.5zM561.0 170.5h3.5v3.5h-3.5zM564.4 197.0h3.5v3.5h-3.5zM562.7 147.2h3.5v3.5h-3.5zM565.5 162.5h3.5v3.5h-3.5zM568.4 184.5h3.5v3.5h-3.5zM565.1 169.5h3.5v3.5h-3.5zM569.1 124.3h3.5v3.5h-3.5zM555.9 167.3h3.5v3.5h-3.5zM556.2 123.5h3.5v3.5h-3.5zM601.2 195.2h3.5v3.5h-3.5z"/>
<path fill="#9b2963" d="M576.1 166.5h3.5v3.5h-3.5zM572.2 170.1h3.5v3.5h-3.5zM578.7 197.4h3.5v3.5h-3.5zM565.6 173.4h3.5v3.5h-3.5zM566.9 194.7h3.5v3.5h-3.5zM566.8 144.3h3.5v3.5h-3.5zM566.4 131.7h3.5v3.5h-3.5zM571.1 174.8h3.5v3.5h-3.5zM559.5 201.3h3.5v3.5h-3.5zM563.1 150.3h3.5v3.5h-3.5zM565.3 160.4h3.5v3.5h-3.5zM570.9 185.7h3.5v3.5h-3.5zM568.3 110.7h3.5v3.5h-3.5zM565.0 134.8h3.5v3.5h-3.5zM571.1 187.6h3.5v3.5h-3.5zM569.0 218.3h3.5v3.5h-3.5zM561.3 209.0h3.5v3.5h-3.5zM563.8 227.3h3.5v3.5h-3.5zM563.8 217.7h3.5v3.5h-3.5zM560.3 193.8h3.5v3.5h-3.5zM570.1 171.2h3.5v3.5h-3.5zM565.9 216.2h3.5v3.5h-3.5zM557.6 206.0h3.5v3.5h-3.5zM572.1 133.3h3.5v3.5h-3.5zM562.6 193.2h3.5v3.5h-3.5zM560.3 182.7h3.5v3.5h-3.5zM567.3 133.5h3.5v3.5h-3.5zM560.3 153.5h3.5v3.5h-3.5zM560.5 176.1h3.5v3.5h-3.5zM562.1 169.2h3.5v3.5h-3.5zM563.5 152.0h3.5v3.5h-3.5zM556.4 236.2h3.5v3.5h-3.5zM565.3 133.2h3.5v3.5h-3.5zM562.7 160.4h3.5v3.5h-3.5zM562.5 175.7h3.5v3.5h-3.5zM566.5 146.3h3.5v3.5h-3.5zM563.8 200.8h3.5v3.5h-3.5zM569.3 162.1h3.5v3.5h-3.5zM564.2 223.5h3.5v3.5h-3.5zM557.2 162.3h3.5v3.5h-3.5zM567.9 162.5h3.5v3.5h-3.5zM568.2 167.3h3.5v3.5h-3.5zM569.0 192.3h3.5v3.5h-3.5zM566.0 189.7h3.5v3.5h-3.5zM558.6 226.7h3.5v3.5h-3.5z"/>
<path fill="#a32d5f" d="M578.7 219.3h3.5v3.5h-3.5zM576.5 131.7h3.5v3.5h-3.5zM576.5 176.4h3.5v3.5h-3.5zM579.6 184.0h3.5v3.5h-3.5zM582.4 150.1h3.5v3.5h-3.5zM572.6 179.8h3.5v3.5h-3.5zM574.3 179.9h3.5v3.5h-3.5zM577.9 119.1h3.5v3.5h-3.5zM580.3 156.8h3.5v3.5h-3.5zM567.7 151.6h3.5v3.5h-3.5zM566.8 181.8h3.5v3.5h-3.5zM563.0 185.9h3.5v3.5h-3.5zM565.1 236.2h3.5v3.5h-3.5zM565.8 167.8h3.5v3.5h-3.5zM567.3 159.2h3.5v3.5h-3.5zM564.3 179.5h3.5v3.5h-3.5zM567.5 182.4h3.5v3.5h-3.5zM570.7 179.3h3.5v3.5h-3.5zM562.8 180.5h3.5v3.5h-3.5zM565.7 207.3h3.5v3.5h-3.5zM570.3 129.1h3.5v3.5h-3.5zM564.7 175.0h3.5v3.5h-3.5zM571.7 164.4h3.5v3.5h-3.5zM571.8 180.7h3.5v3.5h-3.5zM568.5 162.9h3.5v3.5h-3.5zM566.0 148.6h3.5v3.5h-3.5zM566.4 148.5h3.5v3.5h-3.5zM562.1 236.2h3.5v3.5h-3.5zM568.0 130.1h3.5v3.5h-3.5zM563.7 166.6h3.5v3.5h-3.5zM570.5 113.7h3.5v3.5h-3.5zM564.8 194.4h3.5v3.5h-3.5zM565.3 177.1h3.5v3.5h-3.5zM566.0 144.2h3.5v3.5h-3.5zM563.6 183.7h3.5v3.5h-3.5zM560.6 179.5h3.5v3.5h-3.5zM570.5 140.9h3.5v3.5h-3.5zM567.6 212.6h3.5v3.5h-3.5zM560.7 150.8h3.5v3.5h-3.5zM564.7 103.2h3.5v3.5h-3.5zM568.2 197.2h3.5v3.5h-3.5zM567.4 134.4h3.5v3.5h-3.5z"/>
<path fill="#ac305c" d="M579.6 167.8h3.5v3.5h-3.5zM572.3 197.1h3.5v3.5h-3.5zM579.1 197.1h3.5v3.5h-3.5zM576.4 179.9h3.5v3.5h-3.5zM582.3 140.3h3.5v3.5h-3.5zM579.2 174.5h3.5v3.5h-3.5zM580.4 158.2h3.5v3.5h-3.5zM572.0 152.2h3.5v3.5h-3.5zM577.8 191.7h3.5v3.5h-3.5zM575.7 156.7h3.5v3.5h-3.5zM577.0 209.8h3.5v3.5h-3.5zM571.7 149.5h3.5v3.5h-3.5zM577.7 168.4h3.5v3.5h-3.5zM576.5 152.9h3.5v3.5h-3.5zM578.9 159.8h3.5v3.5h-3.5zM571.2 140.0h3.5v3.5h-3.5zM579.3 163.9h3.5v3.5h-3.5zM572.9 127.5h3.5v3.5h-3.5zM579.8 184.8h3.5v3.5h-3.5zM577.0 146.7h3.5v3.5h-3.5zM579.1 156.5h3.5v3.5h-3.5zM574.7 175.7h3.5v3.5h-3.5zM584.3 130.0h3.5v3.5h-3.5zM575.0 121.8h3.5v3.5h-3.5zM574.4 144.6h3.5v3.5h-3.5zM576.3 134.3h3.5v3.5h-3.5zM577.8 182.7h3.5v3.5h-3.5zM581.9 152.9h3.5v3.5h-3.5zM571.9 161.2h3.5v3.5h-3.5zM582.1 174.7h3.5v3.5h-3.5zM573.0 146.1h3.5v3.5h-3.5zM575.8 133.7h3.5v3.5h-3.5zM577.0 135.4h3.5v3.5h-3.5zM577.1 153.8h3.5v3.5h-3.5zM575.0 186.7h3.5v3.5h-3.5zM581.8 189.1h3.5v3.5h-3.5zM571.4 135.7h3.5v3.5h-3.5zM566.6 193.8h3.5v3.5h-3.5zM568.3 220.3h3.5v3.5h-3.5zM571.0 125.3h3.5v3.5h-3.5zM567.2 223.9h3.5v3.5h-3.5zM570.2 181.2h3.5v3.5h-3.5zM567.2 200.7h3.5v3.5h-3.5zM564.8 155.6h3.5v3.5h-3.5zM566.3 203.2h3.5v3.5h-3.5zM563.9 163.4h3.5v3.5h-3.5zM567.9 107.8h3.5v3.5h-3.5zM569.6 150.7h3.5v3.5h-3.5zM564.0 184.2h3.5v3.5h-3.5zM564.0 166.0h3.5v3.5h-3.5zM569.5 168.6h3.5v3.5h-3.5zM568.3 119.9h3.5v3.5h-3.5zM561.0 153.1h3.5v3.5h-3.5zM565.5 132.3h3.5v3.5h-3.5zM569.2 200.0h3.5v3.5h-3.5zM568.8 212.8h3.5v3.5h-3.5zM569.1 130.2h3.5v3.5h-3.5zM565.6 133.1h3.5v3.5h-3.5zM566.0 139.2h3.5v3.5h-3.5zM564.2 202.0h3.5v3.5h-3.5zM567.0 143.1h3.5v3.5h-3.5zM561.9 103.2h3.5v3.5h-3.5zM567.6 177.4h3.5v3.5h-3.5zM570.5 202.1h3.5v3.5h-3.5zM569.4 171.0h3.5v3.5h-3.5zM569.7 153.4h3.5v3.5h-3.5zM562.4 219.3h3.5v3.5h-3.5zM569.1 232.7h3.5v3.5h-3.5zM562.1 133.1h3.5v3.5h-3.5zM568.1 179.1h3.5v3.5h-3.5zM570.7 144.4h3.5v3.5h-3.5zM572.0 178.7h3.5v3.5h-3.5zM571.5 178.4h3.5v3.5h-3.5zM570.1 145.3h3.5v3.5h-3.5zM562.8 112.6h3.5v3.5h-3.5z"/>
<path fill="#b43458" d="M583.1 164.7h3.5v3.5h-3.5zM576.8 152.8h3.5v3.5h-3.5zM580.0 137.4h3.5v3.5h-3.5zM573.9 163.1h3.5v3.5h-3.5zM573.3 189.7h3.5v3.5h-3.5zM574.5 169.4h3.5v3.5h-3.5zM577.7 154.7h3.5v3.5h-3.5zM581.2 161.4h3.5v3.5h-3.5zM579.2 126.8h3.5v3.5h-3.5zM574.5 214.2h3.5v3.5h-3.5zM577.4 118.8h3.5v3.5h-3.5zM574.6 164.7h3.5v3.5h-3.5zM574.0 156.4h3.5v3.5h-3.5zM576.3 200.8h3.5v3.5h-3.5zM570.7 157.0h3.5v3.5h-3.5zM573.1 102.3h3.5v3.5h-3.5zM579.1 96.2h3.5v3.5h-3.5zM574.0 135.2h3.5v3.5h-3.5zM581.0 139.4h3.5v3.5h-3.5zM583.7 154.6h3.5v3.5h-3.5zM577.4 182.0h3.5v3.5h-3.5zM574.3 183.7h3.5v3.5h-3.5zM575.9 213.4h3.5v3.5h-3.5zM575.5 146.1h3.5v3.5h-3.5zM577.1 150.3h3.5v3.5h-3.5zM583.8 165.7h3.5v3.5h-3.5zM570.9 173.5h3.5v3.5h-3.5zM575.5 158.0h3.5v3.5h-3.5zM575.1 124.3h3.5v3.5h-3.5zM577.0 176.0h3.5v3.5h-3.5zM573.6 169.8h3.5v3.5h-3.5zM577.4 158.9h3.5v3.5h-3.5zM572.1 147.5h3.5v3.5h-3.5zM576.7 176.2h3.5v3.5h-3.5zM575.3 151.1h3.5v3.5h-3.5zM576.6 209.6h3.5v3.5h-3.5zM574.0 117.3h3.5v3.5h-3.5zM578.0 166.6h3.5v3.5h-3.5zM575.7 144.4h3.5v3.5h-3.5zM572.3 185.9h3.5v3.5h-3.5zM576.9 153.3h3.5v3.5h-3.5zM577.9 185.2h3.5v3.5h-3.5zM577.3 151.4h3.5v3.5h-3.5zM578.5 107.8h3.5v3.5h-3.5zM579.5 180.2h3.5v3.5h-3.5zM576.1 156.1h3.5v3.5h-3.5zM575.9 121.8h3.5v3.5h-3.5zM582.9 126.0h3.5v3.5h-3.5zM578.6 191.3h3.5v3.5h-3.5zM578.0 172.2h3.5v3.5h-3.5zM582.7 188.8h3.5v3.5h-3.5zM581.0 130.6h3.5v3.5h-3.5zM575.0 178.9h3.5v3.5h-3.5zM580.3 152.0h3.5v3.5h-3.5zM572.8 180.4h3.5v3.5h-3.5zM572.8 150.0h3.5v3.5h-3.5zM577.6 182.4h3.5v3.5h-3.5zM575.4 132.7h3.5v3.5h-3.5zM581.7 202.2h3.5v3.5h-3.5zM579.5 164.0h3.5v3.5h-3.5zM581.3 177.0h3.5v3.5h-3.5zM580.4 167.8h3.5v3.5h-3.5zM577.0 140.2h3.5v3.5h-3.5zM578.3 134.0h3.5v3.5h-3.5zM571.4 162.5h3.5v3.5h-3.5zM580.2 162.5h3.5v3.5h-3.5zM572.1 195.4h3.5v3.5h-3.5zM578.7 178.1h3.5v3.5h-3.5zM578.7 183.4h3.5v3.5h-3.5zM573.8 161.4h3.5v3.5h-3.5zM572.4 167.1h3.5v3.5h-3.5zM579.5 145.9h3.5v3.5h-3.5zM579.8 156.0h3.5v3.5h-3.5zM582.1 128.9h3.5v3.5h-3.5zM580.1 181.7h3.5v3.5h-3.5zM582.6 194.9h3.5v3.5h-3.5zM571.5 153.0h3.5v3.5h-3.5zM577.3 136.9h3.5v3.5h-3.5zM577.7 147.2h3.5v3.5h-3.5zM573.3 161.7h3.5v3.5h-3.5zM568.8 167.6h3.5v3.5h-3.5zM566.3 163.9h3.5v3.5h-3.5zM563.7 182.1h3.5v3.5h-3.5zM569.3 149.2h3.5v3.5h-3.5zM562.5 134.9h3.5v3.5h-3.5zM569.8 198.5h3.5v3.5h-3.5zM565.6 203.9h3.5v3.5h-3.5zM570.2 201.7h3.5v3.5h-3.5zM564.0 179.7h3.5v3.5h-3.5zM567.7 188.2h3.5v3.5h-3.5zM565.9 205.9h3.5v3.5h-3.5zM567.4 137.3h3.5v3.5h-3.5zM566.8 140.4h3.5v3.5h-3.5zM561.9 103.2h3.5v3.5h-3.5zM568.6 200.3h3.5v3.5h-3.5zM561.6 159.9h3.5v3.5h-3.5zM562.6 172.8h3.5v3.5h-3.5z"/>
<path fill="#bc3754" d="M577.9 186.5h3.5v3.5h-3.5zM574.8 127.3h3.5v3.5h-3.5zM579.0 153.8h3.5v3.5h-3.5zM571.8 149.8h3.5v3.5h-3.5zM575.9 190.6h3.5v3.5h-3.5zM580.2 174.9h3.5v3.5h-3.5zM578.6 182.6h3.5v3.5h-3.5zM576.4 169.1h3.5v3.5h-3.5zM571.9 158.9h3.5v3.5h-3.5zM574.0 137.9h3.5v3.5h-3.5zM575.8 182.7h3.5v3.5h-3.5zM582.4 114.5h3.5v3.5h-3.5zM574.1 153.1h3.5v3.5h-3.5zM579.2 169.1h3.5v3.5h-3.5zM582.9 178.2h3.5v3.5h-3.5zM573.8 203.0h3.5v3.5h-3.5zM584.6 185.6h3.5v3.5h-3.5zM579.1 170.9h3.5v3.5h-3.5zM576.4 135.4h3.5v3.5h-3.5zM577.2 157.8h3.5v3.5h-3.5zM574.7 151.4h3.5v3.5h-3.5zM580.0 180.9h3.5v3.5h-3.5zM575.5 147.0h3.5v3.5h-3.5zM579.0 108.6h3.5v3.5h-3.5zM583.0 206.8h3.5v3.5h-3.5zM585.6 177.2h3.5v3.5h-3.5zM576.2 161.1h3.5v3.5h-3.5zM576.7 151.9h3.5v3.5h-3.5zM582.7 162.6h3.5v3.5h-3.5zM571.7 150.2h3.5v3.5h-3.5zM576.8 192.8h3.5v3.5h-3.5zM584.1 173.4h3.5v3.5h-3.5zM578.4 178.8h3.5v3.5h-3.5zM585.0 129.3h3.5v3.5h-3.5zM578.7 197.5h3.5v3.5h-3.5zM574.0 127.0h3.5v3.5h-3.5zM577.9 172.4h3.5v3.5h-3.5zM578.0 163.9h3.5v3.5h-3.5zM580.8 137.8h3.5v3.5h-3.5zM573.7 135.1h3.5v3.5h-3.5zM583.8 167.0h3.5v3.5h-3.5zM579.5 145.0h3.5v3.5h-3.5zM578.7 182.0h3.5v3.5h-3.5zM582.7 181.5h3.5v3.5h-3.5zM586.6 148.0h3.5v3.5h-3.5zM588.0 157.7h3.5v3.5h-3.5zM580.2 193.8h3.5v3.5h-3.5zM579.3 219.3h3.5v3.5h-3.5zM572.6 131.7h3.5v3.5h-3.5zM577.3 144.8h3.5v3.5h-3.5zM577.2 151.1h3.5v3.5h-3.5zM578.4 227.6h3.5v3.5h-3.5zM584.6 149.8h3.5v3.5h-3.5zM579.8 150.9h3.5v3.5h-3.5zM580.2 114.1h3.5v3.5h-3.5zM578.9 154.2h3.5v3.5h-3.5zM578.4 183.5h3.5v3.5h-3.5zM584.1 158.0h3.5v3.5h-3.5zM577.2 218.4h3.5v3.5h-3.5zM573.9 142.0h3.5v3.5h-3.5zM578.4 148.7h3.5v3.5h-3.5zM585.5 203.2h3.5v3.5h-3.5zM584.3 105.2h3.5v3.5h-3.5zM588.1 147.1h3.5v3.5h-3.5zM584.5 131.9h3.5v3.5h-3.5zM583.0 194.9h3.5v3.5h-3.5zM580.2 157.8h3.5v3.5h-3.5zM580.1 162.2h3.5v3.5h-3.5zM579.0 191.8h3.5v3.5h-3.5zM576.8 177.7h3.5v3.5h-3.5zM576.4 182.0h3.5v3.5h-3.5zM582.4 102.2h3.5v3.5h-3.5zM581.3 144.7h3.5v3.5h-3.5zM575.8 145.4h3.5v3.5h-3.5zM572.0 194.4h3.5v3.5h-3.5zM576.7 147.0h3.5v3.5h-3.5zM580.2 97.9h3.5v3.5h-3.5zM576.4 139.5h3.5v3.5h-3.5zM579.2 140.3h3.5v3.5h-3.5zM575.6 194.2h3.5v3.5h-3.5zM579.6 132.2h3.5v3.5h-3.5zM583.6 160.2h3.5v3.5h-3.5zM574.7 194.2h3.5v3.5h-3.5zM581.7 155.9h3.5v3.5h-3.5zM572.8 134.2h3.5v3.5h-3.5zM576.1 141.6h3.5v3.5h-3.5zM575.0 152.1h3.5v3.5h-3.5zM573.5 177.7h3.5v3.5h-3.5zM582.9 154.1h3.5v3.5h-3.5zM585.5 164.6h3.5v3.5h-3.5zM578.7 151.9h3.5v3.5h-3.5zM581.9 133.8h3.5v3.5h-3.5zM584.9 208.5h3.5v3.5h-3.5zM585.2 183.4h3.5v3.5h-3.5zM574.7 127.3h3.5v3.5h-3.5zM574.6 165.8h3.5v3.5h-3.5zM583.6 196.0h3.5v3.5h-3.5zM589.5 133.4h3.5v3.5h-3.5zM583.5 144.9h3.5v3.5h-3.5zM575.0 177.3h3.5v3.5h-3.5zM577.0 184.5h3.5v3.5h-3.5zM581.9 133.4h3.5v3.5h-3.5zM576.1 174.7h3.5v3.5h-3.5zM576.9 189.0h3.5v3.5h-3.5zM578.9 167.8h3.5v3.5h-3.5zM581.0 180.5h3.5v3.5h-3.5zM581.7 182.3h3.5v3.5h-3.5zM578.9 163.6h3.5v3.5h-3.5zM577.4 121.1h3.5v3.5h-3.5zM588.9 178.0h3.5v3.5h-3.5zM575.4 109.5h3.5v3.5h-3.5zM577.4 183.6h3.5v3.5h-3.5zM573.4 218.9h3.5v3.5h-3.5zM571.6 183.4h3.5v3.5h-3.5zM579.8 225.0h3.5v3.5h-3.5zM574.9 159.5h3.5v3.5h-3.5zM578.1 135.9h3.5v3.5h-3.5zM587.4 185.3h3.5v3.5h-3.5zM582.2 162.2h3.5v3.5h-3.5zM577.1 126.2h3.5v3.5h-3.5zM583.6 151.6h3.5v3.5h-3.5zM575.6 171.0h3.5v3.5h-3.5zM571.2 149.7h3.5v3.5h-3.5zM573.7 172.9h3.5v3.5h-3.5zM581.3 188.7h3.5v3.5h-3.5zM577.6 166.5h3.5v3.5h-3.5zM578.1 86.3h3.5v3.5h-3.5zM584.3 141.8h3.5v3.5h-3.5zM578.6 94.1h3.5v3.5h-3.5zM580.4 156.7h3.5v3.5h-3.5zM585.5 187.4h3.5v3.5h-3.5zM573.9 139.9h3.5v3.5h-3.5zM575.3 147.6h3.5v3.5h-3.5zM574.2 134.6h3.5v3.5h-3.5zM584.9 127.5h3.5v3.5h-3.5zM576.1 139.8h3.5v3.5h-3.5zM579.4 163.5h3.5v3.5h-3.5zM575.2 149.4h3.5v3.5h-3.5zM582.6 78.3h3.5v3.5h-3.5zM571.7 187.2h3.5v3.5h-3.5zM582.9 168.0h3.5v3.5h-3.5zM577.9 156.2h3.5v3.5h-3.5zM572.1 162.4h3.5v3.5h-3.5zM576.2 212.0h3.5v3.5h-3.5zM576.7 187.6h3.5v3.5h-3.5zM583.4 135.7h3.5v3.5h-3.5zM581.7 133.2h3.5v3.5h-3.5zM574.5 134.1h3.5v3.5h-3.5zM574.4 151.4h3.5v3.5h-3.5zM587.4 159.7h3.5v3.5h-3.5zM585.9 177.5h3.5v3.5h-3.5zM579.9 173.5h3.5v3.5h-3.5zM574.5 147.8h3.5v3.5h-3.5zM573.8 159.2h3.5v3.5h-3.5zM586.1 165.5h3.5v3.5h-3.5zM583.6 170.2h3.5v3.5h-3.5zM579.0 184.4h3.5v3.5h-3.5zM573.6 151.9h3.5v3.5h-3.5zM584.0 117.5h3.5v3.5h-3.5zM578.8 195.1h3.5v3.5h-3.5zM579.3 193.7h3.5v3.5h-3.5zM584.3 136.7h3.5v3.5h-3.5zM586.8 158.6h3.5v3.5h-3.5zM579.2 167.9h3.5v3.5h-3.5zM582.3 170.8h3.5v3.5h-3.5zM584.1 161.8h3.5v3.5h-3.5zM572.1 192.8h3.5v3.5h-3.5zM578.2 216.6h3.5v3.5h-3.5zM577.7 200.2h3.5v3.5h-3.5zM579.6 115.7h3.5v3.5h-3.5zM579.4 151.1h3.5v3.5h-3.5zM579.5 190.6h3.5v3.5h-3.5zM586.4 164.3h3.5v3.5h-3.5zM584.1 187.3h3.5v3.5h-3.5zM572.6 145.6h3.5v3.5h-3.5zM575.4 131.2h3.5v3.5h-3.5zM584.6 177.0h3.5v3.5h-3.5zM582.6 219.4h3.5v3.5h-3.5zM575.9 158.9h3.5v3.5h-3.5zM577.5 151.7h3.5v3.5h-3.5zM581.6 170.3h3.5v3.5h-3.5zM583.3 111.1h3.5v3.5h-3.5zM573.7 164.5h3.5v3.5h-3.5zM579.4 161.4h3.5v3.5h-3.5zM574.6 163.6h3.5v3.5h-3.5zM574.8 155.4h3.5v3.5h-3.5zM578.7 203.9h3.5v3.5h-3.5zM580.6 161.7h3.5v3.5h-3.5zM581.4 189.6h3.5v3.5h-3.5zM581.1 166.4h3.5v3.5h-3.5zM577.7 170.8h3.5v3.5h-3.5zM578.2 149.3h3.5v3.5h-3.5zM582.0 166.8h3.5v3.5h-3.5zM577.2 139.8h3.5v3.5h-3.5zM575.9 189.9h3.5v3.5h-3.5zM584.8 153.5h3.5v3.5h-3.5zM576.3 146.0h3.5v3.5h-3.5zM581.1 186.3h3.5v3.5h-3.5zM577.5 148.8h3.5v3.5h-3.5zM577.9 147.5h3.5v3.5h-3.5zM580.3 157.4h3.5v3.5h-3.5zM578.4 212.4h3.5v3.5h-3.5zM572.2 119.3h3.5v3.5h-3.5zM569.4 154.1h3.5v3.5h-3.5zM566.5 187.8h3.5v3.5h-3.5zM567.6 172.4h3.5v3.5h-3.5zM563.8 178.1h3.5v3.5h-3.5zM566.7 121.0h3.5v3.5h-3.5zM570.7 177.1h3.5v3.5h-3.5zM569.2 180.3h3.5v3.5h-3.5zM567.6 197.4h3.5v3.5h-3.5zM570.1 119.8h3.5v3.5h-3.5zM570.9 208.6h3.5v3.5h-3.5z"/>
<path fill="#c33c4f" d="M579.3 189.8h3.5v3.5h-3.5zM579.1 216.3h3.5v3.5h-3.5zM581.6 218.7h3.5v3.5h-3.5zM585.3 136.4h3.5v3.5h-3.5zM577.5 150.5h3.5v3.5h-3.5zM582.5 149.8h3.5v3.5h-3.5zM578.1 180.3h3.5v3.5h-3.5zM587.9 175.4h3.5v3.5h-3.5zM575.4 130.5h3.5v3.5h-3.5zM579.7 110.7h3.5v3.5h-3.5zM578.8 170.2h3.5v3.5h-3.5zM586.9 132.4h3.5v3.5h-3.5zM584.2 115.0h3.5v3.5h-3.5zM585.9 164.9h3.5v3.5h-3.5zM570.7 198.9h3.5v3.5h-3.5zM572.9 119.0h3.5v3.5h-3.5zM582.4 165.4h3.5v3.5h-3.5zM572.9 139.8h3.5v3.5h-3.5zM588.8 117.2h3.5v3.5h-3.5zM574.6 136.7h3.5v3.5h-3.5zM576.8 174.6h3.5v3.5h-3.5zM577.9 171.8h3.5v3.5h-3.5zM580.7 147.9h3.5v3.5h-3.5zM579.4 191.2h3.5v3.5h-3.5zM581.1 173.2h3.5v3.5h-3.5zM575.0 177.2h3.5v3.5h-3.5zM579.6 161.6h3.5v3.5h-3.5zM583.0 138.0h3.5v3.5h-3.5zM577.9 185.6h3.5v3.5h-3.5zM582.7 153.0h3.5v3.5h-3.5zM580.7 170.9h3.5v3.5h-3.5zM577.6 156.7h3.5v3.5h-3.5zM579.5 147.0h3.5v3.5h-3.5zM577.8 129.7h3.5v3.5h-3.5zM582.2 185.5h3.5v3.5h-3.5zM577.0 95.0h3.5v3.5h-3.5zM577.6 153.6h3.5v3.5h-3.5zM571.7 162.3h3.5v3.5h-3.5zM577.0 196.5h3.5v3.5h-3.5zM577.2 190.9h3.5v3.5h-3.5zM572.2 158.6h3.5v3.5h-3.5zM582.9 199.5h3.5v3.5h-3.5zM579.1 176.6h3.5v3.5h-3.5zM579.1 161.7h3.5v3.5h-3.5zM577.4 175.1h3.5v3.5h-3.5zM585.8 176.3h3.5v3.5h-3.5zM583.6 161.4h3.5v3.5h-3.5zM584.8 128.6h3.5v3.5h-3.5zM585.1 138.2h3.5v3.5h-3.5zM577.4 154.2h3.5v3.5h-3.5zM581.3 155.7h3.5v3.5h-3.5zM581.9 170.6h3.5v3.5h-3.5zM576.5 136.9h3.5v3.5h-3.5zM585.8 153.8h3.5v3.5h-3.5zM572.3 129.8h3.5v3.5h-3.5zM579.4 100.8h3.5v3.5h-3.5zM581.8 144.7h3.5v3.5h-3.5zM583.8 165.8h3.5v3.5h-3.5zM578.0 127.6h3.5v3.5h-3.5zM585.1 142.7h3.5v3.5h-3.5zM584.8 149.0h3.5v3.5h-3.5zM572.9 164.7h3.5v3.5h-3.5zM577.9 133.3h3.5v3.5h-3.5zM574.8 170.6h3.5v3.5h-3.5zM573.2 154.8h3.5v3.5h-3.5zM579.7 185.2h3.5v3.5h-3.5zM579.9 164.9h3.5v3.5h-3.5zM575.5 154.2h3.5v3.5h-3.5zM587.5 146.5h3.5v3.5h-3.5zM580.4 179.5h3.5v3.5h-3.5zM575.4 188.2h3.5v3.5h-3.5zM587.4 161.8h3.5v3.5h-3.5zM582.0 110.1h3.5v3.5h-3.5zM576.7 159.6h3.5v3.5h-3.5zM584.7 164.9h3.5v3.5h-3.5zM581.0 192.2h3.5v3.5h-3.5zM582.9 158.1h3.5v3.5h-3.5zM580.5 129.4h3.5v3.5h-3.5zM573.7 114.2h3.5v3.5h-3.5zM580.1 155.5h3.5v3.5h-3.5zM576.6 175.7h3.5v3.5h-3.5zM588.7 155.7h3.5v3.5h-3.5zM579.4 162.1h3.5v3.5h-3.5zM579.6 208.4h3.5v3.5h-3.5zM577.5 134.9h3.5v3.5h-3.5zM580.4 198.7h3.5v3.5h-3.5zM576.1 102.9h3.5v3.5h-3.5zM577.5 157.9h3.5v3.5h-3.5zM574.5 167.1h3.5v3.5h-3.5zM583.2 143.7h3.5v3.5h-3.5zM574.6 143.2h3.5v3.5h-3.5zM577.2 172.4h3.5v3.5h-3.5zM577.2 173.6h3.5v3.5h-3.5zM588.8 171.2h3.5v3.5h-3.5zM579.3 212.8h3.5v3.5h-3.5zM581.7 228.1h3.5v3.5h-3.5zM577.5 173.9h3.5v3.5h-3.5zM575.2 155.7h3.5v3.5h-3.5zM580.0 123.3h3.5v3.5h-3.5zM577.6 162.9h3.5v3.5h-3.5zM579.4 164.0h3.5v3.5h-3.5zM580.9 198.0h3.5v3.5h-3.5zM584.9 138.6h3.5v3.5h-3.5zM575.4 157.6h3.5v3.5h-3.5zM576.3 209.3h3.5v3.5h-3.5zM589.0 148.1h3.5v3.5h-3.5zM580.8 190.7h3.5v3.5h-3.5zM578.9 106.8h3.5v3.5h-3.5zM582.0 206.9h3.5v3.5h-3.5zM579.3 180.6h3.5v3.5h-3.5zM582.3 129.8h3.5v3.5h-3.5zM585.2 152.9h3.5v3.5h-3.5zM575.2 120.3h3.5v3.5h-3.5zM575.4 93.6h3.5v3.5h-3.5zM586.8 175.4h3.5v3.5h-3.5zM582.6 137.9h3.5v3.5h-3.5zM581.3 167.7h3.5v3.5h-3.5zM572.7 167.0h3.5v3.5h-3.5zM577.0 159.3h3.5v3.5h-3.5zM579.5 178.8h3.5v3.5h-3.5zM585.1 179.1h3.5v3.5h-3.5zM574.8 166.3h3.5v3.5h-3.5zM577.4 138.0h3.5v3.5h-3.5zM581.0 154.6h3.5v3.5h-3.5zM580.5 82.5h3.5v3.5h-3.5zM578.9 158.2h3.5v3.5h-3.5zM576.3 129.6h3.5v3.5h-3.5zM579.9 187.2h3.5v3.5h-3.5zM574.8 182.1h3.5v3.5h-3.5zM579.1 157.0h3.5v3.5h-3.5zM580.1 170.4h3.5v3.5h-3.5zM578.8 118.1h3.5v3.5h-3.5zM581.4 184.1h3.5v3.5h-3.5zM583.5 184.0h3.5v3.5h-3.5zM582.4 156.2h3.5v3.5h-3.5zM581.0 149.2h3.5v3.5h-3.5zM584.2 165.2h3.5v3.5h-3.5zM572.4 148.9h3.5v3.5h-3.5zM577.4 139.1h3.5v3.5h-3.5zM589.3 156.6h3.5v3.5h-3.5zM576.0 107.9h3.5v3.5h-3.5zM583.0 198.3h3.5v3.5h-3.5zM579.7 119.6h3.5v3.5h-3.5zM584.4 170.3h3.5v3.5h-3.5zM585.4 178.2h3.5v3.5h-3.5zM580.2 175.2h3.5v3.5h-3.5zM581.1 176.5h3.5v3.5h-3.5zM578.6 146.4h3.5v3.5h-3.5zM573.1 210.2h3.5v3.5h-3.5zM580.3 162.8h3.5v3.5h-3.5zM580.8 144.5h3.5v3.5h-3.5zM580.8 202.4h3.5v3.5h-3.5zM580.5 182.4h3.5v3.5h-3.5zM576.7 113.4h3.5v3.5h-3.5zM588.4 181.3h3.5v3.5h-3.5zM571.9 167.5h3.5v3.5h-3.5zM574.3 166.1h3.5v3.5h-3.5zM583.9 149.6h3.5v3.5h-3.5zM576.8 144.1h3.5v3.5h-3.5zM580.8 127.4h3.5v3.5h-3.5zM582.9 201.4h3.5v3.5h-3.5zM587.1 203.3h3.5v3.5h-3.5zM577.1 156.2h3.5v3.5h-3.5zM575.2 187.5h3.5v3.5h-3.5zM583.7 176.7h3.5v3.5h-3.5zM584.9 130.8h3.5v3.5h-3.5zM581.4 199.2h3.5v3.5h-3.5zM578.5 169.2h3.5v3.5h-3.5zM576.6 167.0h3.5v3.5h-3.5zM580.4 200.4h3.5v3.5h-3.5zM583.5 154.6h3.5v3.5h-3.5zM581.4 160.6h3.5v3.5h-3.5zM575.9 191.6h3.5v3.5h-3.5zM577.6 112.3h3.5v3.5h-3.5zM582.2 126.2h3.5v3.5h-3.5zM582.2 168.9h3.5v3.5h-3.5zM574.6 180.9h3.5v3.5h-3.5zM582.6 200.7h3.5v3.5h-3.5zM572.8 195.5h3.5v3.5h-3.5zM581.6 191.2h3.5v3.5h-3.5zM583.8 130.9h3.5v3.5h-3.5zM578.9 210.4h3.5v3.5h-3.5zM571.7 167.7h3.5v3.5h-3.5zM583.5 142.6h3.5v3.5h-3.5zM583.9 148.2h3.5v3.5h-3.5zM577.3 207.8h3.5v3.5h-3.5zM573.0 170.5h3.5v3.5h-3.5zM573.9 193.1h3.5v3.5h-3.5zM574.3 137.8h3.5v3.5h-3.5zM582.3 174.2h3.5v3.5h-3.5zM579.6 142.8h3.5v3.5h-3.5zM573.3 136.6h3.5v3.5h-3.5zM582.2 107.2h3.5v3.5h-3.5zM574.9 168.2h3.5v3.5h-3.5zM576.3 167.0h3.5v3.5h-3.5zM582.6 117.2h3.5v3.5h-3.5zM574.1 151.5h3.5v3.5h-3.5zM574.1 170.9h3.5v3.5h-3.5zM584.3 172.7h3.5v3.5h-3.5zM580.2 145.6h3.5v3.5h-3.5zM578.5 131.5h3.5v3.5h-3.5zM584.1 186.7h3.5v3.5h-3.5zM578.5 152.7h3.5v3.5h-3.5zM577.7 190.0h3.5v3.5h-3.5zM584.7 192.8h3.5v3.5h-3.5zM577.5 153.9h3.5v3.5h-3.5zM574.5 142.0h3.5v3.5h-3.5zM574.4 127.4h3.5v3.5h-3.5zM578.9 141.3h3.5v3.5h-3.5zM577.3 154.3h3.5v3.5h-3.5zM580.4 163.8h3.5v3.5h-3.5zM575.0 169.2h3.5v3.5h-3.5zM586.1 208.0h3.5v3.5h-3.5zM581.9 159.8h3.5v3.5h-3.5zM579.5 171.2h3.5v3.5h-3.5zM571.4 196.3h3.5v3.5h-3.5zM577.0 139.8h3.5v3.5h-3.5zM579.3 171.3h3.5v3.5h-3.5zM585.6 136.5h3.5v3.5h-3.5zM588.2 141.2h3.5v3.5h-3.5zM585.9 120.9h3.5v3.5h-3.5zM573.0 104.4h3.5v3.5h-3.5zM574.5 151.2h3.5v3.5h-3.5zM586.4 184.5h3.5v3.5h-3.5zM581.5 123.0h3.5v3.5h-3.5zM579.6 108.7h3.5v3.5h-3.5zM580.3 136.3h3.5v3.5h-3.5zM579.3 153.6h3.5v3.5h-3.5zM573.5 184.6h3.5v3.5h-3.5zM573.5 177.6h3.5v3.5h-3.5zM582.2 139.2h3.5v3.5h-3.5zM578.1 147.1h3.5v3.5h-3.5zM574.4 160.2h3.5v3.5h-3.5zM585.1 174.1h3.5v3.5h-3.5zM577.8 180.4h3.5v3.5h-3.5zM580.1 130.5h3.5v3.5h-3.5zM580.6 110.2h3.5v3.5h-3.5zM575.4 159.8h3.5v3.5h-3.5zM577.4 135.9h3.5v3.5h-3.5zM585.4 117.8h3.5v3.5h-3.5zM585.0 170.9h3.5v3.5h-3.5zM582.4 150.4h3.5v3.5h-3.5zM580.4 184.2h3.5v3.5h-3.5zM580.6 148.4h3.5v3.5h-3.5zM582.5 195.8h3.5v3.5h-3.5zM580.8 159.2h3.5v3.5h-3.5zM585.7 155.2h3.5v3.5h-3.5zM574.0 156.1h3.5v3.5h-3.5zM582.1 174.8h3.5v3.5h-3.5zM583.0 150.6h3.5v3.5h-3.5zM579.1 173.1h3.5v3.5h-3.5zM577.6 155.0h3.5v3.5h-3.5zM580.2 126.0h3.5v3.5h-3.5zM586.3 181.1h3.5v3.5h-3.5zM576.5 142.8h3.5v3.5h-3.5zM588.1 184.2h3.5v3.5h-3.5zM579.6 160.1h3.5v3.5h-3.5zM572.7 159.5h3.5v3.5h-3.5zM582.9 170.0h3.5v3.5h-3.5zM577.3 139.2h3.5v3.5h-3.5zM581.7 194.0h3.5v3.5h-3.5zM578.2 155.0h3.5v3.5h-3.5zM580.9 161.9h3.5v3.5h-3.5zM576.9 173.4h3.5v3.5h-3.5zM578.1 163.3h3.5v3.5h-3.5zM586.1 204.3h3.5v3.5h-3.5zM579.1 157.8h3.5v3.5h-3.5zM580.7 174.3h3.5v3.5h-3.5zM577.0 165.7h3.5v3.5h-3.5zM581.2 209.5h3.5v3.5h-3.5zM578.6 150.6h3.5v3.5h-3.5zM579.7 137.6h3.5v3.5h-3.5zM581.8 161.1h3.5v3.5h-3.5zM584.7 152.9h3.5v3.5h-3.5zM584.9 184.6h3.5v3.5h-3.5zM578.2 125.8h3.5v3.5h-3.5zM576.5 152.8h3.5v3.5h-3.5zM581.9 139.2h3.5v3.5h-3.5zM571.5 159.3h3.5v3.5h-3.5zM579.9 176.4h3.5v3.5h-3.5zM583.0 176.7h3.5v3.5h-3.5zM580.7 201.4h3.5v3.5h-3.5zM572.0 164.1h3.5v3.5h-3.5zM580.4 212.3h3.5v3.5h-3.5zM579.4 171.3h3.5v3.5h-3.5zM580.2 108.4h3.5v3.5h-3.5zM577.2 145.5h3.5v3.5h-3.5zM580.1 178.6h3.5v3.5h-3.5zM575.0 127.4h3.5v3.5h-3.5zM573.1 175.1h3.5v3.5h-3.5zM576.6 174.9h3.5v3.5h-3.5zM581.7 125.8h3.5v3.5h-3.5zM577.9 177.3h3.5v3.5h-3.5zM587.3 156.9h3.5v3.5h-3.5zM576.0 177.1h3.5v3.5h-3.5zM578.4 177.1h3.5v3.5h-3.5zM580.6 138.6h3.5v3.5h-3.5zM576.4 162.5h3.5v3.5h-3.5zM576.8 160.9h3.5v3.5h-3.5zM568.1 186.8h3.5v3.5h-3.5zM560.6 198.1h3.5v3.5h-3.5zM572.2 205.3h3.5v3.5h-3.5zM569.0 141.2h3.5v3.5h-3.5zM563.7 175.5h3.5v3.5h-3.5zM566.5 138.9h3.5v3.5h-3.5z"/>
<path fill="#c9414a" d="M580.9 161.6h3.5v3.5h-3.5zM572.6 185.7h3.5v3.5h-3.5zM579.7 133.6h3.5v3.5h-3.5zM578.8 163.9h3.5v3.5h-3.5zM578.2 147.1h3.5v3.5h-3.5zM583.3 111.7h3.5v3.5h-3.5zM585.3 169.3h3.5v3.5h-3.5zM578.0 158.7h3.5v3.5h-3.5zM583.0 146.8h3.5v3.5h-3.5zM581.3 229.5h3.5v3.5h-3.5zM584.2 171.8h3.5v3.5h-3.5zM579.4 165.0h3.5v3.5h-3.5zM576.7 150.8h3.5v3.5h-3.5zM579.0 106.5h3.5v3.5h-3.5zM581.7 174.3h3.5v3.5h-3.5zM579.2 183.1h3.5v3.5h-3.5zM580.0 161.0h3.5v3.5h-3.5zM586.6 148.5h3.5v3.5h-3.5zM583.6 178.9h3.5v3.5h-3.5zM581.0 147.1h3.5v3.5h-3.5zM579.6 180.9h3.5v3.5h-3.5zM579.6 171.6h3.5v3.5h-3.5zM583.1 121.0h3.5v3.5h-3.5zM582.6 164.5h3.5v3.5h-3.5zM578.5 136.8h3.5v3.5h-3.5zM580.6 137.1h3.5v3.5h-3.5zM583.9 124.8h3.5v3.5h-3.5zM581.6 175.5h3.5v3.5h-3.5zM579.2 112.4h3.5v3.5h-3.5zM580.4 124.4h3.5v3.5h-3.5zM587.1 142.4h3.5v3.5h-3.5zM580.3 150.3h3.5v3.5h-3.5zM583.6 154.7h3.5v3.5h-3.5zM580.4 159.5h3.5v3.5h-3.5zM578.2 165.0h3.5v3.5h-3.5zM577.7 126.3h3.5v3.5h-3.5zM582.6 148.5h3.5v3.5h-3.5zM579.7 152.0h3.5v3.5h-3.5zM576.5 183.7h3.5v3.5h-3.5zM574.1 200.6h3.5v3.5h-3.5zM583.6 164.3h3.5v3.5h-3.5zM584.8 182.7h3.5v3.5h-3.5zM579.1 144.4h3.5v3.5h-3.5zM583.4 120.8h3.5v3.5h-3.5zM587.3 159.9h3.5v3.5h-3.5zM584.6 133.5h3.5v3.5h-3.5zM587.5 154.8h3.5v3.5h-3.5zM588.7 174.4h3.5v3.5h-3.5zM588.1 200.4h3.5v3.5h-3.5zM585.7 162.6h3.5v3.5h-3.5zM579.4 161.4h3.5v3.5h-3.5zM576.7 129.2h3.5v3.5h-3.5zM586.9 183.7h3.5v3.5h-3.5zM580.4 139.1h3.5v3.5h-3.5zM582.7 139.1h3.5v3.5h-3.5zM581.4 125.0h3.5v3.5h-3.5zM586.8 114.2h3.5v3.5h-3.5zM583.2 129.0h3.5v3.5h-3.5zM579.1 156.3h3.5v3.5h-3.5zM577.2 146.8h3.5v3.5h-3.5zM580.1 187.8h3.5v3.5h-3.5zM586.7 164.5h3.5v3.5h-3.5zM582.7 185.4h3.5v3.5h-3.5zM580.1 199.2h3.5v3.5h-3.5zM580.0 185.6h3.5v3.5h-3.5zM580.6 179.6h3.5v3.5h-3.5zM583.9 220.8h3.5v3.5h-3.5zM582.3 185.9h3.5v3.5h-3.5zM584.0 110.9h3.5v3.5h-3.5zM577.2 128.7h3.5v3.5h-3.5zM584.8 107.8h3.5v3.5h-3.5zM576.0 156.8h3.5v3.5h-3.5zM574.0 197.1h3.5v3.5h-3.5zM578.8 198.9h3.5v3.5h-3.5zM588.1 158.0h3.5v3.5h-3.5zM584.2 137.3h3.5v3.5h-3.5zM581.1 174.8h3.5v3.5h-3.5zM576.7 146.4h3.5v3.5h-3.5zM571.5 180.5h3.5v3.5h-3.5zM576.2 198.2h3.5v3.5h-3.5zM581.1 139.4h3.5v3.5h-3.5zM576.0 174.7h3.5v3.5h-3.5zM580.9 139.3h3.5v3.5h-3.5zM583.8 114.8h3.5v3.5h-3.5zM584.5 111.9h3.5v3.5h-3.5zM579.6 151.2h3.5v3.5h-3.5zM585.9 131.9h3.5v3.5h-3.5zM584.8 166.3h3.5v3.5h-3.5zM573.4 170.5h3.5v3.5h-3.5zM576.2 181.8h3.5v3.5h-3.5zM582.0 138.8h3.5v3.5h-3.5zM582.0 153.2h3.5v3.5h-3.5zM579.5 136.9h3.5v3.5h-3.5zM578.3 187.0h3.5v3.5h-3.5zM586.3 196.0h3.5v3.5h-3.5zM577.4 171.6h3.5v3.5h-3.5zM574.2 125.6h3.5v3.5h-3.5zM579.2 129.4h3.5v3.5h-3.5zM578.7 163.9h3.5v3.5h-3.5zM582.5 102.8h3.5v3.5h-3.5zM579.6 183.0h3.5v3.5h-3.5zM580.0 134.5h3.5v3.5h-3.5zM577.5 155.5h3.5v3.5h-3.5zM578.3 169.4h3.5v3.5h-3.5zM583.8 185.1h3.5v3.5h-3.5zM574.5 165.8h3.5v3.5h-3.5zM584.5 211.2h3.5v3.5h-3.5zM575.3 173.9h3.5v3.5h-3.5zM579.0 202.3h3.5v3.5h-3.5zM578.4 131.8h3.5v3.5h-3.5zM583.7 168.1h3.5v3.5h-3.5zM577.2 145.7h3.5v3.5h-3.5zM574.2 158.5h3.5v3.5h-3.5zM579.6 126.0h3.5v3.5h-3.5zM574.5 196.5h3.5v3.5h-3.5zM579.6 176.4h3.5v3.5h-3.5zM586.0 172.1h3.5v3.5h-3.5zM581.5 146.9h3.5v3.5h-3.5zM577.9 169.5h3.5v3.5h-3.5zM575.3 161.2h3.5v3.5h-3.5zM575.1 149.7h3.5v3.5h-3.5zM582.4 204.9h3.5v3.5h-3.5zM585.5 128.8h3.5v3.5h-3.5zM579.4 155.6h3.5v3.5h-3.5zM581.1 138.5h3.5v3.5h-3.5zM578.6 165.7h3.5v3.5h-3.5zM578.4 166.3h3.5v3.5h-3.5zM579.1 210.7h3.5v3.5h-3.5zM586.5 192.0h3.5v3.5h-3.5zM583.0 170.3h3.5v3.5h-3.5zM578.4 144.9h3.5v3.5h-3.5zM577.2 147.1h3.5v3.5h-3.5zM573.5 152.0h3.5v3.5h-3.5zM576.9 148.7h3.5v3.5h-3.5zM576.4 198.3h3.5v3.5h-3.5zM576.7 177.7h3.5v3.5h-3.5zM579.5 128.0h3.5v3.5h-3.5zM581.9 201.6h3.5v3.5h-3.5zM580.7 149.4h3.5v3.5h-3.5zM573.9 151.8h3.5v3.5h-3.5zM580.6 187.5h3.5v3.5h-3.5zM576.4 169.1h3.5v3.5h-3.5zM581.4 126.3h3.5v3.5h-3.5zM581.4 195.9h3.5v3.5h-3.5zM576.5 158.4h3.5v3.5h-3.5zM579.4 151.9h3.5v3.5h-3.5zM584.8 172.6h3.5v3.5h-3.5zM584.0 199.1h3.5v3.5h-3.5zM576.5 191.4h3.5v3.5h-3.5zM588.0 194.3h3.5v3.5h-3.5zM582.8 153.2h3.5v3.5h-3.5zM576.9 153.1h3.5v3.5h-3.5zM582.4 184.1h3.5v3.5h-3.5zM580.0 141.2h3.5v3.5h-3.5zM582.2 150.5h3.5v3.5h-3.5zM577.6 96.5h3.5v3.5h-3.5zM579.8 174.0h3.5v3.5h-3.5zM579.3 184.3h3.5v3.5h-3.5zM579.2 173.3h3.5v3.5h-3.5zM578.5 187.9h3.5v3.5h-3.5zM587.3 144.2h3.5v3.5h-3.5zM588.7 153.5h3.5v3.5h-3.5zM577.3 150.9h3.5v3.5h-3.5zM577.8 204.2h3.5v3.5h-3.5zM584.0 179.3h3.5v3.5h-3.5zM585.2 184.9h3.5v3.5h-3.5zM585.0 133.1h3.5v3.5h-3.5zM584.6 142.7h3.5v3.5h-3.5zM577.2 159.8h3.5v3.5h-3.5zM584.0 108.8h3.5v3.5h-3.5zM576.3 179.4h3.5v3.5h-3.5zM581.9 168.7h3.5v3.5h-3.5zM576.6 195.8h3.5v3.5h-3.5zM578.2 196.7h3.5v3.5h-3.5zM577.3 170.3h3.5v3.5h-3.5zM579.4 178.5h3.5v3.5h-3.5zM580.3 176.0h3.5v3.5h-3.5zM577.4 143.9h3.5v3.5h-3.5zM580.2 171.3h3.5v3.5h-3.5zM589.0 181.7h3.5v3.5h-3.5zM579.0 139.0h3.5v3.5h-3.5zM579.3 164.4h3.5v3.5h-3.5zM581.4 160.1h3.5v3.5h-3.5zM579.3 186.2h3.5v3.5h-3.5zM584.0 163.3h3.5v3.5h-3.5zM581.5 150.3h3.5v3.5h-3.5zM581.8 143.7h3.5v3.5h-3.5zM582.6 178.2h3.5v3.5h-3.5zM582.0 142.6h3.5v3.5h-3.5zM576.4 234.2h3.5v3.5h-3.5zM584.4 152.2h3.5v3.5h-3.5zM582.9 204.5h3.5v3.5h-3.5zM583.6 184.2h3.5v3.5h-3.5zM575.4 108.5h3.5v3.5h-3.5zM579.6 81.5h3.5v3.5h-3.5zM580.2 175.0h3.5v3.5h-3.5zM584.7 204.8h3.5v3.5h-3.5zM584.7 177.1h3.5v3.5h-3.5zM574.1 134.7h3.5v3.5h-3.5zM584.2 171.7h3.5v3.5h-3.5zM581.8 128.8h3.5v3.5h-3.5zM580.9 163.5h3.5v3.5h-3.5zM581.8 166.7h3.5v3.5h-3.5zM578.8 134.8h3.5v3.5h-3.5zM581.1 165.5h3.5v3.5h-3.5zM581.4 175.5h3.5v3.5h-3.5zM578.4 198.8h3.5v3.5h-3.5zM571.0 128.5h3.5v3.5h-3.5zM581.8 152.3h3.5v3.5h-3.5zM577.8 150.2h3.5v3.5h-3.5zM579.1 180.4h3.5v3.5h-3.5zM579.9 157.2h3.5v3.5h-3.5zM575.7 146.5h3.5v3.5h-3.5zM583.7 153.7h3.5v3.5h-3.5zM578.5 222.3h3.5v3.5h-3.5zM583.8 186.2h3.5v3.5h-3.5zM584.5 146.6h3.5v3.5h-3.5zM576.8 199.9h3.5v3.5h-3.5zM580.4 114.5h3.5v3.5h-3.5zM580.6 219.4h3.5v3.5h-3.5zM577.7 142.4h3.5v3.5h-3.5zM579.6 170.2h3.5v3.5h-3.5zM583.7 148.1h3.5v3.5h-3.5zM583.3 196.2h3.5v3.5h-3.5zM585.7 166.1h3.5v3.5h-3.5zM579.2 165.8h3.5v3.5h-3.5zM578.1 140.3h3.5v3.5h-3.5zM583.6 171.1h3.5v3.5h-3.5zM586.8 178.9h3.5v3.5h-3.5zM580.1 141.5h3.5v3.5h-3.5zM581.0 148.6h3.5v3.5h-3.5zM583.4 186.7h3.5v3.5h-3.5zM578.1 122.3h3.5v3.5h-3.5zM577.9 112.3h3.5v3.5h-3.5zM579.8 139.9h3.5v3.5h-3.5zM584.9 152.6h3.5v3.5h-3.5zM574.0 111.0h3.5v3.5h-3.5zM578.8 172.3h3.5v3.5h-3.5zM578.3 138.0h3.5v3.5h-3.5zM586.3 210.4h3.5v3.5h-3.5zM580.6 174.2h3.5v3.5h-3.5zM586.2 148.1h3.5v3.5h-3.5zM575.7 147.0h3.5v3.5h-3.5zM574.1 150.8h3.5v3.5h-3.5zM579.1 131.2h3.5v3.5h-3.5zM572.1 140.8h3.5v3.5h-3.5zM582.2 194.4h3.5v3.5h-3.5zM584.8 164.0h3.5v3.5h-3.5zM580.8 193.3h3.5v3.5h-3.5zM583.0 158.5h3.5v3.5h-3.5zM583.0 200.7h3.5v3.5h-3.5zM576.1 174.9h3.5v3.5h-3.5zM584.4 127.6h3.5v3.5h-3.5zM581.8 132.6h3.5v3.5h-3.5zM586.0 183.0h3.5v3.5h-3.5zM577.2 172.7h3.5v3.5h-3.5zM582.6 212.2h3.5v3.5h-3.5zM580.2 180.0h3.5v3.5h-3.5zM580.3 124.1h3.5v3.5h-3.5zM581.9 183.9h3.5v3.5h-3.5zM582.7 122.3h3.5v3.5h-3.5zM577.3 123.8h3.5v3.5h-3.5zM587.4 174.0h3.5v3.5h-3.5zM577.7 150.2h3.5v3.5h-3.5zM582.9 169.0h3.5v3.5h-3.5zM577.4 178.3h3.5v3.5h-3.5zM579.8 206.1h3.5v3.5h-3.5zM577.6 134.0h3.5v3.5h-3.5zM584.6 144.0h3.5v3.5h-3.5zM585.4 140.0h3.5v3.5h-3.5zM584.6 158.2h3.5v3.5h-3.5zM578.2 188.2h3.5v3.5h-3.5zM587.5 205.7h3.5v3.5h-3.5zM583.8 158.7h3.5v3.5h-3.5zM576.0 204.7h3.5v3.5h-3.5zM574.5 180.2h3.5v3.5h-3.5zM582.5 135.7h3.5v3.5h-3.5zM587.2 117.4h3.5v3.5h-3.5zM586.7 156.8h3.5v3.5h-3.5zM587.3 102.8h3.5v3.5h-3.5zM586.4 152.4h3.5v3.5h-3.5zM580.1 188.8h3.5v3.5h-3.5zM583.2 146.2h3.5v3.5h-3.5zM584.9 209.1h3.5v3.5h-3.5zM576.4 180.2h3.5v3.5h-3.5zM577.5 134.6h3.5v3.5h-3.5zM587.0 182.2h3.5v3.5h-3.5zM581.9 154.6h3.5v3.5h-3.5zM575.1 131.6h3.5v3.5h-3.5zM585.8 108.2h3.5v3.5h-3.5zM584.4 146.6h3.5v3.5h-3.5zM583.2 198.5h3.5v3.5h-3.5zM583.4 213.0h3.5v3.5h-3.5zM581.9 173.1h3.5v3.5h-3.5zM582.4 144.7h3.5v3.5h-3.5zM582.4 160.2h3.5v3.5h-3.5zM578.7 162.2h3.5v3.5h-3.5zM576.4 166.5h3.5v3.5h-3.5zM575.8 116.6h3.5v3.5h-3.5zM575.3 148.9h3.5v3.5h-3.5zM576.2 124.2h3.5v3.5h-3.5zM575.2 181.6h3.5v3.5h-3.5zM581.0 155.1h3.5v3.5h-3.5zM581.5 117.5h3.5v3.5h-3.5zM585.2 184.5h3.5v3.5h-3.5zM577.9 139.3h3.5v3.5h-3.5zM587.5 153.9h3.5v3.5h-3.5zM583.4 177.3h3.5v3.5h-3.5zM579.9 194.9h3.5v3.5h-3.5zM579.6 201.8h3.5v3.5h-3.5zM581.0 228.0h3.5v3.5h-3.5zM572.6 141.3h3.5v3.5h-3.5zM579.4 118.3h3.5v3.5h-3.5zM580.5 210.5h3.5v3.5h-3.5zM575.2 184.5h3.5v3.5h-3.5zM576.3 139.0h3.5v3.5h-3.5zM570.8 183.3h3.5v3.5h-3.5zM581.2 137.7h3.5v3.5h-3.5zM579.8 160.4h3.5v3.5h-3.5zM585.6 121.6h3.5v3.5h-3.5zM579.1 154.7h3.5v3.5h-3.5zM582.4 127.4h3.5v3.5h-3.5zM582.2 182.1h3.5v3.5h-3.5zM582.8 206.3h3.5v3.5h-3.5zM585.3 150.4h3.5v3.5h-3.5zM576.8 200.9h3.5v3.5h-3.5zM579.2 158.3h3.5v3.5h-3.5zM581.9 138.5h3.5v3.5h-3.5zM585.2 157.1h3.5v3.5h-3.5zM584.7 186.6h3.5v3.5h-3.5zM584.4 206.4h3.5v3.5h-3.5zM569.8 171.3h3.5v3.5h-3.5zM565.2 158.3h3.5v3.5h-3.5zM570.3 172.0h3.5v3.5h-3.5zM566.1 131.0h3.5v3.5h-3.5z"/>
<path fill="#d04744" d="M587.6 194.5h3.5v3.5h-3.5zM575.9 178.5h3.5v3.5h-3.5zM585.3 113.7h3.5v3.5h-3.5zM574.7 189.3h3.5v3.5h-3.5zM579.4 172.0h3.5v3.5h-3.5zM581.2 201.4h3.5v3.5h-3.5zM581.9 167.0h3.5v3.5h-3.5zM584.7 138.0h3.5v3.5h-3.5zM584.2 152.6h3.5v3.5h-3.5zM583.1 158.1h3.5v3.5h-3.5zM580.8 182.3h3.5v3.5h-3.5zM582.6 141.3h3.5v3.5h-3.5zM576.0 188.8h3.5v3.5h-3.5zM589.7 148.5h3.5v3.5h-3.5zM579.5 99.3h3.5v3.5h-3.5zM579.4 152.8h3.5v3.5h-3.5zM580.8 118.9h3.5v3.5h-3.5zM577.3 166.2h3.5v3.5h-3.5zM583.7 129.1h3.5v3.5h-3.5zM583.6 118.8h3.5v3.5h-3.5zM574.0 170.7h3.5v3.5h-3.5zM578.3 143.7h3.5v3.5h-3.5zM585.8 166.0h3.5v3.5h-3.5zM580.0 174.9h3.5v3.5h-3.5zM578.7 185.9h3.5v3.5h-3.5zM583.5 177.2h3.5v3.5h-3.5zM573.9 161.4h3.5v3.5h-3.5zM587.0 171.3h3.5v3.5h-3.5zM579.5 171.8h3.5v3.5h-3.5zM581.0 192.9h3.5v3.5h-3.5zM585.6 135.4h3.5v3.5h-3.5zM580.1 127.5h3.5v3.5h-3.5zM586.6 175.0h3.5v3.5h-3.5zM589.3 199.4h3.5v3.5h-3.5zM580.9 135.2h3.5v3.5h-3.5zM581.8 159.5h3.5v3.5h-3.5zM586.4 171.4h3.5v3.5h-3.5zM580.1 130.5h3.5v3.5h-3.5zM588.3 141.2h3.5v3.5h-3.5zM582.1 186.8h3.5v3.5h-3.5zM579.9 155.8h3.5v3.5h-3.5zM581.4 153.6h3.5v3.5h-3.5zM577.3 165.7h3.5v3.5h-3.5zM576.0 154.4h3.5v3.5h-3.5zM587.8 127.7h3.5v3.5h-3.5zM580.9 128.7h3.5v3.5h-3.5zM582.3 190.9h3.5v3.5h-3.5zM576.4 172.0h3.5v3.5h-3.5zM581.4 193.9h3.5v3.5h-3.5zM582.8 155.5h3.5v3.5h-3.5zM585.0 170.4h3.5v3.5h-3.5zM580.5 142.6h3.5v3.5h-3.5zM580.4 199.3h3.5v3.5h-3.5zM588.5 143.1h3.5v3.5h-3.5zM583.3 136.2h3.5v3.5h-3.5zM587.9 162.5h3.5v3.5h-3.5zM580.9 147.3h3.5v3.5h-3.5zM582.4 186.9h3.5v3.5h-3.5zM576.4 170.7h3.5v3.5h-3.5zM585.1 140.8h3.5v3.5h-3.5zM588.3 181.3h3.5v3.5h-3.5zM585.6 174.2h3.5v3.5h-3.5zM582.2 134.6h3.5v3.5h-3.5zM585.8 173.3h3.5v3.5h-3.5zM584.2 157.3h3.5v3.5h-3.5zM582.4 105.9h3.5v3.5h-3.5zM580.3 188.0h3.5v3.5h-3.5zM580.1 134.5h3.5v3.5h-3.5zM579.9 152.7h3.5v3.5h-3.5zM586.5 204.5h3.5v3.5h-3.5zM583.1 185.8h3.5v3.5h-3.5zM582.4 137.7h3.5v3.5h-3.5zM579.3 207.4h3.5v3.5h-3.5zM584.6 172.4h3.5v3.5h-3.5zM572.3 91.8h3.5v3.5h-3.5zM588.8 118.7h3.5v3.5h-3.5zM581.1 159.0h3.5v3.5h-3.5zM580.8 172.1h3.5v3.5h-3.5zM578.5 168.9h3.5v3.5h-3.5zM584.2 162.1h3.5v3.5h-3.5zM580.6 119.3h3.5v3.5h-3.5zM585.4 151.6h3.5v3.5h-3.5zM580.9 195.9h3.5v3.5h-3.5zM584.4 205.9h3.5v3.5h-3.5zM576.4 183.0h3.5v3.5h-3.5zM585.2 162.9h3.5v3.5h-3.5zM584.5 189.7h3.5v3.5h-3.5zM577.7 176.7h3.5v3.5h-3.5zM583.6 127.3h3.5v3.5h-3.5zM584.2 168.4h3.5v3.5h-3.5zM587.7 182.2h3.5v3.5h-3.5zM583.6 159.5h3.5v3.5h-3.5zM579.8 162.2h3.5v3.5h-3.5zM578.7 154.3h3.5v3.5h-3.5zM584.9 168.2h3.5v3.5h-3.5zM581.4 187.4h3.5v3.5h-3.5zM578.9 165.8h3.5v3.5h-3.5zM585.7 155.6h3.5v3.5h-3.5zM587.0 152.1h3.5v3.5h-3.5zM580.1 186.9h3.5v3.5h-3.5zM579.6 173.5h3.5v3.5h-3.5zM584.3 111.9h3.5v3.5h-3.5zM581.0 183.1h3.5v3.5h-3.5zM581.3 128.2h3.5v3.5h-3.5zM577.2 170.1h3.5v3.5h-3.5zM584.6 176.1h3.5v3.5h-3.5zM579.3 181.0h3.5v3.5h-3.5zM577.9 161.1h3.5v3.5h-3.5zM583.1 143.0h3.5v3.5h-3.5zM583.6 164.9h3.5v3.5h-3.5zM588.1 175.4h3.5v3.5h-3.5zM579.0 223.0h3.5v3.5h-3.5zM573.9 118.0h3.5v3.5h-3.5zM586.3 170.7h3.5v3.5h-3.5zM582.1 149.2h3.5v3.5h-3.5zM582.3 175.7h3.5v3.5h-3.5zM586.9 163.3h3.5v3.5h-3.5zM574.2 199.7h3.5v3.5h-3.5zM581.6 142.9h3.5v3.5h-3.5zM581.0 179.5h3.5v3.5h-3.5zM574.4 142.4h3.5v3.5h-3.5zM579.3 176.2h3.5v3.5h-3.5zM581.9 195.4h3.5v3.5h-3.5zM584.4 170.0h3.5v3.5h-3.5zM582.6 186.1h3.5v3.5h-3.5zM577.5 165.7h3.5v3.5h-3.5zM577.2 183.1h3.5v3.5h-3.5zM579.6 160.5h3.5v3.5h-3.5zM579.1 195.3h3.5v3.5h-3.5zM582.8 132.9h3.5v3.5h-3.5zM582.4 178.1h3.5v3.5h-3.5zM584.3 130.7h3.5v3.5h-3.5zM583.1 163.3h3.5v3.5h-3.5zM574.3 154.0h3.5v3.5h-3.5zM583.3 203.9h3.5v3.5h-3.5zM576.3 149.2h3.5v3.5h-3.5zM582.2 99.3h3.5v3.5h-3.5zM583.2 167.9h3.5v3.5h-3.5zM576.9 142.1h3.5v3.5h-3.5zM578.0 187.6h3.5v3.5h-3.5zM579.7 145.1h3.5v3.5h-3.5zM575.8 194.7h3.5v3.5h-3.5zM576.6 162.1h3.5v3.5h-3.5zM587.6 166.5h3.5v3.5h-3.5zM573.8 213.8h3.5v3.5h-3.5zM585.2 154.9h3.5v3.5h-3.5zM578.3 131.4h3.5v3.5h-3.5zM582.3 195.4h3.5v3.5h-3.5zM585.5 131.8h3.5v3.5h-3.5zM585.6 176.3h3.5v3.5h-3.5zM586.8 178.7h3.5v3.5h-3.5zM585.2 187.4h3.5v3.5h-3.5zM583.0 126.2h3.5v3.5h-3.5zM586.6 157.6h3.5v3.5h-3.5zM578.5 158.8h3.5v3.5h-3.5zM583.5 101.4h3.5v3.5h-3.5zM586.2 157.1h3.5v3.5h-3.5zM583.8 185.4h3.5v3.5h-3.5zM584.9 192.1h3.5v3.5h-3.5zM587.0 181.4h3.5v3.5h-3.5zM573.8 170.8h3.5v3.5h-3.5zM575.5 168.5h3.5v3.5h-3.5zM582.6 182.3h3.5v3.5h-3.5zM585.8 149.5h3.5v3.5h-3.5zM571.6 180.7h3.5v3.5h-3.5zM577.6 154.5h3.5v3.5h-3.5zM577.7 210.0h3.5v3.5h-3.5zM585.6 107.6h3.5v3.5h-3.5zM584.7 153.0h3.5v3.5h-3.5zM584.5 203.8h3.5v3.5h-3.5zM583.0 202.9h3.5v3.5h-3.5zM577.6 144.5h3.5v3.5h-3.5zM587.5 149.8h3.5v3.5h-3.5zM582.1 145.4h3.5v3.5h-3.5zM576.7 166.8h3.5v3.5h-3.5zM572.8 182.6h3.5v3.5h-3.5zM583.7 166.5h3.5v3.5h-3.5zM584.8 163.1h3.5v3.5h-3.5zM576.9 165.2h3.5v3.5h-3.5zM587.8 138.5h3.5v3.5h-3.5zM574.9 154.2h3.5v3.5h-3.5zM581.3 166.9h3.5v3.5h-3.5zM579.6 128.6h3.5v3.5h-3.5zM588.3 195.3h3.5v3.5h-3.5zM581.2 112.7h3.5v3.5h-3.5zM584.7 134.7h3.5v3.5h-3.5zM576.6 196.7h3.5v3.5h-3.5zM578.2 175.4h3.5v3.5h-3.5zM585.3 194.8h3.5v3.5h-3.5zM582.7 133.7h3.5v3.5h-3.5zM581.6 184.4h3.5v3.5h-3.5zM578.2 144.3h3.5v3.5h-3.5zM582.3 118.6h3.5v3.5h-3.5zM586.6 200.2h3.5v3.5h-3.5zM577.0 188.0h3.5v3.5h-3.5zM586.0 134.5h3.5v3.5h-3.5zM581.3 141.4h3.5v3.5h-3.5zM582.9 176.6h3.5v3.5h-3.5zM582.7 151.0h3.5v3.5h-3.5zM578.1 129.4h3.5v3.5h-3.5zM584.2 153.5h3.5v3.5h-3.5zM582.9 123.1h3.5v3.5h-3.5zM580.4 138.9h3.5v3.5h-3.5zM581.9 114.7h3.5v3.5h-3.5zM580.9 152.3h3.5v3.5h-3.5zM584.7 175.3h3.5v3.5h-3.5zM581.8 128.8h3.5v3.5h-3.5zM582.9 172.3h3.5v3.5h-3.5zM585.5 116.8h3.5v3.5h-3.5zM582.7 126.0h3.5v3.5h-3.5zM583.4 154.7h3.5v3.5h-3.5zM586.9 167.5h3.5v3.5h-3.5zM586.3 191.2h3.5v3.5h-3.5zM580.7 155.3h3.5v3.5h-3.5zM588.3 133.1h3.5v3.5h-3.5zM580.1 155.1h3.5v3.5h-3.5zM584.0 198.4h3.5v3.5h-3.5zM585.5 212.4h3.5v3.5h-3.5zM581.4 178.0h3.5v3.5h-3.5zM578.1 130.4h3.5v3.5h-3.5zM587.5 116.7h3.5v3.5h-3.5zM588.7 224.2h3.5v3.5h-3.5zM576.9 166.9h3.5v3.5h-3.5zM580.3 178.6h3.5v3.5h-3.5zM581.2 179.2h3.5v3.5h-3.5zM576.2 139.4h3.5v3.5h-3.5zM583.6 189.1h3.5v3.5h-3.5zM582.3 192.4h3.5v3.5h-3.5zM579.8 164.5h3.5v3.5h-3.5zM582.7 131.1h3.5v3.5h-3.5zM582.2 171.3h3.5v3.5h-3.5zM576.9 161.4h3.5v3.5h-3.5zM581.2 210.1h3.5v3.5h-3.5zM582.4 131.3h3.5v3.5h-3.5zM584.6 153.1h3.5v3.5h-3.5zM579.9 150.9h3.5v3.5h-3.5zM584.5 160.6h3.5v3.5h-3.5zM582.2 152.6h3.5v3.5h-3.5zM576.2 198.5h3.5v3.5h-3.5zM584.0 172.0h3.5v3.5h-3.5zM578.8 139.6h3.5v3.5h-3.5zM576.9 127.6h3.5v3.5h-3.5zM585.0 172.4h3.5v3.5h-3.5zM587.4 94.3h3.5v3.5h-3.5zM583.9 163.8h3.5v3.5h-3.5zM587.3 190.6h3.5v3.5h-3.5zM581.4 157.9h3.5v3.5h-3.5zM583.9 183.4h3.5v3.5h-3.5zM583.9 185.6h3.5v3.5h-3.5zM580.4 85.9h3.5v3.5h-3.5zM582.5 194.9h3.5v3.5h-3.5zM581.8 163.1h3.5v3.5h-3.5zM578.4 149.4h3.5v3.5h-3.5zM578.6 142.4h3.5v3.5h-3.5zM579.4 140.4h3.5v3.5h-3.5zM577.9 155.4h3.5v3.5h-3.5zM587.7 210.6h3.5v3.5h-3.5zM582.5 132.2h3.5v3.5h-3.5zM587.9 131.1h3.5v3.5h-3.5zM576.6 155.4h3.5v3.5h-3.5zM585.0 149.8h3.5v3.5h-3.5zM585.5 151.5h3.5v3.5h-3.5zM575.8 162.3h3.5v3.5h-3.5zM578.4 190.1h3.5v3.5h-3.5zM587.3 182.1h3.5v3.5h-3.5zM587.0 182.2h3.5v3.5h-3.5zM577.0 203.4h3.5v3.5h-3.5zM586.6 167.0h3.5v3.5h-3.5zM580.0 169.9h3.5v3.5h-3.5zM579.5 120.8h3.5v3.5h-3.5zM588.6 210.0h3.5v3.5h-3.5zM577.1 113.1h3.5v3.5h-3.5zM577.8 157.3h3.5v3.5h-3.5zM583.0 128.0h3.5v3.5h-3.5zM583.4 202.1h3.5v3.5h-3.5zM587.6 166.7h3.5v3.5h-3.5zM585.0 132.6h3.5v3.5h-3.5zM580.5 172.3h3.5v3.5h-3.5zM579.9 194.7h3.5v3.5h-3.5zM586.7 195.4h3.5v3.5h-3.5zM581.4 136.0h3.5v3.5h-3.5zM581.5 162.2h3.5v3.5h-3.5zM585.2 154.8h3.5v3.5h-3.5zM587.7 96.5h3.5v3.5h-3.5zM582.4 104.6h3.5v3.5h-3.5zM581.0 179.2h3.5v3.5h-3.5zM581.4 172.5h3.5v3.5h-3.5zM576.3 148.0h3.5v3.5h-3.5zM581.2 163.1h3.5v3.5h-3.5zM578.7 165.5h3.5v3.5h-3.5zM581.0 142.5h3.5v3.5h-3.5zM586.2 172.8h3.5v3.5h-3.5zM583.3 183.9h3.5v3.5h-3.5zM584.1 163.3h3.5v3.5h-3.5zM586.5 139.7h3.5v3.5h-3.5zM578.0 174.9h3.5v3.5h-3.5zM585.9 196.3h3.5v3.5h-3.5zM575.4 102.9h3.5v3.5h-3.5zM580.8 190.7h3.5v3.5h-3.5zM584.5 176.1h3.5v3.5h-3.5zM581.1 132.1h3.5v3.5h-3.5zM582.4 114.7h3.5v3.5h-3.5zM583.2 218.9h3.5v3.5h-3.5zM585.0 172.2h3.5v3.5h-3.5zM578.1 149.1h3.5v3.5h-3.5zM581.5 151.6h3.5v3.5h-3.5zM575.9 108.9h3.5v3.5h-3.5zM583.4 159.9h3.5v3.5h-3.5zM584.9 162.2h3.5v3.5h-3.5zM582.6 210.0h3.5v3.5h-3.5zM577.6 184.6h3.5v3.5h-3.5zM584.8 161.8h3.5v3.5h-3.5zM577.5 172.2h3.5v3.5h-3.5zM588.2 163.0h3.5v3.5h-3.5zM581.0 170.5h3.5v3.5h-3.5zM583.2 162.5h3.5v3.5h-3.5zM583.4 177.2h3.5v3.5h-3.5zM584.8 133.3h3.5v3.5h-3.5zM578.9 152.3h3.5v3.5h-3.5zM580.4 200.9h3.5v3.5h-3.5zM578.2 183.9h3.5v3.5h-3.5zM583.7 156.2h3.5v3.5h-3.5zM584.8 149.6h3.5v3.5h-3.5zM588.4 187.7h3.5v3.5h-3.5zM576.9 163.2h3.5v3.5h-3.5zM577.9 143.2h3.5v3.5h-3.5zM586.7 148.2h3.5v3.5h-3.5zM574.9 169.5h3.5v3.5h-3.5zM566.4 191.9h3.5v3.5h-3.5z"/>
<path fill="#d64c3f" d="M583.1 166.2h3.5v3.5h-3.5zM586.3 166.7h3.5v3.5h-3.5zM583.4 191.6h3.5v3.5h-3.5zM585.2 178.8h3.5v3.5h-3.5zM583.1 174.7h3.5v3.5h-3.5zM589.3 172.0h3.5v3.5h-3.5zM588.0 136.9h3.5v3.5h-3.5zM582.8 202.8h3.5v3.5h-3.5zM579.5 169.7h3.5v3.5h-3.5zM579.2 154.3h3.5v3.5h-3.5zM578.5 209.8h3.5v3.5h-3.5zM575.6 150.8h3.5v3.5h-3.5zM581.3 156.2h3.5v3.5h-3.5zM583.4 193.6h3.5v3.5h-3.5zM585.6 141.7h3.5v3.5h-3.5zM582.1 178.5h3.5v3.5h-3.5zM585.1 181.1h3.5v3.5h-3.5zM583.1 191.6h3.5v3.5h-3.5zM583.2 160.7h3.5v3.5h-3.5zM578.6 123.7h3.5v3.5h-3.5zM587.4 172.2h3.5v3.5h-3.5zM577.2 167.3h3.5v3.5h-3.5zM579.1 191.6h3.5v3.5h-3.5zM575.2 181.2h3.5v3.5h-3.5zM585.5 136.5h3.5v3.5h-3.5zM587.6 133.2h3.5v3.5h-3.5zM583.1 186.9h3.5v3.5h-3.5zM582.2 131.3h3.5v3.5h-3.5zM586.0 180.0h3.5v3.5h-3.5zM586.2 161.1h3.5v3.5h-3.5zM574.2 170.7h3.5v3.5h-3.5zM586.7 130.4h3.5v3.5h-3.5zM578.8 147.5h3.5v3.5h-3.5zM589.3 133.0h3.5v3.5h-3.5zM583.3 156.3h3.5v3.5h-3.5zM580.4 189.7h3.5v3.5h-3.5zM584.0 188.9h3.5v3.5h-3.5zM581.5 178.8h3.5v3.5h-3.5zM582.6 159.8h3.5v3.5h-3.5zM583.3 163.0h3.5v3.5h-3.5zM578.9 163.2h3.5v3.5h-3.5zM584.6 200.0h3.5v3.5h-3.5zM582.8 146.3h3.5v3.5h-3.5zM581.2 190.2h3.5v3.5h-3.5zM577.2 168.4h3.5v3.5h-3.5zM586.1 168.3h3.5v3.5h-3.5zM585.9 216.9h3.5v3.5h-3.5zM581.7 194.1h3.5v3.5h-3.5zM575.2 136.0h3.5v3.5h-3.5zM588.3 142.6h3.5v3.5h-3.5zM584.0 185.9h3.5v3.5h-3.5zM585.5 176.0h3.5v3.5h-3.5zM574.0 160.4h3.5v3.5h-3.5zM582.7 146.2h3.5v3.5h-3.5zM581.4 213.1h3.5v3.5h-3.5zM581.5 137.0h3.5v3.5h-3.5zM587.9 120.1h3.5v3.5h-3.5zM588.2 179.4h3.5v3.5h-3.5zM581.8 178.0h3.5v3.5h-3.5zM579.4 150.1h3.5v3.5h-3.5zM585.9 152.1h3.5v3.5h-3.5zM587.6 172.8h3.5v3.5h-3.5zM583.4 130.7h3.5v3.5h-3.5zM577.6 170.8h3.5v3.5h-3.5zM586.9 138.5h3.5v3.5h-3.5zM581.3 153.3h3.5v3.5h-3.5zM589.5 126.2h3.5v3.5h-3.5zM582.6 148.9h3.5v3.5h-3.5zM582.9 166.2h3.5v3.5h-3.5zM576.0 134.2h3.5v3.5h-3.5zM586.7 161.4h3.5v3.5h-3.5zM582.4 222.8h3.5v3.5h-3.5zM584.7 182.9h3.5v3.5h-3.5zM580.6 183.3h3.5v3.5h-3.5zM583.5 118.8h3.5v3.5h-3.5zM585.7 170.9h3.5v3.5h-3.5zM579.9 131.6h3.5v3.5h-3.5zM579.6 192.4h3.5v3.5h-3.5zM583.5 205.8h3.5v3.5h-3.5zM584.0 189.6h3.5v3.5h-3.5zM586.2 125.9h3.5v3.5h-3.5zM579.5 122.6h3.5v3.5h-3.5zM588.2 185.9h3.5v3.5h-3.5zM582.5 124.0h3.5v3.5h-3.5zM578.5 159.3h3.5v3.5h-3.5zM582.9 214.1h3.5v3.5h-3.5zM581.1 190.7h3.5v3.5h-3.5zM580.8 144.3h3.5v3.5h-3.5zM583.8 170.4h3.5v3.5h-3.5zM580.6 146.6h3.5v3.5h-3.5zM583.2 181.1h3.5v3.5h-3.5zM588.2 204.4h3.5v3.5h-3.5zM588.6 175.1h3.5v3.5h-3.5zM586.6 189.0h3.5v3.5h-3.5zM583.7 219.9h3.5v3.5h-3.5zM582.8 158.4h3.5v3.5h-3.5zM577.8 174.5h3.5v3.5h-3.5zM576.0 145.8h3.5v3.5h-3.5zM578.9 200.3h3.5v3.5h-3.5zM584.1 143.8h3.5v3.5h-3.5zM580.8 169.9h3.5v3.5h-3.5zM584.5 188.6h3.5v3.5h-3.5zM580.5 163.8h3.5v3.5h-3.5zM585.2 180.0h3.5v3.5h-3.5zM585.8 149.2h3.5v3.5h-3.5zM585.0 165.7h3.5v3.5h-3.5zM581.6 127.9h3.5v3.5h-3.5zM583.8 162.3h3.5v3.5h-3.5zM577.9 163.4h3.5v3.5h-3.5zM576.8 110.5h3.5v3.5h-3.5zM587.6 140.8h3.5v3.5h-3.5zM587.8 152.7h3.5v3.5h-3.5zM581.1 133.6h3.5v3.5h-3.5zM585.0 125.7h3.5v3.5h-3.5zM584.0 175.1h3.5v3.5h-3.5zM587.8 159.2h3.5v3.5h-3.5zM585.0 198.7h3.5v3.5h-3.5zM584.7 145.1h3.5v3.5h-3.5zM586.2 171.9h3.5v3.5h-3.5zM581.2 129.4h3.5v3.5h-3.5zM583.5 217.1h3.5v3.5h-3.5zM578.9 163.3h3.5v3.5h-3.5zM584.0 160.3h3.5v3.5h-3.5zM584.2 165.6h3.5v3.5h-3.5zM581.8 180.9h3.5v3.5h-3.5zM579.7 171.9h3.5v3.5h-3.5zM576.5 163.9h3.5v3.5h-3.5zM586.8 145.6h3.5v3.5h-3.5zM583.4 205.0h3.5v3.5h-3.5zM585.9 178.8h3.5v3.5h-3.5zM584.7 190.1h3.5v3.5h-3.5zM584.6 143.2h3.5v3.5h-3.5zM574.7 139.2h3.5v3.5h-3.5zM589.5 188.0h3.5v3.5h-3.5zM581.4 185.1h3.5v3.5h-3.5zM576.1 216.2h3.5v3.5h-3.5zM581.6 119.2h3.5v3.5h-3.5zM580.9 109.2h3.5v3.5h-3.5zM579.0 166.5h3.5v3.5h-3.5zM587.3 141.8h3.5v3.5h-3.5zM584.0 162.9h3.5v3.5h-3.5zM578.8 193.1h3.5v3.5h-3.5zM575.7 166.6h3.5v3.5h-3.5zM580.7 179.0h3.5v3.5h-3.5zM584.5 181.4h3.5v3.5h-3.5zM583.8 202.8h3.5v3.5h-3.5zM581.7 147.5h3.5v3.5h-3.5zM589.3 187.3h3.5v3.5h-3.5zM579.2 154.4h3.5v3.5h-3.5zM577.5 175.4h3.5v3.5h-3.5zM582.9 182.4h3.5v3.5h-3.5zM579.6 181.1h3.5v3.5h-3.5zM588.1 185.3h3.5v3.5h-3.5zM582.6 178.1h3.5v3.5h-3.5zM586.0 93.0h3.5v3.5h-3.5zM588.8 185.4h3.5v3.5h-3.5zM581.8 166.4h3.5v3.5h-3.5zM586.2 166.9h3.5v3.5h-3.5zM582.1 114.0h3.5v3.5h-3.5zM582.6 148.7h3.5v3.5h-3.5zM577.8 187.9h3.5v3.5h-3.5zM580.5 154.6h3.5v3.5h-3.5zM585.4 178.9h3.5v3.5h-3.5zM579.9 175.1h3.5v3.5h-3.5zM589.0 158.2h3.5v3.5h-3.5zM582.3 184.7h3.5v3.5h-3.5zM579.4 151.4h3.5v3.5h-3.5zM582.8 174.7h3.5v3.5h-3.5zM584.2 149.6h3.5v3.5h-3.5zM582.7 162.9h3.5v3.5h-3.5zM583.3 156.3h3.5v3.5h-3.5zM576.3 170.8h3.5v3.5h-3.5zM580.2 132.4h3.5v3.5h-3.5zM586.8 159.2h3.5v3.5h-3.5zM583.8 199.9h3.5v3.5h-3.5zM585.3 190.1h3.5v3.5h-3.5zM583.2 165.9h3.5v3.5h-3.5zM581.4 167.0h3.5v3.5h-3.5zM585.3 147.3h3.5v3.5h-3.5zM582.7 177.1h3.5v3.5h-3.5zM586.1 159.0h3.5v3.5h-3.5zM582.4 200.6h3.5v3.5h-3.5zM576.8 167.3h3.5v3.5h-3.5zM582.0 130.2h3.5v3.5h-3.5zM581.0 177.7h3.5v3.5h-3.5zM585.2 124.7h3.5v3.5h-3.5zM584.7 154.4h3.5v3.5h-3.5zM585.8 184.9h3.5v3.5h-3.5zM583.4 173.1h3.5v3.5h-3.5zM584.7 184.1h3.5v3.5h-3.5zM585.1 166.7h3.5v3.5h-3.5zM580.1 155.1h3.5v3.5h-3.5zM578.6 146.1h3.5v3.5h-3.5zM586.8 108.3h3.5v3.5h-3.5zM585.4 187.1h3.5v3.5h-3.5zM586.0 131.9h3.5v3.5h-3.5zM583.6 162.0h3.5v3.5h-3.5zM581.8 142.6h3.5v3.5h-3.5zM580.4 154.1h3.5v3.5h-3.5zM582.3 137.2h3.5v3.5h-3.5zM583.1 153.0h3.5v3.5h-3.5zM574.8 166.4h3.5v3.5h-3.5zM583.1 143.8h3.5v3.5h-3.5zM578.2 143.0h3.5v3.5h-3.5zM587.4 160.4h3.5v3.5h-3.5zM584.4 171.8h3.5v3.5h-3.5zM583.8 181.6h3.5v3.5h-3.5zM575.3 172.9h3.5v3.5h-3.5zM578.6 152.8h3.5v3.5h-3.5zM581.9 147.5h3.5v3.5h-3.5zM580.4 147.6h3.5v3.5h-3.5zM590.0 194.1h3.5v3.5h-3.5zM578.4 188.7h3.5v3.5h-3.5zM584.7 192.3h3.5v3.5h-3.5zM583.4 162.3h3.5v3.5h-3.5zM580.9 126.9h3.5v3.5h-3.5zM579.9 176.3h3.5v3.5h-3.5zM585.9 194.5h3.5v3.5h-3.5zM586.0 222.2h3.5v3.5h-3.5zM574.9 175.4h3.5v3.5h-3.5zM580.8 214.5h3.5v3.5h-3.5z"/>
<path fill="#dd513a" d="M583.5 160.5h3.5v3.5h-3.5zM586.2 154.7h3.5v3.5h-3.5zM587.7 194.5h3.5v3.5h-3.5zM584.0 216.4h3.5v3.5h-3.5zM588.7 165.5h3.5v3.5h-3.5zM578.9 172.2h3.5v3.5h-3.5zM579.9 154.9h3.5v3.5h-3.5zM585.3 156.0h3.5v3.5h-3.5zM586.9 164.5h3.5v3.5h-3.5zM588.5 163.9h3.5v3.5h-3.5zM581.4 142.3h3.5v3.5h-3.5zM581.0 165.4h3.5v3.5h-3.5zM585.9 160.8h3.5v3.5h-3.5zM575.0 149.5h3.5v3.5h-3.5zM582.7 170.7h3.5v3.5h-3.5zM578.9 182.4h3.5v3.5h-3.5zM585.8 106.9h3.5v3.5h-3.5zM585.3 131.4h3.5v3.5h-3.5zM579.6 179.2h3.5v3.5h-3.5zM577.1 181.7h3.5v3.5h-3.5zM588.7 163.3h3.5v3.5h-3.5zM587.2 171.4h3.5v3.5h-3.5zM581.1 163.2h3.5v3.5h-3.5zM576.3 145.9h3.5v3.5h-3.5zM583.7 144.5h3.5v3.5h-3.5zM577.5 139.2h3.5v3.5h-3.5zM586.4 82.2h3.5v3.5h-3.5zM587.7 123.8h3.5v3.5h-3.5zM577.1 166.4h3.5v3.5h-3.5zM583.4 150.5h3.5v3.5h-3.5zM586.3 198.6h3.5v3.5h-3.5zM582.3 169.0h3.5v3.5h-3.5zM576.9 179.2h3.5v3.5h-3.5zM582.7 182.9h3.5v3.5h-3.5zM586.2 227.8h3.5v3.5h-3.5zM582.9 183.5h3.5v3.5h-3.5zM579.2 146.8h3.5v3.5h-3.5zM587.9 205.7h3.5v3.5h-3.5zM589.0 129.1h3.5v3.5h-3.5zM587.4 106.8h3.5v3.5h-3.5zM579.1 152.4h3.5v3.5h-3.5zM581.7 133.3h3.5v3.5h-3.5zM579.1 229.0h3.5v3.5h-3.5zM581.1 148.9h3.5v3.5h-3.5zM584.0 121.8h3.5v3.5h-3.5zM581.1 152.9h3.5v3.5h-3.5zM587.8 178.1h3.5v3.5h-3.5zM582.6 173.9h3.5v3.5h-3.5zM582.4 130.7h3.5v3.5h-3.5zM585.7 179.0h3.5v3.5h-3.5zM580.9 181.4h3.5v3.5h-3.5zM589.1 175.3h3.5v3.5h-3.5zM587.4 140.3h3.5v3.5h-3.5zM585.4 173.8h3.5v3.5h-3.5zM577.4 177.8h3.5v3.5h-3.5zM584.8 128.6h3.5v3.5h-3.5zM588.9 188.5h3.5v3.5h-3.5zM576.3 177.6h3.5v3.5h-3.5zM588.5 137.8h3.5v3.5h-3.5zM583.8 169.3h3.5v3.5h-3.5zM581.2 165.6h3.5v3.5h-3.5zM589.2 140.4h3.5v3.5h-3.5zM587.2 179.1h3.5v3.5h-3.5zM586.6 150.4h3.5v3.5h-3.5zM575.7 161.4h3.5v3.5h-3.5zM587.3 166.5h3.5v3.5h-3.5zM589.7 144.5h3.5v3.5h-3.5zM580.9 133.2h3.5v3.5h-3.5zM587.4 148.0h3.5v3.5h-3.5zM587.2 147.9h3.5v3.5h-3.5zM584.3 161.2h3.5v3.5h-3.5zM583.4 203.0h3.5v3.5h-3.5zM581.2 152.7h3.5v3.5h-3.5zM582.9 134.0h3.5v3.5h-3.5zM584.1 139.7h3.5v3.5h-3.5zM581.6 203.3h3.5v3.5h-3.5zM588.3 179.2h3.5v3.5h-3.5zM583.6 180.7h3.5v3.5h-3.5zM581.7 179.5h3.5v3.5h-3.5zM585.6 134.2h3.5v3.5h-3.5zM583.1 111.5h3.5v3.5h-3.5zM584.0 222.1h3.5v3.5h-3.5zM581.2 194.2h3.5v3.5h-3.5zM585.1 141.2h3.5v3.5h-3.5zM582.5 137.9h3.5v3.5h-3.5zM582.5 151.9h3.5v3.5h-3.5zM587.5 188.1h3.5v3.5h-3.5zM584.9 171.6h3.5v3.5h-3.5zM582.5 173.4h3.5v3.5h-3.5zM583.0 148.6h3.5v3.5h-3.5zM588.6 134.8h3.5v3.5h-3.5zM579.9 142.8h3.5v3.5h-3.5zM584.7 180.4h3.5v3.5h-3.5zM578.5 183.6h3.5v3.5h-3.5zM582.9 216.8h3.5v3.5h-3.5zM584.9 140.3h3.5v3.5h-3.5zM577.0 143.4h3.5v3.5h-3.5zM587.8 164.8h3.5v3.5h-3.5zM586.8 135.3h3.5v3.5h-3.5zM585.7 151.4h3.5v3.5h-3.5zM585.1 140.4h3.5v3.5h-3.5zM585.5 197.6h3.5v3.5h-3.5zM577.2 129.7h3.5v3.5h-3.5zM585.1 182.3h3.5v3.5h-3.5zM583.5 150.1h3.5v3.5h-3.5zM584.4 157.4h3.5v3.5h-3.5zM576.6 118.0h3.5v3.5h-3.5zM585.7 139.9h3.5v3.5h-3.5zM583.4 161.2h3.5v3.5h-3.5zM588.5 102.9h3.5v3.5h-3.5zM585.9 142.2h3.5v3.5h-3.5zM582.1 143.0h3.5v3.5h-3.5zM583.5 152.8h3.5v3.5h-3.5zM588.9 158.9h3.5v3.5h-3.5zM584.1 171.5h3.5v3.5h-3.5zM577.6 200.0h3.5v3.5h-3.5zM582.7 131.6h3.5v3.5h-3.5zM587.0 148.7h3.5v3.5h-3.5zM578.3 160.3h3.5v3.5h-3.5zM576.3 181.4h3.5v3.5h-3.5z"/>
<path fill="#e15933" d="M587.8 167.5h3.5v3.5h-3.5zM577.3 196.0h3.5v3.5h-3.5zM588.7 185.4h3.5v3.5h-3.5zM578.9 161.7h3.5v3.5h-3.5zM583.1 147.2h3.5v3.5h-3.5zM586.9 188.4h3.5v3.5h-3.5zM580.4 132.6h3.5v3.5h-3.5zM581.3 174.3h3.5v3.5h-3.5zM585.4 152.9h3.5v3.5h-3.5zM584.8 161.9h3.5v3.5h-3.5zM588.0 180.0h3.5v3.5h-3.5zM583.6 173.3h3.5v3.5h-3.5zM586.2 182.7h3.5v3.5h-3.5zM584.7 163.8h3.5v3.5h-3.5zM576.4 169.1h3.5v3.5h-3.5zM587.7 146.2h3.5v3.5h-3.5zM580.5 131.6h3.5v3.5h-3.5zM587.6 181.6h3.5v3.5h-3.5zM583.8 162.5h3.5v3.5h-3.5zM578.3 193.5h3.5v3.5h-3.5zM586.0 142.7h3.5v3.5h-3.5zM579.4 178.6h3.5v3.5h-3.5zM586.3 156.9h3.5v3.5h-3.5zM582.6 161.6h3.5v3.5h-3.5zM585.7 126.1h3.5v3.5h-3.5zM580.8 154.0h3.5v3.5h-3.5zM590.1 164.5h3.5v3.5h-3.5zM581.7 182.4h3.5v3.5h-3.5zM578.3 105.6h3.5v3.5h-3.5zM575.6 160.5h3.5v3.5h-3.5zM584.3 127.9h3.5v3.5h-3.5zM578.6 182.7h3.5v3.5h-3.5zM579.3 189.4h3.5v3.5h-3.5zM588.9 200.6h3.5v3.5h-3.5zM582.9 134.8h3.5v3.5h-3.5zM581.1 119.4h3.5v3.5h-3.5zM584.7 186.3h3.5v3.5h-3.5zM587.5 192.7h3.5v3.5h-3.5zM583.9 145.8h3.5v3.5h-3.5zM577.5 147.2h3.5v3.5h-3.5zM587.0 177.1h3.5v3.5h-3.5z"/>
<path fill="#e6612d" d="M589.3 197.7h3.5v3.5h-3.5zM586.4 132.9h3.5v3.5h-3.5zM586.1 188.2h3.5v3.5h-3.5zM584.4 129.5h3.5v3.5h-3.5zM585.3 212.5h3.5v3.5h-3.5zM585.6 149.8h3.5v3.5h-3.5zM588.5 143.6h3.5v3.5h-3.5zM588.1 165.3h3.5v3.5h-3.5zM587.2 167.5h3.5v3.5h-3.5zM583.5 164.7h3.5v3.5h-3.5zM584.5 128.0h3.5v3.5h-3.5zM584.2 164.9h3.5v3.5h-3.5zM584.1 133.3h3.5v3.5h-3.5zM585.0 125.5h3.5v3.5h-3.5zM581.9 120.6h3.5v3.5h-3.5zM583.7 178.5h3.5v3.5h-3.5zM582.6 147.9h3.5v3.5h-3.5zM588.9 149.2h3.5v3.5h-3.5z"/>
<path fill="#ea6826" d="M583.4 167.7h3.5v3.5h-3.5zM585.7 155.3h3.5v3.5h-3.5zM582.0 145.3h3.5v3.5h-3.5zM585.0 186.0h3.5v3.5h-3.5zM576.3 145.2h3.5v3.5h-3.5zM586.2 134.5h3.5v3.5h-3.5zM587.6 202.5h3.5v3.5h-3.5zM581.1 169.9h3.5v3.5h-3.5z"/>
<path fill="#ef7020" d="M587.6 147.8h3.5v3.5h-3.5zM588.1 175.8h3.5v3.5h-3.5z"/>
<path fill="#f58116" d="M579.8 77.8h3.5v3.5h-3.5z"/>
<g stroke="#6b8e23" stroke-width="1.5" stroke-opacity="0.9" fill="none"><path d="M574.3 120.4V208.5"/><path d="M575.0 122.7V207.8"/><path d="M575.7 119.4V209.9"/><path d="M577.1 117.2V204.2"/><path d="M577.8 115.6V205.9"/><path d="M578.5 119.6V204.9"/><path d="M579.2 115.7V205.3"/><path d="M579.9 114.2V208.4"/><path d="M581.3 111.2V206.8"/><path d="M582.0 115.1V205.0"/><path d="M582.7 119.0V203.4"/><path d="M583.4 113.4V203.6"/><path d="M584.1 111.7V205.7"/><path d="M585.5 116.6V207.9"/><path d="M586.2 116.6V206.2"/><path d="M586.9 111.2V204.1"/><path d="M587.6 112.2V207.6"/><path d="M588.3 111.2V203.3"/><path d="M563.9 122.0V219.4"/><path d="M571.4 130.0V213.6"/><path d="M544.5 171.8H564.0"/><path d="M559.8 171.8H567.8"/><path d="M566.5 170.5H574.5"/><path d="M569.5 168.5H577.5"/><path d="M571.5 167.0H579.5"/><path d="M574.0 167.5H582.0"/><path d="M572.0 169.5H580.0"/><path d="M575.5 167.8H583.5"/><path d="M577.0 165.5H585.0"/><path d="M574.5 165.0H582.5"/><path d="M579.0 166.0H587.0"/><path d="M577.5 163.5H585.5"/><path d="M581.0 164.0H589.0"/><path d="M579.5 162.5H587.5"/><path d="M583.6 161.8H591.6"/></g>
<rect x="560.3" y="168.4" width="6.9" height="6.9" fill="#fff" stroke="#000" stroke-width="1.3"/>
<rect x="567.0" y="167.1" width="6.9" height="6.9" fill="#fff" stroke="#000" stroke-width="1.3"/>
<rect x="570.0" y="165.1" width="6.9" height="6.9" fill="#fff" stroke="#000" stroke-width="1.3"/>
<rect x="572.0" y="163.6" width="6.9" height="6.9" fill="#000" stroke="#000" stroke-width="1.3"/>
<rect x="574.5" y="164.1" width="6.9" height="6.9" fill="#000" stroke="#000" stroke-width="1.3"/>
<rect x="572.5" y="166.1" width="6.9" height="6.9" fill="#fff" stroke="#000" stroke-width="1.3"/>
<rect x="576.0" y="164.4" width="6.9" height="6.9" fill="#fff" stroke="#000" stroke-width="1.3"/>
<rect x="577.5" y="162.1" width="6.9" height="6.9" fill="#000" stroke="#000" stroke-width="1.3"/>
<rect x="575.0" y="161.6" width="6.9" height="6.9" fill="#fff" stroke="#000" stroke-width="1.3"/>
<rect x="579.5" y="162.6" width="6.9" height="6.9" fill="#fff" stroke="#000" stroke-width="1.3"/>
<rect x="578.0" y="160.1" width="6.9" height="6.9" fill="#fff" stroke="#000" stroke-width="1.3"/>
<rect x="581.5" y="160.6" width="6.9" height="6.9" fill="#fff" stroke="#000" stroke-width="1.3"/>
<rect x="580.0" y="159.1" width="6.9" height="6.9" fill="#fff" stroke="#000" stroke-width="1.3"/>
<rect x="584.1" y="158.4" width="6.9" height="6.9" fill="#fff" stroke="#000" stroke-width="1.3"/>
</g>
<path d="M380.4 -2V288.35H667.6V-2" fill="none" stroke="#262626" stroke-width="1.3"/>
<path d="M379.75 0.55H668.25" stroke="#7a7a7a" stroke-width="1.5"/>
<path d="M380.4 288.35v3.5M380.4 288.35h-3.5M405.28 288.35v2.0M380.4 263.47h-2.0M419.83 288.35v2.0M380.4 248.92h-2.0M430.15 288.35v2.0M380.4 238.6h-2.0M438.16 288.35v2.0M380.4 230.59h-2.0M444.7 288.35v2.0M380.4 224.05h-2.0M450.23 288.35v2.0M380.4 218.52h-2.0M455.03 288.35v2.0M380.4 213.72h-2.0M459.25 288.35v2.0M380.4 209.5h-2.0M463.03 288.35v3.5M380.4 205.72h-3.5M487.91 288.35v2.0M380.4 180.84h-2.0M502.46 288.35v2.0M380.4 166.29h-2.0M512.78 288.35v2.0M380.4 155.97h-2.0M520.79 288.35v2.0M380.4 147.96h-2.0M527.33 288.35v2.0M380.4 141.42h-2.0M532.87 288.35v2.0M380.4 135.88h-2.0M537.66 288.35v2.0M380.4 131.09h-2.0M541.88 288.35v2.0M380.4 126.87h-2.0M545.67 288.35v3.5M380.4 123.08h-3.5M570.54 288.35v2.0M380.4 98.21h-2.0M585.09 288.35v2.0M380.4 83.66h-2.0M595.42 288.35v2.0M380.4 73.33h-2.0M603.42 288.35v2.0M380.4 65.33h-2.0M609.97 288.35v2.0M380.4 58.78h-2.0M615.5 288.35v2.0M380.4 53.25h-2.0M620.29 288.35v2.0M380.4 48.46h-2.0M624.52 288.35v2.0M380.4 44.23h-2.0M628.3 288.35v3.5M380.4 40.45h-3.5M653.17 288.35v2.0M380.4 15.58h-2.0M667.73 288.35v2.0M380.4 1.02h-2.0" stroke="#262626" stroke-width="1" fill="none"/>
<text x="378.6" y="303.95" font-size="10.8" text-anchor="middle" fill="#1a1a1a">10<tspan font-size="7.7" dx="1.1" dy="-3.9">−1</tspan></text>
<text x="368.9" y="291.95" font-size="10.8" text-anchor="end" fill="#1a1a1a">10<tspan font-size="7.7" dx="1.3" dy="-4.1">−1</tspan></text>
<text x="462.23" y="303.95" font-size="10.8" text-anchor="middle" fill="#1a1a1a">10<tspan font-size="7.7" dx="1.1" dy="-3.9">0</tspan></text>
<text x="371.4" y="209.32" font-size="10.8" text-anchor="end" fill="#1a1a1a">10<tspan font-size="7.7" dx="1.3" dy="-4.1">0</tspan></text>
<text x="544.87" y="303.95" font-size="10.8" text-anchor="middle" fill="#1a1a1a">10<tspan font-size="7.7" dx="1.1" dy="-3.9">1</tspan></text>
<text x="371.4" y="126.68" font-size="10.8" text-anchor="end" fill="#1a1a1a">10<tspan font-size="7.7" dx="1.3" dy="-4.1">1</tspan></text>
<text x="627.5" y="303.95" font-size="10.8" text-anchor="middle" fill="#1a1a1a">10<tspan font-size="7.7" dx="1.1" dy="-3.9">2</tspan></text>
<text x="371.4" y="44.05" font-size="10.8" text-anchor="end" fill="#1a1a1a">10<tspan font-size="7.7" dx="1.3" dy="-4.1">2</tspan></text>
<g clip-path="url(#clipc)">
<line x1="44.8" y1="518.7" x2="414.6" y2="148.91" stroke="#a9a9a9" stroke-width="1.1" stroke-dasharray="5.4 3"/>
<line x1="44.8" y1="551.57" x2="414.6" y2="181.77" stroke="#a9a9a9" stroke-width="1.1" stroke-dasharray="5.4 3"/>
<line x1="44.8" y1="576.44" x2="414.6" y2="206.64" stroke="#a9a9a9" stroke-width="1.1" stroke-dasharray="5.4 3"/>
<line x1="44.8" y1="601.3" x2="414.6" y2="231.5" stroke="#000" stroke-width="1.5" stroke-dasharray="5.6 2.7"/>
<line x1="44.8" y1="626.16" x2="414.6" y2="256.37" stroke="#a9a9a9" stroke-width="1.1" stroke-dasharray="5.4 3"/>
<line x1="44.8" y1="651.03" x2="414.6" y2="281.23" stroke="#a9a9a9" stroke-width="1.1" stroke-dasharray="5.4 3"/>
<line x1="44.8" y1="683.9" x2="414.6" y2="314.1" stroke="#a9a9a9" stroke-width="1.1" stroke-dasharray="5.4 3"/>
<path fill="#04020f" d="M160.2 506.7h3.5v3.5h-3.5z"/>
<path fill="#090419" d="M159.6 459.7h3.5v3.5h-3.5zM157.3 513.9h3.5v3.5h-3.5zM159.0 503.9h3.5v3.5h-3.5zM164.1 516.3h3.5v3.5h-3.5zM157.8 526.2h3.5v3.5h-3.5zM157.7 450.7h3.5v3.5h-3.5z"/>
<path fill="#0d0724" d="M159.7 535.4h3.5v3.5h-3.5zM162.4 517.1h3.5v3.5h-3.5zM157.2 503.7h3.5v3.5h-3.5zM159.7 526.5h3.5v3.5h-3.5zM156.8 483.3h3.5v3.5h-3.5zM159.3 546.2h3.5v3.5h-3.5zM158.1 527.8h3.5v3.5h-3.5zM157.8 503.4h3.5v3.5h-3.5zM156.6 526.8h3.5v3.5h-3.5zM156.8 527.4h3.5v3.5h-3.5zM160.2 469.2h3.5v3.5h-3.5zM156.8 528.9h3.5v3.5h-3.5zM166.4 515.2h3.5v3.5h-3.5zM162.2 511.3h3.5v3.5h-3.5zM162.7 514.2h3.5v3.5h-3.5zM159.6 553.3h3.5v3.5h-3.5zM160.5 494.0h3.5v3.5h-3.5z"/>
<path fill="#12092e" d="M160.4 501.0h3.5v3.5h-3.5zM160.4 525.7h3.5v3.5h-3.5zM167.0 527.6h3.5v3.5h-3.5zM157.0 499.2h3.5v3.5h-3.5zM157.4 466.6h3.5v3.5h-3.5zM157.3 500.9h3.5v3.5h-3.5zM159.4 478.8h3.5v3.5h-3.5zM158.6 490.8h3.5v3.5h-3.5zM163.5 475.4h3.5v3.5h-3.5zM158.5 522.1h3.5v3.5h-3.5zM163.7 530.6h3.5v3.5h-3.5zM161.1 519.4h3.5v3.5h-3.5zM157.4 487.1h3.5v3.5h-3.5zM159.2 475.2h3.5v3.5h-3.5zM170.5 492.3h3.5v3.5h-3.5zM168.6 499.7h3.5v3.5h-3.5zM163.4 525.8h3.5v3.5h-3.5zM159.7 468.0h3.5v3.5h-3.5zM168.0 492.0h3.5v3.5h-3.5zM162.4 494.7h3.5v3.5h-3.5zM157.2 511.3h3.5v3.5h-3.5zM174.8 420.2h3.5v3.5h-3.5zM166.2 436.2h3.5v3.5h-3.5z"/>
<path fill="#160b39" d="M160.9 491.6h3.5v3.5h-3.5zM160.3 500.5h3.5v3.5h-3.5zM158.4 445.5h3.5v3.5h-3.5zM166.7 507.0h3.5v3.5h-3.5zM158.1 494.4h3.5v3.5h-3.5zM159.5 509.5h3.5v3.5h-3.5zM158.2 501.9h3.5v3.5h-3.5zM167.3 481.0h3.5v3.5h-3.5zM160.9 535.2h3.5v3.5h-3.5zM159.6 491.5h3.5v3.5h-3.5zM169.5 527.0h3.5v3.5h-3.5zM164.1 534.1h3.5v3.5h-3.5zM161.5 523.1h3.5v3.5h-3.5zM165.3 525.0h3.5v3.5h-3.5zM157.3 491.4h3.5v3.5h-3.5zM157.1 499.0h3.5v3.5h-3.5zM160.3 505.1h3.5v3.5h-3.5zM164.7 537.4h3.5v3.5h-3.5zM159.2 530.4h3.5v3.5h-3.5zM166.9 489.1h3.5v3.5h-3.5zM160.0 466.3h3.5v3.5h-3.5zM160.2 502.3h3.5v3.5h-3.5zM160.2 464.7h3.5v3.5h-3.5zM161.4 490.5h3.5v3.5h-3.5zM159.7 495.9h3.5v3.5h-3.5zM165.8 551.0h3.5v3.5h-3.5zM159.3 500.9h3.5v3.5h-3.5zM160.0 514.2h3.5v3.5h-3.5zM157.6 510.0h3.5v3.5h-3.5zM161.2 529.6h3.5v3.5h-3.5zM160.4 486.2h3.5v3.5h-3.5zM157.6 526.7h3.5v3.5h-3.5zM173.4 523.2h3.5v3.5h-3.5zM164.2 515.3h3.5v3.5h-3.5zM158.2 518.3h3.5v3.5h-3.5zM176.4 528.7h3.5v3.5h-3.5zM157.7 490.9h3.5v3.5h-3.5zM158.9 552.8h3.5v3.5h-3.5zM158.6 538.4h3.5v3.5h-3.5zM166.4 477.0h3.5v3.5h-3.5zM168.0 520.1h3.5v3.5h-3.5zM168.3 496.5h3.5v3.5h-3.5zM158.6 511.1h3.5v3.5h-3.5zM169.7 479.2h3.5v3.5h-3.5zM161.1 504.7h3.5v3.5h-3.5zM168.2 426.2h3.5v3.5h-3.5zM176.8 432.2h3.5v3.5h-3.5zM171.2 439.2h3.5v3.5h-3.5z"/>
<path fill="#1f0b42" d="M160.2 498.6h3.5v3.5h-3.5zM174.4 516.7h3.5v3.5h-3.5zM174.9 501.8h3.5v3.5h-3.5zM173.3 521.8h3.5v3.5h-3.5zM168.7 491.4h3.5v3.5h-3.5zM162.4 513.4h3.5v3.5h-3.5zM161.6 487.1h3.5v3.5h-3.5zM168.2 481.0h3.5v3.5h-3.5zM173.3 539.0h3.5v3.5h-3.5zM161.3 475.6h3.5v3.5h-3.5zM166.2 491.4h3.5v3.5h-3.5zM160.5 508.4h3.5v3.5h-3.5zM159.3 489.5h3.5v3.5h-3.5zM157.6 500.6h3.5v3.5h-3.5zM164.2 481.7h3.5v3.5h-3.5zM158.0 529.4h3.5v3.5h-3.5zM169.0 531.8h3.5v3.5h-3.5zM165.5 524.8h3.5v3.5h-3.5zM165.9 530.0h3.5v3.5h-3.5zM161.6 510.3h3.5v3.5h-3.5zM163.5 508.0h3.5v3.5h-3.5zM171.0 509.8h3.5v3.5h-3.5zM171.4 500.5h3.5v3.5h-3.5zM163.6 501.4h3.5v3.5h-3.5zM173.8 507.5h3.5v3.5h-3.5zM165.9 491.8h3.5v3.5h-3.5zM177.1 544.0h3.5v3.5h-3.5zM174.4 484.4h3.5v3.5h-3.5zM164.2 503.9h3.5v3.5h-3.5zM173.1 504.2h3.5v3.5h-3.5zM159.5 502.5h3.5v3.5h-3.5zM177.4 502.6h3.5v3.5h-3.5zM160.1 499.1h3.5v3.5h-3.5zM166.7 479.3h3.5v3.5h-3.5zM169.9 504.8h3.5v3.5h-3.5zM161.3 500.2h3.5v3.5h-3.5zM169.3 488.9h3.5v3.5h-3.5zM168.2 522.2h3.5v3.5h-3.5zM164.6 509.0h3.5v3.5h-3.5zM167.5 479.8h3.5v3.5h-3.5zM164.6 518.8h3.5v3.5h-3.5zM168.8 478.6h3.5v3.5h-3.5zM166.4 528.4h3.5v3.5h-3.5zM169.4 523.9h3.5v3.5h-3.5zM162.1 507.7h3.5v3.5h-3.5zM171.0 467.7h3.5v3.5h-3.5zM164.0 486.6h3.5v3.5h-3.5zM170.7 503.7h3.5v3.5h-3.5zM173.2 483.4h3.5v3.5h-3.5zM168.4 508.2h3.5v3.5h-3.5zM165.5 495.8h3.5v3.5h-3.5zM164.0 487.6h3.5v3.5h-3.5zM156.5 533.8h3.5v3.5h-3.5zM164.8 469.2h3.5v3.5h-3.5zM168.3 507.5h3.5v3.5h-3.5zM158.7 502.5h3.5v3.5h-3.5zM165.5 504.6h3.5v3.5h-3.5zM170.3 458.9h3.5v3.5h-3.5zM158.4 537.5h3.5v3.5h-3.5zM160.3 536.3h3.5v3.5h-3.5zM170.2 417.2h3.5v3.5h-3.5zM179.2 441.2h3.5v3.5h-3.5z"/>
<path fill="#280b4c" d="M163.3 526.2h3.5v3.5h-3.5zM166.1 501.4h3.5v3.5h-3.5zM176.7 494.3h3.5v3.5h-3.5zM168.9 473.3h3.5v3.5h-3.5zM172.6 553.8h3.5v3.5h-3.5zM174.6 543.5h3.5v3.5h-3.5zM162.4 531.5h3.5v3.5h-3.5zM158.9 523.9h3.5v3.5h-3.5zM165.9 487.7h3.5v3.5h-3.5zM168.2 518.6h3.5v3.5h-3.5zM173.3 547.6h3.5v3.5h-3.5zM174.5 505.0h3.5v3.5h-3.5zM162.2 503.3h3.5v3.5h-3.5zM164.4 535.8h3.5v3.5h-3.5zM163.1 485.2h3.5v3.5h-3.5zM176.1 473.2h3.5v3.5h-3.5zM160.4 498.2h3.5v3.5h-3.5zM169.3 484.4h3.5v3.5h-3.5zM174.5 501.6h3.5v3.5h-3.5zM170.1 469.9h3.5v3.5h-3.5zM170.3 464.7h3.5v3.5h-3.5zM166.0 516.1h3.5v3.5h-3.5zM159.9 521.6h3.5v3.5h-3.5zM168.9 529.9h3.5v3.5h-3.5zM167.9 499.2h3.5v3.5h-3.5zM157.9 455.9h3.5v3.5h-3.5zM176.2 549.2h3.5v3.5h-3.5zM169.5 457.3h3.5v3.5h-3.5zM171.2 497.3h3.5v3.5h-3.5zM162.1 500.0h3.5v3.5h-3.5zM166.5 518.9h3.5v3.5h-3.5zM172.4 510.0h3.5v3.5h-3.5zM170.7 540.7h3.5v3.5h-3.5zM165.9 515.0h3.5v3.5h-3.5zM172.6 503.3h3.5v3.5h-3.5zM177.2 498.7h3.5v3.5h-3.5zM175.4 501.5h3.5v3.5h-3.5zM158.1 485.9h3.5v3.5h-3.5zM172.0 520.5h3.5v3.5h-3.5zM164.6 491.0h3.5v3.5h-3.5zM165.5 515.2h3.5v3.5h-3.5zM159.9 510.9h3.5v3.5h-3.5zM171.8 480.6h3.5v3.5h-3.5zM162.4 504.8h3.5v3.5h-3.5zM172.5 461.8h3.5v3.5h-3.5zM165.7 498.7h3.5v3.5h-3.5zM175.4 503.9h3.5v3.5h-3.5zM168.3 474.4h3.5v3.5h-3.5zM170.4 452.8h3.5v3.5h-3.5zM160.0 508.5h3.5v3.5h-3.5zM165.4 502.7h3.5v3.5h-3.5zM170.6 520.3h3.5v3.5h-3.5zM173.3 480.4h3.5v3.5h-3.5zM173.1 499.0h3.5v3.5h-3.5zM167.6 471.5h3.5v3.5h-3.5zM176.8 490.0h3.5v3.5h-3.5zM174.5 481.7h3.5v3.5h-3.5zM169.8 503.9h3.5v3.5h-3.5zM160.2 507.0h3.5v3.5h-3.5zM169.4 505.2h3.5v3.5h-3.5zM163.4 509.6h3.5v3.5h-3.5zM173.4 516.9h3.5v3.5h-3.5zM168.9 537.1h3.5v3.5h-3.5zM161.6 498.7h3.5v3.5h-3.5zM166.2 481.7h3.5v3.5h-3.5zM176.2 373.4h3.5v3.5h-3.5zM161.2 448.2h3.5v3.5h-3.5z"/>
<path fill="#300a55" d="M168.6 511.9h3.5v3.5h-3.5zM167.9 502.3h3.5v3.5h-3.5zM169.6 486.4h3.5v3.5h-3.5zM177.2 467.8h3.5v3.5h-3.5zM176.5 490.0h3.5v3.5h-3.5zM169.5 515.5h3.5v3.5h-3.5zM166.3 491.3h3.5v3.5h-3.5zM168.9 485.7h3.5v3.5h-3.5zM170.1 497.3h3.5v3.5h-3.5zM169.0 515.6h3.5v3.5h-3.5zM168.5 507.1h3.5v3.5h-3.5zM175.2 521.5h3.5v3.5h-3.5zM167.2 496.8h3.5v3.5h-3.5zM163.4 483.7h3.5v3.5h-3.5zM165.8 523.5h3.5v3.5h-3.5zM160.7 514.0h3.5v3.5h-3.5zM165.0 475.9h3.5v3.5h-3.5zM167.9 521.9h3.5v3.5h-3.5zM174.4 518.0h3.5v3.5h-3.5zM161.3 490.4h3.5v3.5h-3.5zM173.0 469.8h3.5v3.5h-3.5zM177.6 502.1h3.5v3.5h-3.5zM173.8 492.2h3.5v3.5h-3.5zM173.2 528.3h3.5v3.5h-3.5zM169.0 514.2h3.5v3.5h-3.5zM173.8 539.6h3.5v3.5h-3.5zM175.5 522.5h3.5v3.5h-3.5zM172.0 487.6h3.5v3.5h-3.5zM173.0 518.4h3.5v3.5h-3.5zM169.6 521.7h3.5v3.5h-3.5zM173.6 497.7h3.5v3.5h-3.5zM174.8 546.6h3.5v3.5h-3.5zM167.7 513.0h3.5v3.5h-3.5zM173.1 504.5h3.5v3.5h-3.5zM176.6 466.5h3.5v3.5h-3.5zM165.8 519.3h3.5v3.5h-3.5zM169.8 494.6h3.5v3.5h-3.5zM173.1 503.1h3.5v3.5h-3.5zM175.8 515.8h3.5v3.5h-3.5zM172.0 486.9h3.5v3.5h-3.5zM168.2 483.8h3.5v3.5h-3.5zM165.9 520.1h3.5v3.5h-3.5zM175.9 472.8h3.5v3.5h-3.5zM165.6 500.3h3.5v3.5h-3.5zM170.5 522.0h3.5v3.5h-3.5zM175.1 509.9h3.5v3.5h-3.5zM163.9 510.3h3.5v3.5h-3.5zM168.4 466.6h3.5v3.5h-3.5z"/>
<path fill="#390a5f" d="M176.1 518.9h3.5v3.5h-3.5zM177.7 491.1h3.5v3.5h-3.5zM177.4 476.3h3.5v3.5h-3.5zM171.9 504.1h3.5v3.5h-3.5zM175.3 473.9h3.5v3.5h-3.5zM175.9 465.1h3.5v3.5h-3.5zM176.6 502.0h3.5v3.5h-3.5zM173.9 505.3h3.5v3.5h-3.5zM175.7 499.9h3.5v3.5h-3.5zM173.6 465.0h3.5v3.5h-3.5zM176.8 485.2h3.5v3.5h-3.5zM176.9 491.7h3.5v3.5h-3.5zM177.8 502.7h3.5v3.5h-3.5zM169.7 485.6h3.5v3.5h-3.5zM162.3 481.9h3.5v3.5h-3.5zM177.2 476.6h3.5v3.5h-3.5zM172.6 521.2h3.5v3.5h-3.5zM173.5 512.9h3.5v3.5h-3.5zM171.6 507.0h3.5v3.5h-3.5zM172.6 543.7h3.5v3.5h-3.5zM171.5 521.6h3.5v3.5h-3.5zM175.6 489.0h3.5v3.5h-3.5zM174.9 456.3h3.5v3.5h-3.5zM173.9 511.4h3.5v3.5h-3.5zM173.0 516.2h3.5v3.5h-3.5zM175.2 467.1h3.5v3.5h-3.5zM168.4 531.7h3.5v3.5h-3.5zM175.8 528.5h3.5v3.5h-3.5zM172.2 528.5h3.5v3.5h-3.5zM177.5 485.4h3.5v3.5h-3.5z"/>
<path fill="#420a68" d="M171.2 520.4h3.5v3.5h-3.5zM175.4 530.8h3.5v3.5h-3.5zM175.6 476.9h3.5v3.5h-3.5zM177.8 532.6h3.5v3.5h-3.5zM176.4 518.2h3.5v3.5h-3.5zM172.1 525.4h3.5v3.5h-3.5zM173.8 484.5h3.5v3.5h-3.5zM176.3 479.6h3.5v3.5h-3.5zM170.2 544.6h3.5v3.5h-3.5zM170.9 486.9h3.5v3.5h-3.5zM175.8 496.0h3.5v3.5h-3.5zM176.5 536.1h3.5v3.5h-3.5zM159.2 514.3h3.5v3.5h-3.5zM176.6 537.0h3.5v3.5h-3.5zM177.7 500.7h3.5v3.5h-3.5zM165.2 550.0h3.5v3.5h-3.5zM176.3 474.9h3.5v3.5h-3.5zM173.1 473.0h3.5v3.5h-3.5z"/>
<path fill="#4a0d69" d="M176.1 526.6h3.5v3.5h-3.5zM163.6 482.7h3.5v3.5h-3.5zM170.2 533.9h3.5v3.5h-3.5zM177.5 485.4h3.5v3.5h-3.5zM169.9 506.0h3.5v3.5h-3.5zM170.8 533.0h3.5v3.5h-3.5z"/>
<path fill="#520f6a" d="M176.4 548.3h3.5v3.5h-3.5zM171.9 510.4h3.5v3.5h-3.5zM175.9 489.1h3.5v3.5h-3.5z"/>
<path fill="#6a176e" d="M184.3 453.9h3.5v3.5h-3.5z"/>
<path fill="#721a6d" d="M187.6 477.6h3.5v3.5h-3.5z"/>
<path fill="#932667" d="M190.3 475.6h3.5v3.5h-3.5z"/>
<path fill="#9b2963" d="M197.9 418.9h3.5v3.5h-3.5zM211.8 428.4h3.5v3.5h-3.5zM211.3 453.4h3.5v3.5h-3.5zM197.2 473.4h3.5v3.5h-3.5zM203.2 479.2h3.5v3.5h-3.5z"/>
<path fill="#a32d5f" d="M209.2 461.4h3.5v3.5h-3.5zM216.8 475.9h3.5v3.5h-3.5zM214.2 481.2h3.5v3.5h-3.5z"/>
<path fill="#b43458" d="M218.9 462.6h3.5v3.5h-3.5z"/>
<path fill="#bc3754" d="M221.8 477.1h3.5v3.5h-3.5z"/>
<path fill="#c33c4f" d="M200.6 440.4h3.5v3.5h-3.5zM221.8 506.1h3.5v3.5h-3.5zM224.9 507.4h3.5v3.5h-3.5z"/>
<path fill="#d04744" d="M235.3 506.1h3.5v3.5h-3.5z"/>
<path fill="#d64c3f" d="M238.6 408.6h3.5v3.5h-3.5zM238.6 412.9h3.5v3.5h-3.5zM238.3 464.6h3.5v3.5h-3.5zM238.3 474.4h3.5v3.5h-3.5zM238.3 488.4h3.5v3.5h-3.5z"/>
<path fill="#dd513a" d="M238.6 417.1h3.5v3.5h-3.5z"/>
<path fill="#e15933" d="M240.1 471.6h3.5v3.5h-3.5z"/>
<path fill="#f37819" d="M241.7 422.6h3.5v3.5h-3.5z"/>
<path fill="#f78a13" d="M244.4 399.9h3.5v3.5h-3.5zM243.8 416.8h3.5v3.5h-3.5zM245.9 461.1h3.5v3.5h-3.5zM248.1 516.5h3.5v3.5h-3.5z"/>
<path fill="#f89310" d="M243.8 387.4h3.5v3.5h-3.5zM247.4 405.9h3.5v3.5h-3.5zM244.8 418.2h3.5v3.5h-3.5zM251.9 430.8h3.5v3.5h-3.5zM253.1 439.4h3.5v3.5h-3.5zM249.7 442.4h3.5v3.5h-3.5z"/>
<path fill="#fbaf16" d="M229.8 464.2h3.5v3.5h-3.5z"/>
<path fill="#f8c32e" d="M234.4 405.2h3.5v3.5h-3.5zM232.9 438.4h3.5v3.5h-3.5zM228.2 453.9h3.5v3.5h-3.5zM227.9 470.8h3.5v3.5h-3.5zM227.2 488.9h3.5v3.5h-3.5z"/>
<path fill="#f7df59" d="M229.2 449.6h3.5v3.5h-3.5z"/>
<g stroke="#6b8e23" stroke-width="1.5" stroke-opacity="0.9" fill="none"><path d="M167.7 459.0V545.5"/><path d="M181.4 442.7V538.0"/><path d="M210.9 416.7V524.8"/><path d="M243.4 403.8V498.9"/><path d="M161.0 502.3H175.0"/><path d="M167.7 496.8H213.7"/><path d="M175.0 480.1H245.5"/><path d="M234.3 431.2H252.4"/></g>
<rect x="164.2" y="498.8" width="7.1" height="7.1" fill="#fff" stroke="#000" stroke-width="1.3"/>
<rect x="177.9" y="493.2" width="7.1" height="7.1" fill="#fff" stroke="#000" stroke-width="1.3"/>
<rect x="207.4" y="476.6" width="7.1" height="7.1" fill="#fff" stroke="#000" stroke-width="1.3"/>
<rect x="239.9" y="427.6" width="7.1" height="7.1" fill="#fff" stroke="#000" stroke-width="1.3"/>
</g>
<rect x="44.8" y="314.2" width="287.3" height="287.1" fill="none" stroke="#262626" stroke-width="1.3"/>
<path d="M44.8 601.3v3.5M44.8 601.3h-3.5M69.66 601.3v2.0M44.8 576.44h-2.0M84.21 601.3v2.0M44.8 561.89h-2.0M94.53 601.3v2.0M44.8 551.57h-2.0M102.53 601.3v2.0M44.8 543.57h-2.0M109.07 601.3v2.0M44.8 537.03h-2.0M114.6 601.3v2.0M44.8 531.5h-2.0M119.39 601.3v2.0M44.8 526.71h-2.0M123.62 601.3v2.0M44.8 522.48h-2.0M127.4 601.3v3.5M44.8 518.7h-3.5M152.26 601.3v2.0M44.8 493.84h-2.0M166.81 601.3v2.0M44.8 479.29h-2.0M177.13 601.3v2.0M44.8 468.97h-2.0M185.13 601.3v2.0M44.8 460.97h-2.0M191.67 601.3v2.0M44.8 454.43h-2.0M197.2 601.3v2.0M44.8 448.9h-2.0M201.99 601.3v2.0M44.8 444.11h-2.0M206.21 601.3v2.0M44.8 439.89h-2.0M209.99 601.3v3.5M44.8 436.11h-3.5M234.86 601.3v2.0M44.8 411.24h-2.0M249.4 601.3v2.0M44.8 396.7h-2.0M259.72 601.3v2.0M44.8 386.38h-2.0M267.73 601.3v2.0M44.8 378.37h-2.0M274.27 601.3v2.0M44.8 371.83h-2.0M279.8 601.3v2.0M44.8 366.3h-2.0M284.59 601.3v2.0M44.8 361.51h-2.0M288.81 601.3v2.0M44.8 357.29h-2.0M292.59 601.3v3.5M44.8 353.51h-3.5M317.46 601.3v2.0M44.8 328.64h-2.0M332 601.3v2.0M44.8 314.1h-2.0" stroke="#262626" stroke-width="1" fill="none"/>
<text x="43" y="616.9" font-size="10.8" text-anchor="middle" fill="#1a1a1a">10<tspan font-size="7.7" dx="1.1" dy="-3.9">−1</tspan></text>
<text x="33.3" y="604.9" font-size="10.8" text-anchor="end" fill="#1a1a1a">10<tspan font-size="7.7" dx="1.3" dy="-4.1">−1</tspan></text>
<text x="126.6" y="616.9" font-size="10.8" text-anchor="middle" fill="#1a1a1a">10<tspan font-size="7.7" dx="1.1" dy="-3.9">0</tspan></text>
<text x="35.8" y="522.3" font-size="10.8" text-anchor="end" fill="#1a1a1a">10<tspan font-size="7.7" dx="1.3" dy="-4.1">0</tspan></text>
<text x="209.19" y="616.9" font-size="10.8" text-anchor="middle" fill="#1a1a1a">10<tspan font-size="7.7" dx="1.1" dy="-3.9">1</tspan></text>
<text x="35.8" y="439.71" font-size="10.8" text-anchor="end" fill="#1a1a1a">10<tspan font-size="7.7" dx="1.3" dy="-4.1">1</tspan></text>
<text x="291.79" y="616.9" font-size="10.8" text-anchor="middle" fill="#1a1a1a">10<tspan font-size="7.7" dx="1.1" dy="-3.9">2</tspan></text>
<text x="35.8" y="357.11" font-size="10.8" text-anchor="end" fill="#1a1a1a">10<tspan font-size="7.7" dx="1.3" dy="-4.1">2</tspan></text>
<g clip-path="url(#clipd)">
<line x1="381.3" y1="519.67" x2="751.23" y2="149.75" stroke="#a9a9a9" stroke-width="1.1" stroke-dasharray="5.4 3"/>
<line x1="381.3" y1="552.55" x2="751.23" y2="182.63" stroke="#a9a9a9" stroke-width="1.1" stroke-dasharray="5.4 3"/>
<line x1="381.3" y1="577.43" x2="751.23" y2="207.5" stroke="#a9a9a9" stroke-width="1.1" stroke-dasharray="5.4 3"/>
<line x1="381.3" y1="602.3" x2="751.23" y2="232.37" stroke="#000" stroke-width="1.5" stroke-dasharray="5.6 2.7"/>
<line x1="381.3" y1="627.17" x2="751.23" y2="257.25" stroke="#a9a9a9" stroke-width="1.1" stroke-dasharray="5.4 3"/>
<line x1="381.3" y1="652.05" x2="751.23" y2="282.12" stroke="#a9a9a9" stroke-width="1.1" stroke-dasharray="5.4 3"/>
<line x1="381.3" y1="684.93" x2="751.23" y2="315" stroke="#a9a9a9" stroke-width="1.1" stroke-dasharray="5.4 3"/>
<path fill="#8b2368" d="M564.4 487.6h3.8v3.8h-3.8z"/>
<path fill="#932667" d="M560.1 438.9h3.8v3.8h-3.8z"/>
<path fill="#9b2963" d="M563.8 471.0h3.8v3.8h-3.8zM569.7 488.6h3.8v3.8h-3.8z"/>
<path fill="#a32d5f" d="M563.8 442.8h3.8v3.8h-3.8zM567.1 465.6h3.8v3.8h-3.8z"/>
<path fill="#c9414a" d="M572.6 428.2h3.8v3.8h-3.8zM580.4 436.0h3.8v3.8h-3.8zM576.1 450.6h3.8v3.8h-3.8zM574.9 466.7h3.8v3.8h-3.8zM576.5 494.4h3.8v3.8h-3.8z"/>
<path fill="#d04744" d="M581.9 408.3h3.8v3.8h-3.8zM578.0 418.0h3.8v3.8h-3.8zM571.6 474.9h3.8v3.8h-3.8zM582.7 487.6h3.8v3.8h-3.8zM572.6 482.7h3.8v3.8h-3.8zM578.1 508.1h3.8v3.8h-3.8z"/>
<path fill="#d64c3f" d="M584.9 422.7h3.8v3.8h-3.8zM584.9 427.6h3.8v3.8h-3.8zM581.3 441.8h3.8v3.8h-3.8zM575.1 446.7h3.8v3.8h-3.8zM577.5 460.3h3.8v3.8h-3.8zM581.3 468.7h3.8v3.8h-3.8zM583.3 501.2h3.8v3.8h-3.8zM578.8 505.1h3.8v3.8h-3.8zM578.1 514.9h3.8v3.8h-3.8zM580.0 517.8h3.8v3.8h-3.8zM579.9 562.9h3.8v3.8h-3.8zM576.6 428.1h3.8v3.8h-3.8zM579.1 444.1h3.8v3.8h-3.8z"/>
<path fill="#dd513a" d="M587.8 397.0h3.8v3.8h-3.8zM582.7 438.9h3.8v3.8h-3.8zM577.5 487.0h3.8v3.8h-3.8zM580.4 489.5h3.8v3.8h-3.8zM581.3 494.8h3.8v3.8h-3.8zM577.5 499.3h3.8v3.8h-3.8zM575.5 480.8h3.8v3.8h-3.8z"/>
<path fill="#e15933" d="M577.5 434.0h3.8v3.8h-3.8zM573.6 488.2h3.8v3.8h-3.8z"/>
<path fill="#e6612d" d="M577.5 456.4h3.8v3.8h-3.8z"/>
<g stroke="#6b8e23" stroke-width="1.5" stroke-opacity="0.9" fill="none"><path d="M579.9 422.3V518.7"/><path d="M566.3 480.3H586.2"/></g>
<rect x="576.6" y="477.1" width="6.5" height="6.5" fill="#fff" stroke="#000" stroke-width="1.3"/>
</g>
<rect x="381.3" y="314.9" width="287.2" height="287.4" fill="none" stroke="#262626" stroke-width="1.3"/>
<path d="M381.3 602.3v3.5M381.3 602.3h-3.5M406.17 602.3v2.0M381.3 577.43h-2.0M420.72 602.3v2.0M381.3 562.88h-2.0M431.05 602.3v2.0M381.3 552.55h-2.0M439.05 602.3v2.0M381.3 544.55h-2.0M445.6 602.3v2.0M381.3 538h-2.0M451.13 602.3v2.0M381.3 532.47h-2.0M455.92 602.3v2.0M381.3 527.68h-2.0M460.15 602.3v2.0M381.3 523.45h-2.0M463.93 602.3v3.5M381.3 519.67h-3.5M488.8 602.3v2.0M381.3 494.8h-2.0M503.35 602.3v2.0M381.3 480.25h-2.0M513.67 602.3v2.0M381.3 469.93h-2.0M521.68 602.3v2.0M381.3 461.92h-2.0M528.22 602.3v2.0M381.3 455.38h-2.0M533.75 602.3v2.0M381.3 449.85h-2.0M538.54 602.3v2.0M381.3 445.06h-2.0M542.77 602.3v2.0M381.3 440.83h-2.0M546.55 602.3v3.5M381.3 437.05h-3.5M571.42 602.3v2.0M381.3 412.18h-2.0M585.97 602.3v2.0M381.3 397.63h-2.0M596.3 602.3v2.0M381.3 387.3h-2.0M604.3 602.3v2.0M381.3 379.3h-2.0M610.85 602.3v2.0M381.3 372.75h-2.0M616.38 602.3v2.0M381.3 367.22h-2.0M621.17 602.3v2.0M381.3 362.43h-2.0M625.4 602.3v2.0M381.3 358.2h-2.0M629.18 602.3v3.5M381.3 354.42h-3.5M654.05 602.3v2.0M381.3 329.55h-2.0M668.6 602.3v2.0M381.3 315h-2.0" stroke="#262626" stroke-width="1" fill="none"/>
<text x="379.5" y="617.9" font-size="10.8" text-anchor="middle" fill="#1a1a1a">10<tspan font-size="7.7" dx="1.1" dy="-3.9">−1</tspan></text>
<text x="369.8" y="605.9" font-size="10.8" text-anchor="end" fill="#1a1a1a">10<tspan font-size="7.7" dx="1.3" dy="-4.1">−1</tspan></text>
<text x="463.13" y="617.9" font-size="10.8" text-anchor="middle" fill="#1a1a1a">10<tspan font-size="7.7" dx="1.1" dy="-3.9">0</tspan></text>
<text x="372.3" y="523.27" font-size="10.8" text-anchor="end" fill="#1a1a1a">10<tspan font-size="7.7" dx="1.3" dy="-4.1">0</tspan></text>
<text x="545.75" y="617.9" font-size="10.8" text-anchor="middle" fill="#1a1a1a">10<tspan font-size="7.7" dx="1.1" dy="-3.9">1</tspan></text>
<text x="372.3" y="440.65" font-size="10.8" text-anchor="end" fill="#1a1a1a">10<tspan font-size="7.7" dx="1.3" dy="-4.1">1</tspan></text>
<text x="628.38" y="617.9" font-size="10.8" text-anchor="middle" fill="#1a1a1a">10<tspan font-size="7.7" dx="1.1" dy="-3.9">2</tspan></text>
<text x="372.3" y="358.02" font-size="10.8" text-anchor="end" fill="#1a1a1a">10<tspan font-size="7.7" dx="1.3" dy="-4.1">2</tspan></text>
<text transform="translate(14.3 131.4) rotate(-90)" font-size="18.85" text-anchor="middle" fill="#000">Stress Drop [MPa]</text>
<text transform="translate(14.3 441.4) rotate(-90)" font-size="18.85" text-anchor="middle" fill="#000">Stress Drop [MPa]</text>
<text x="188.4" y="634.5" font-size="18.5" text-anchor="middle" fill="#000">Modeled maximum shear stress [MPa]</text>
<text x="524.9" y="635.5" font-size="18.5" text-anchor="middle" fill="#000">Modeled maximum shear stress [MPa]</text>
<text x="47.6" y="69.3" font-size="16.5" fill="#333">a)</text>
<text x="385.8" y="17.9" font-size="16" fill="#333">b)</text>
<text x="48" y="329.5" font-size="16" fill="#333">c)</text>
<text x="385.3" y="329.8" font-size="16" fill="#333">d)</text>
<text x="329" y="261.1" font-size="16.3" text-anchor="end" fill="#333" font-style="italic"># of events: 3179</text>
<text x="329" y="273.5" font-size="16.3" text-anchor="end" fill="#333"><tspan font-style="italic">r-value</tspan> = 0.96</text>
<text x="329" y="284.8" font-size="16.3" text-anchor="end" fill="#333"><tspan font-weight="bold" font-style="italic" fill="#222">Iw:</tspan> all Δσ estimates</text>
<text x="665.3" y="261.2" font-size="16.3" text-anchor="end" fill="#333" font-style="italic"># of events: 2440</text>
<text x="665.3" y="273.1" font-size="16.3" text-anchor="end" fill="#333"><tspan font-style="italic">r-value</tspan> = 0.88</text>
<text x="665.3" y="284.4" font-size="16.3" text-anchor="end" fill="#333"><tspan font-weight="bold" font-style="italic" fill="#222">Se:</tspan> all Δσ estimates</text>
<text x="328" y="571.7" font-size="16.3" text-anchor="end" fill="#333" font-style="italic"># of events: 331</text>
<text x="328" y="585.5" font-size="16.3" text-anchor="end" fill="#333"><tspan font-style="italic">r-value</tspan> = 0.98</text>
<text x="328" y="596.5" font-size="16.3" text-anchor="end" fill="#333"><tspan font-weight="bold" font-style="italic" fill="#222">Iw:</tspan> only Δσ <tspan font-style="italic">spectral-ratio</tspan></text>
<text x="663.5" y="585" font-size="16.3" text-anchor="end" fill="#333" font-style="italic"># of events: 52</text>
<text x="663.5" y="597.6" font-size="16.3" text-anchor="end" fill="#333"><tspan font-weight="bold" font-style="italic" fill="#222">Se:</tspan> only Δσ <tspan font-style="italic">spectral-ratio</tspan></text>
<rect x="45.3" y="0.5" width="111.3" height="44.3" fill="#fff" stroke="#7a7a7a" stroke-width="1"/>
<line x1="55.85" y1="3.5" x2="55.85" y2="43.2" stroke="#4f8250" stroke-width="2"/>
<line x1="46.9" y1="29.4" x2="64.4" y2="29.4" stroke="#4f8250" stroke-width="2"/>
<rect x="51.8" y="25.5" width="8.3" height="8.3" fill="#fff" stroke="#000" stroke-width="1.4"/>
<text x="67.7" y="18.9" font-size="16" fill="#333">Median Δσ</text>
<text x="67.7" y="37.8" font-size="16" fill="#333">&amp; mean τ<tspan font-size="8.6" dx="0.8" dy="3.5">max</tspan></text>
<defs><linearGradient id="cbg" x1="0" y1="0" x2="1" y2="0"><stop offset="0.0" stop-color="#808082"/><stop offset="0.1" stop-color="#8a859c"/><stop offset="0.2" stop-color="#a084b4"/><stop offset="0.3" stop-color="#b48bb6"/><stop offset="0.4" stop-color="#c992b3"/><stop offset="0.5" stop-color="#de9baa"/><stop offset="0.6" stop-color="#eea89c"/><stop offset="0.7" stop-color="#f9bc8c"/><stop offset="0.8" stop-color="#fed284"/><stop offset="0.9" stop-color="#faeba2"/><stop offset="1.0" stop-color="#feffd2"/></linearGradient></defs>
<rect x="213.5" y="661.6" width="283.4" height="14.2" fill="url(#cbg)"/>
<path stroke="#fff" stroke-opacity="0.14" stroke-width="0.7" d="M215.0 662.2V675.2M217.4 662.2V675.2M219.6 662.2V675.2M222.7 662.2V675.2M224.3 662.2V675.2M225.9 662.2V675.2M227.5 662.2V675.2M229.9 662.2V675.2M231.5 662.2V675.2M233.7 662.2V675.2M235.3 662.2V675.2M236.9 662.2V675.2M240.0 662.2V675.2M243.1 662.2V675.2M244.7 662.2V675.2M246.9 662.2V675.2M248.5 662.2V675.2M251.6 662.2V675.2M253.2 662.2V675.2M254.8 662.2V675.2M257.0 662.2V675.2M258.6 662.2V675.2M261.7 662.2V675.2M263.3 662.2V675.2M265.5 662.2V675.2M267.1 662.2V675.2M269.3 662.2V675.2M271.7 662.2V675.2M274.8 662.2V675.2M277.0 662.2V675.2M278.6 662.2V675.2M281.0 662.2V675.2M283.2 662.2V675.2M284.8 662.2V675.2M287.0 662.2V675.2M289.4 662.2V675.2M291.0 662.2V675.2M292.6 662.2V675.2M294.2 662.2V675.2M296.4 662.2V675.2M299.5 662.2V675.2M302.6 662.2V675.2M305.0 662.2V675.2M308.1 662.2V675.2M311.2 662.2V675.2M313.6 662.2V675.2M316.0 662.2V675.2M318.2 662.2V675.2M320.4 662.2V675.2M322.6 662.2V675.2M324.2 662.2V675.2M326.6 662.2V675.2M329.7 662.2V675.2M332.1 662.2V675.2M335.2 662.2V675.2M337.6 662.2V675.2M339.2 662.2V675.2M340.8 662.2V675.2M343.9 662.2V675.2M346.1 662.2V675.2M348.5 662.2V675.2M350.7 662.2V675.2M353.8 662.2V675.2M356.9 662.2V675.2M358.5 662.2V675.2M360.1 662.2V675.2M362.5 662.2V675.2M364.9 662.2V675.2M367.3 662.2V675.2M370.4 662.2V675.2M373.5 662.2V675.2M375.1 662.2V675.2M376.7 662.2V675.2M379.1 662.2V675.2M382.2 662.2V675.2M383.8 662.2V675.2M385.4 662.2V675.2M387.8 662.2V675.2M390.9 662.2V675.2M393.3 662.2V675.2M396.4 662.2V675.2M398.8 662.2V675.2M400.4 662.2V675.2M403.5 662.2V675.2M405.9 662.2V675.2M408.1 662.2V675.2M409.7 662.2V675.2M412.8 662.2V675.2M414.4 662.2V675.2M416.6 662.2V675.2M419.0 662.2V675.2M421.2 662.2V675.2M423.4 662.2V675.2M426.5 662.2V675.2M429.6 662.2V675.2M432.7 662.2V675.2M434.3 662.2V675.2M436.5 662.2V675.2M439.6 662.2V675.2M442.7 662.2V675.2M445.1 662.2V675.2M447.3 662.2V675.2M450.4 662.2V675.2M452.8 662.2V675.2M455.9 662.2V675.2M458.3 662.2V675.2M461.4 662.2V675.2M463.6 662.2V675.2M465.8 662.2V675.2M467.4 662.2V675.2M469.6 662.2V675.2M471.8 662.2V675.2M474.0 662.2V675.2M476.2 662.2V675.2M477.8 662.2V675.2M480.9 662.2V675.2M483.1 662.2V675.2M485.5 662.2V675.2M487.9 662.2V675.2M489.5 662.2V675.2M491.7 662.2V675.2M494.8 662.2V675.2"/>
<path d="M496.9 661.6L510.8 668.7L496.9 675.8Z" fill="#feffd2"/>
<path d="M213.5 661.6H496.9L510.8 668.7L496.9 675.8H213.5Z" fill="none" stroke="#333" stroke-width="1.1"/>
<path d="M213.5 675.8v3.7M260.73 675.8v3.7M307.97 675.8v3.7M355.2 675.8v3.7M402.43 675.8v3.7M449.67 675.8v3.7M496.9 675.8v3.7" stroke="#333" stroke-width="1"/>
<text x="214.6" y="693.4" font-size="14" text-anchor="middle" fill="#111">0</text>
<text x="262.33" y="693.4" font-size="14" text-anchor="middle" fill="#111">10</text>
<text x="309.57" y="693.4" font-size="14" text-anchor="middle" fill="#111">20</text>
<text x="356.8" y="693.4" font-size="14" text-anchor="middle" fill="#111">30</text>
<text x="404.03" y="693.4" font-size="14" text-anchor="middle" fill="#111">40</text>
<text x="451.27" y="693.4" font-size="14" text-anchor="middle" fill="#111">50</text>
<text x="498.5" y="693.4" font-size="14" text-anchor="middle" fill="#111">60</text>
<text x="356" y="655.4" font-size="18.6" text-anchor="middle" fill="#000">Depth [km]</text>
</svg></body></html>
